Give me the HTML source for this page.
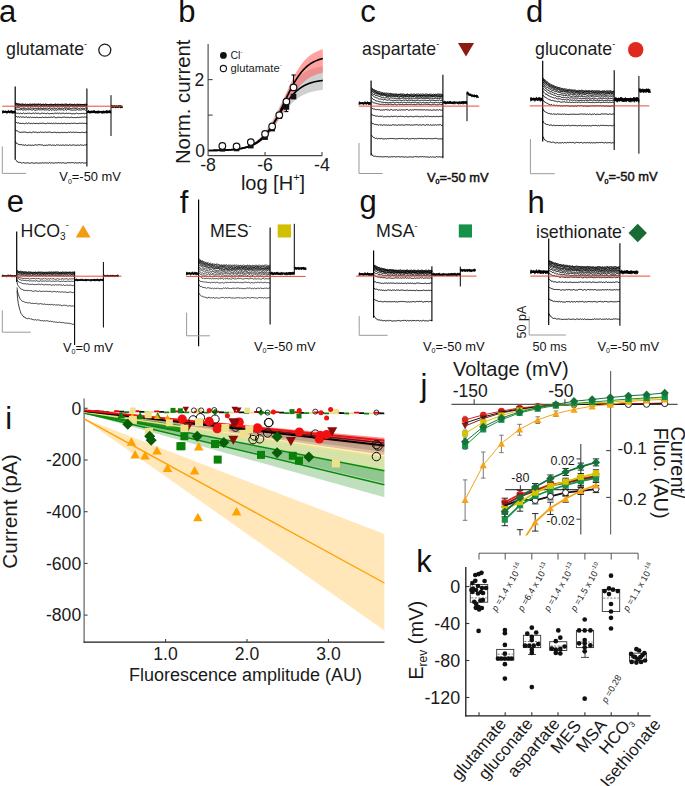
<!DOCTYPE html>
<html><head><meta charset="utf-8"><style>
html,body{margin:0;padding:0;background:#fff;}
svg{display:block;}
text{font-family:"Liberation Sans", sans-serif;}
</style></head><body>
<svg width="685" height="786" viewBox="0 0 685 786">
<rect width="685" height="786" fill="#fff"/>
<text x="-1.1" y="22.1" font-size="31" text-anchor="start" fill="#111" >a</text>
<text x="178.2" y="22.1" font-size="31" text-anchor="start" fill="#111" >b</text>
<text x="360.3" y="22.1" font-size="31" text-anchor="start" fill="#111" >c</text>
<text x="526" y="22.1" font-size="31" text-anchor="start" fill="#111" >d</text>
<text x="6.8" y="212.4" font-size="31" text-anchor="start" fill="#111" >e</text>
<text x="179.7" y="212.9" font-size="31" text-anchor="start" fill="#111" >f</text>
<text x="359.6" y="212.1" font-size="31" text-anchor="start" fill="#111" >g</text>
<text x="527.6" y="212.6" font-size="31" text-anchor="start" fill="#111" >h</text>
<text x="5.3" y="428.7" font-size="31" text-anchor="start" fill="#111" >i</text>
<text x="420.4" y="396.2" font-size="31" text-anchor="start" fill="#111" >j</text>
<text x="416.2" y="572" font-size="31" text-anchor="start" fill="#111" >k</text>
<polyline points="15.5,102.5 16.1,102.81 16.8,103.71 17.5,103.88 18.2,103.64 18.9,103.96 19.6,104.02 20.3,104.24 21,104.4 21.7,103.88 22.4,103.85 23.1,104.52 23.8,104.21 24.5,104.48 25.2,103.88 25.9,104.24 26.6,104.47 27.3,104.08 28,104.65 28.7,104.62 29.4,103.92 30.1,103.92 30.8,104.33 31.5,104.65 32.2,104.2 32.9,104.07 33.6,104.24 34.3,103.92 35,104.08 35.7,104.25 36.4,104.3 37.1,104.09 37.8,104.08 38.5,104.07 39.2,104.27 39.9,104.13 40.6,103.92 41.3,104.57 42,104.35 42.7,104.41 43.4,104.05 44.1,104.69 44.8,104.59 45.5,104 46.2,104.17 46.9,104.48 47.6,104.47 48.3,104.65 49,104.24 49.7,104.56 50.4,104.44 51.1,104.14 51.8,104.37 52.5,104.61 53.2,104.58 53.9,104.3 54.6,104.37 55.3,103.93 56,104.09 56.7,104.54 57.4,104.23 58.1,104.04 58.8,104.34 59.5,104.46 60.2,104.44 60.9,104.2 61.6,104.25 62.3,104.31 63,104.52 63.7,104.32 64.4,104.21 65.1,104.29 65.8,103.92 66.5,103.93 67.2,104.46 67.9,104.69 68.6,104.37 69.3,104.21 70,104.04 70.7,104.3 71.4,104.69 72.1,104.52 72.8,104.33 73.5,104.59 74.2,104.09 74.9,104.31 75.6,104.66 76.3,104.36 77,104.27 77.7,104.12 78.4,104.34 79.1,104.67 79.8,103.9 80.5,104.53 81.2,104.56 81.9,104.61 82.6,104.49 83.3,104.55 84,104.31 84.7,104.35 85.4,104.24 86.1,103.94 86.8,104.6 86.9,104.3" fill="none" stroke="#000" stroke-width="0.9" stroke-linejoin="round" />
<polyline points="15.5,103 16.1,103.63 16.8,103.64 17.5,104.11 18.2,104.25 18.9,104.27 19.6,104.35 20.3,104.56 21,104.68 21.7,104.7 22.4,104.6 23.1,104.28 23.8,104.45 24.5,104.42 25.2,104.75 25.9,104.98 26.6,104.93 27.3,104.93 28,104.95 28.7,104.5 29.4,104.97 30.1,104.84 30.8,104.37 31.5,104.31 32.2,104.31 32.9,104.9 33.6,104.5 34.3,104.39 35,104.8 35.7,104.58 36.4,104.36 37.1,104.43 37.8,104.72 38.5,104.43 39.2,104.52 39.9,104.87 40.6,104.66 41.3,104.56 42,104.68 42.7,104.32 43.4,104.61 44.1,104.64 44.8,104.45 45.5,104.39 46.2,105.02 46.9,104.71 47.6,104.47 48.3,104.78 49,104.95 49.7,104.32 50.4,104.31 51.1,104.42 51.8,104.88 52.5,104.43 53.2,104.86 53.9,104.84 54.6,104.74 55.3,104.48 56,105.08 56.7,104.94 57.4,104.71 58.1,104.48 58.8,104.82 59.5,104.62 60.2,104.76 60.9,104.56 61.6,104.8 62.3,104.35 63,104.54 63.7,105.07 64.4,105 65.1,104.55 65.8,104.99 66.5,104.55 67.2,105.05 67.9,104.9 68.6,104.63 69.3,104.5 70,104.31 70.7,105 71.4,104.33 72.1,104.96 72.8,105.07 73.5,104.76 74.2,104.44 74.9,104.99 75.6,105.08 76.3,104.86 77,104.71 77.7,104.6 78.4,104.58 79.1,104.46 79.8,104.84 80.5,104.65 81.2,104.46 81.9,104.38 82.6,104.83 83.3,104.54 84,104.7 84.7,104.56 85.4,105 86.1,105.02 86.8,104.31 86.9,104.7" fill="none" stroke="#000" stroke-width="0.9" stroke-linejoin="round" />
<polyline points="15.5,103.5 16.1,103.83 16.8,104.24 17.5,104.99 18.2,104.99 18.9,104.76 19.6,104.74 20.3,105.17 21,105.35 21.7,105.46 22.4,105.01 23.1,105.46 23.8,105.32 24.5,105.16 25.2,105.57 25.9,104.97 26.6,105.37 27.3,104.86 28,104.93 28.7,105.53 29.4,104.97 30.1,105.41 30.8,105.28 31.5,105.47 32.2,105.09 32.9,105.07 33.6,105.03 34.3,105.49 35,105.28 35.7,105.56 36.4,105.51 37.1,104.91 37.8,105.24 38.5,104.88 39.2,104.83 39.9,104.86 40.6,105.49 41.3,105.43 42,105.46 42.7,105.07 43.4,105.29 44.1,105.43 44.8,105.1 45.5,105.26 46.2,104.98 46.9,104.87 47.6,105.01 48.3,105.51 49,105.25 49.7,105.54 50.4,105.17 51.1,105.02 51.8,105.43 52.5,105.46 53.2,104.81 53.9,105.34 54.6,104.87 55.3,104.89 56,105.51 56.7,104.83 57.4,104.99 58.1,105.59 58.8,105.14 59.5,104.89 60.2,104.93 60.9,104.99 61.6,105.4 62.3,104.88 63,105.53 63.7,105.1 64.4,105.58 65.1,105.53 65.8,105.04 66.5,105 67.2,105.18 67.9,104.88 68.6,105.32 69.3,104.83 70,104.81 70.7,105.59 71.4,105.04 72.1,105.28 72.8,105.16 73.5,105.05 74.2,104.85 74.9,105.53 75.6,105.58 76.3,105.58 77,104.89 77.7,104.97 78.4,105.29 79.1,105.58 79.8,105.23 80.5,105.35 81.2,105.33 81.9,105.01 82.6,105.23 83.3,105.05 84,105 84.7,104.87 85.4,105.02 86.1,105.59 86.8,105.16 86.9,105.2" fill="none" stroke="#000" stroke-width="0.9" stroke-linejoin="round" />
<polyline points="15.5,104.3 16.1,104.93 16.8,105.19 17.5,105.63 18.2,105.33 18.9,105.37 19.6,105.46 20.3,105.51 21,105.97 21.7,106.04 22.4,105.59 23.1,105.63 23.8,105.81 24.5,105.84 25.2,105.86 25.9,105.58 26.6,105.41 27.3,105.59 28,105.45 28.7,105.84 29.4,105.45 30.1,105.46 30.8,105.91 31.5,105.63 32.2,106.03 32.9,105.79 33.6,106.09 34.3,105.52 35,105.8 35.7,106.04 36.4,105.46 37.1,106.16 37.8,105.54 38.5,106.02 39.2,106.19 39.9,106.06 40.6,105.66 41.3,105.49 42,105.81 42.7,106.14 43.4,105.63 44.1,106.12 44.8,105.51 45.5,106.13 46.2,105.43 46.9,105.65 47.6,106.12 48.3,106.04 49,106.13 49.7,106.07 50.4,106 51.1,105.95 51.8,105.54 52.5,105.75 53.2,105.53 53.9,105.97 54.6,105.93 55.3,105.6 56,105.45 56.7,106.17 57.4,106.05 58.1,105.84 58.8,105.83 59.5,106.08 60.2,105.76 60.9,105.72 61.6,105.67 62.3,105.61 63,105.42 63.7,105.92 64.4,105.73 65.1,105.86 65.8,105.45 66.5,105.68 67.2,105.51 67.9,105.5 68.6,105.61 69.3,106.06 70,105.72 70.7,105.72 71.4,105.89 72.1,105.59 72.8,105.41 73.5,105.82 74.2,105.8 74.9,105.92 75.6,105.75 76.3,105.95 77,105.99 77.7,105.59 78.4,105.8 79.1,105.78 79.8,105.58 80.5,105.73 81.2,105.85 81.9,106.13 82.6,106.13 83.3,105.62 84,105.92 84.7,105.44 85.4,105.46 86.1,105.81 86.8,106.1 86.9,105.8" fill="none" stroke="#000" stroke-width="0.9" stroke-linejoin="round" />
<polyline points="15.5,105.2 16.1,105.4 16.8,106.14 17.5,106.41 18.2,106.09 18.9,106.49 19.6,106.69 20.3,106.36 21,106.66 21.7,106.72 22.4,106.62 23.1,106.85 23.8,106.89 24.5,106.95 25.2,106.64 25.9,106.33 26.6,106.39 27.3,106.37 28,106.65 28.7,106.8 29.4,106.24 30.1,106.74 30.8,106.77 31.5,106.48 32.2,106.61 32.9,106.33 33.6,106.78 34.3,106.23 35,106.98 35.7,106.85 36.4,106.7 37.1,106.41 37.8,106.93 38.5,106.97 39.2,106.31 39.9,106.82 40.6,106.87 41.3,106.73 42,106.76 42.7,106.56 43.4,106.94 44.1,106.98 44.8,106.51 45.5,106.84 46.2,106.55 46.9,106.33 47.6,106.46 48.3,106.3 49,106.93 49.7,106.97 50.4,106.3 51.1,106.68 51.8,106.53 52.5,106.29 53.2,106.44 53.9,106.4 54.6,106.8 55.3,106.2 56,106.35 56.7,106.55 57.4,106.22 58.1,106.7 58.8,106.68 59.5,106.87 60.2,106.37 60.9,106.43 61.6,106.63 62.3,106.42 63,106.67 63.7,106.4 64.4,106.75 65.1,106.83 65.8,106.85 66.5,106.98 67.2,106.64 67.9,106.59 68.6,106.88 69.3,106.82 70,106.66 70.7,106.51 71.4,106.43 72.1,106.29 72.8,106.85 73.5,106.29 74.2,106.8 74.9,106.64 75.6,106.97 76.3,106.81 77,106.98 77.7,106.31 78.4,106.6 79.1,106.66 79.8,106.45 80.5,106.6 81.2,106.49 81.9,106.62 82.6,106.2 83.3,106.55 84,106.56 84.7,106.44 85.4,106.52 86.1,106.83 86.8,106.75 86.9,106.6" fill="none" stroke="#000" stroke-width="0.9" stroke-linejoin="round" />
<polyline points="15.5,107 16.1,107.43 16.8,107.79 17.5,107.75 18.2,107.73 18.9,107.66 19.6,107.95 20.3,108.25 21,108.51 21.7,108.5 22.4,108.26 23.1,108.65 23.8,108.24 24.5,108.55 25.2,108.21 25.9,108.49 26.6,108.68 27.3,108.14 28,108.03 28.7,108.39 29.4,108.32 30.1,108.19 30.8,107.9 31.5,108.21 32.2,108.24 32.9,108.22 33.6,108.59 34.3,108.37 35,108.49 35.7,108.62 36.4,108.5 37.1,108.29 37.8,108.5 38.5,108.41 39.2,108.42 39.9,108.4 40.6,108.23 41.3,108.4 42,108.41 42.7,108.65 43.4,108.53 44.1,108.58 44.8,108.51 45.5,108.55 46.2,108.38 46.9,108.18 47.6,108.11 48.3,108.47 49,108.6 49.7,108.34 50.4,108.02 51.1,108.57 51.8,108.29 52.5,108.27 53.2,107.94 53.9,108.31 54.6,108.5 55.3,108.24 56,108.18 56.7,108.43 57.4,107.92 58.1,108.31 58.8,108.66 59.5,108.45 60.2,108.22 60.9,108.45 61.6,108.38 62.3,108.07 63,108.07 63.7,108.61 64.4,108.12 65.1,107.96 65.8,108.56 66.5,108.32 67.2,108.19 67.9,108.31 68.6,108.49 69.3,108.03 70,108.42 70.7,108.47 71.4,108.55 72.1,108.12 72.8,108.39 73.5,108.09 74.2,108.35 74.9,108.04 75.6,108.53 76.3,108.59 77,108.16 77.7,108.08 78.4,108.67 79.1,108.47 79.8,108.58 80.5,107.92 81.2,108.62 81.9,108.4 82.6,108.15 83.3,108.25 84,108.51 84.7,108.53 85.4,108.05 86.1,108.4 86.8,108.03 86.9,108.3" fill="none" stroke="#000" stroke-width="0.9" stroke-linejoin="round" />
<polyline points="15.5,108.8 16.1,109.55 16.8,109.32 17.5,109.84 18.2,109.8 18.9,109.78 19.6,109.56 20.3,109.81 21,109.53 21.7,109.55 22.4,110.03 23.1,109.76 23.8,110.08 24.5,109.68 25.2,110.06 25.9,110.07 26.6,109.74 27.3,109.58 28,109.81 28.7,109.89 29.4,109.58 30.1,109.65 30.8,109.54 31.5,109.98 32.2,110.21 32.9,109.67 33.6,109.53 34.3,110.06 35,110.15 35.7,110.27 36.4,109.99 37.1,109.77 37.8,110.17 38.5,109.59 39.2,110.05 39.9,109.58 40.6,109.82 41.3,109.9 42,109.8 42.7,109.63 43.4,109.69 44.1,110.16 44.8,109.87 45.5,109.96 46.2,109.67 46.9,110.07 47.6,109.76 48.3,109.97 49,110.23 49.7,110.3 50.4,109.54 51.1,110.14 51.8,110.19 52.5,109.76 53.2,109.81 53.9,109.96 54.6,110.24 55.3,109.82 56,110.2 56.7,110.11 57.4,109.62 58.1,110.23 58.8,109.51 59.5,109.62 60.2,110.03 60.9,109.55 61.6,109.8 62.3,109.6 63,109.87 63.7,110.17 64.4,110.22 65.1,109.53 65.8,109.55 66.5,110.17 67.2,109.53 67.9,109.72 68.6,109.59 69.3,109.57 70,109.52 70.7,110.01 71.4,110.1 72.1,110.05 72.8,110.18 73.5,110.03 74.2,109.81 74.9,110 75.6,110.28 76.3,110.01 77,109.69 77.7,109.55 78.4,110.25 79.1,109.97 79.8,109.78 80.5,109.98 81.2,109.95 81.9,109.92 82.6,109.55 83.3,109.78 84,109.83 84.7,109.66 85.4,110.2 86.1,109.84 86.8,110.03 86.9,109.9" fill="none" stroke="#000" stroke-width="0.9" stroke-linejoin="round" />
<polyline points="15.5,112.6 16.1,113.04 16.8,113.21 17.5,113.3 18.2,113.4 18.9,113.05 19.6,113.67 20.3,113.04 21,113.68 21.7,113.64 22.4,113.65 23.1,113.02 23.8,113.06 24.5,113.64 25.2,113.37 25.9,113.29 26.6,113.78 27.3,113.03 28,113.42 28.7,113.35 29.4,113.1 30.1,113.32 30.8,113.57 31.5,113.71 32.2,113.02 32.9,113.42 33.6,113.07 34.3,113.64 35,113.07 35.7,113.03 36.4,113.31 37.1,113.59 37.8,113.25 38.5,113.1 39.2,113.64 39.9,113.65 40.6,113.68 41.3,113.24 42,113.34 42.7,113.2 43.4,113.45 44.1,113.26 44.8,113.27 45.5,113.63 46.2,113.77 46.9,113.47 47.6,113.08 48.3,113.52 49,113.36 49.7,113.79 50.4,113.58 51.1,113.67 51.8,113.56 52.5,113.43 53.2,113.72 53.9,113.67 54.6,113.23 55.3,113.13 56,113.3 56.7,113.42 57.4,113.08 58.1,113.28 58.8,113.46 59.5,113.03 60.2,113.65 60.9,113.52 61.6,113.25 62.3,113.24 63,113.28 63.7,113.26 64.4,113.6 65.1,113.4 65.8,113.42 66.5,113.12 67.2,113.73 67.9,113.26 68.6,113.26 69.3,113.06 70,113.78 70.7,113.38 71.4,113.73 72.1,113.74 72.8,113.78 73.5,113.65 74.2,113.74 74.9,113.74 75.6,113.64 76.3,113.11 77,113.42 77.7,113.46 78.4,113.79 79.1,113.63 79.8,113.56 80.5,113.6 81.2,113.29 81.9,113.75 82.6,113.51 83.3,113.32 84,113.37 84.7,113.78 85.4,113.43 86.1,113.13 86.8,113.12 86.9,113.4" fill="none" stroke="#000" stroke-width="0.9" stroke-linejoin="round" />
<polyline points="15.5,115.8 16.1,116.45 16.8,116.63 17.5,117.1 18.2,116.66 18.9,116.95 19.6,117.28 20.3,116.79 21,116.87 21.7,117.26 22.4,117.06 23.1,116.94 23.8,117.08 24.5,117.38 25.2,117.31 25.9,116.95 26.6,116.95 27.3,117.57 28,117.41 28.7,117.04 29.4,117.59 30.1,116.92 30.8,117.19 31.5,117.58 32.2,117.47 32.9,117.13 33.6,117.61 34.3,117.38 35,117.59 35.7,117.61 36.4,117.24 37.1,117.44 37.8,117.34 38.5,117.66 39.2,117.54 39.9,117.48 40.6,117.55 41.3,117.7 42,117.11 42.7,117.06 43.4,117.5 44.1,117.52 44.8,117.31 45.5,117.29 46.2,117.22 46.9,117.61 47.6,117.54 48.3,117.37 49,116.93 49.7,117.58 50.4,117.27 51.1,117.05 51.8,117.14 52.5,117.45 53.2,116.9 53.9,117 54.6,117.14 55.3,117.61 56,117.5 56.7,117.68 57.4,117.33 58.1,117.36 58.8,117.34 59.5,117.32 60.2,117.33 60.9,117.55 61.6,117.66 62.3,117.23 63,117.4 63.7,117.15 64.4,117.14 65.1,117.31 65.8,117.37 66.5,117.34 67.2,117.68 67.9,117.03 68.6,117.41 69.3,117.7 70,117.49 70.7,117.35 71.4,117.19 72.1,117.22 72.8,117.65 73.5,117.62 74.2,117.44 74.9,117.62 75.6,117.64 76.3,117.58 77,117.21 77.7,117.27 78.4,117.54 79.1,117.2 79.8,117.5 80.5,117.29 81.2,117.17 81.9,117.26 82.6,116.99 83.3,117.18 84,117.23 84.7,116.91 85.4,117.04 86.1,117.11 86.8,117.59 86.9,117.3" fill="none" stroke="#000" stroke-width="0.9" stroke-linejoin="round" />
<polyline points="15.5,121.8 16.1,122.41 16.8,122.46 17.5,123.24 18.2,122.8 18.9,123.11 19.6,123.38 20.3,123.4 21,123.23 21.7,123.54 22.4,123.33 23.1,123.53 23.8,123.36 24.5,123.75 25.2,123.56 25.9,123.06 26.6,123.09 27.3,123.77 28,123.18 28.7,123.02 29.4,123.2 30.1,123.38 30.8,123.76 31.5,123.32 32.2,123.58 32.9,123.67 33.6,123.07 34.3,123.49 35,123.8 35.7,123.44 36.4,123.43 37.1,123.28 37.8,123.76 38.5,123.78 39.2,123.08 39.9,123.44 40.6,123.34 41.3,123.54 42,123.09 42.7,123.21 43.4,123.22 44.1,123.38 44.8,123.63 45.5,123.69 46.2,123.63 46.9,123.54 47.6,123.07 48.3,123.31 49,123.53 49.7,123.24 50.4,123.41 51.1,123.72 51.8,123.09 52.5,123.68 53.2,123.08 53.9,123.31 54.6,123.72 55.3,123.16 56,123.42 56.7,123.33 57.4,123.71 58.1,123.79 58.8,123.23 59.5,123.39 60.2,123.72 60.9,123.44 61.6,123.17 62.3,123.61 63,123.27 63.7,123.39 64.4,123.01 65.1,123.79 65.8,123.53 66.5,123.74 67.2,123.77 67.9,123.21 68.6,123.43 69.3,123.35 70,123.61 70.7,123.67 71.4,123.18 72.1,123.22 72.8,123.57 73.5,123.33 74.2,123.1 74.9,123.16 75.6,123.45 76.3,123.48 77,123.77 77.7,123.43 78.4,123.49 79.1,123.12 79.8,123.33 80.5,123.22 81.2,123.56 81.9,123.21 82.6,123.17 83.3,123.29 84,123.38 84.7,123.27 85.4,123.48 86.1,123.14 86.8,123.7 86.9,123.4" fill="none" stroke="#000" stroke-width="0.9" stroke-linejoin="round" />
<polyline points="15.5,129.4 16.1,130.56 16.8,130.98 17.5,130.99 18.2,131.49 18.9,131.99 19.6,132.11 20.3,132.35 21,132.5 21.7,132.1 22.4,132.28 23.1,132.18 23.8,132.04 24.5,132.07 25.2,132.17 25.9,132.05 26.6,132.41 27.3,132.55 28,132.44 28.7,132.54 29.4,132.18 30.1,132.16 30.8,132.45 31.5,132.71 32.2,132.34 32.9,132 33.6,132.02 34.3,132.24 35,132.49 35.7,132.07 36.4,132.18 37.1,132.54 37.8,132.79 38.5,132.27 39.2,132.48 39.9,132.41 40.6,132.02 41.3,132.26 42,132.11 42.7,132.2 43.4,132.62 44.1,132.54 44.8,132.03 45.5,132.06 46.2,132.58 46.9,132.08 47.6,132.25 48.3,132.22 49,132.04 49.7,132.02 50.4,132.11 51.1,132.32 51.8,132.75 52.5,132.51 53.2,132.19 53.9,132.54 54.6,132.22 55.3,132.41 56,132.26 56.7,132.76 57.4,132.28 58.1,132.64 58.8,132.51 59.5,132.67 60.2,132.48 60.9,132.7 61.6,132.32 62.3,132.54 63,132.5 63.7,132.42 64.4,132.45 65.1,132.43 65.8,132.32 66.5,132.72 67.2,132.51 67.9,132.44 68.6,132.04 69.3,132.41 70,132.14 70.7,132.17 71.4,132.35 72.1,132.44 72.8,132.2 73.5,132.22 74.2,132.42 74.9,132.38 75.6,132.32 76.3,132.08 77,132.3 77.7,132.52 78.4,132.44 79.1,132.44 79.8,132.68 80.5,132.58 81.2,132.55 81.9,132.02 82.6,132.25 83.3,132.55 84,132.12 84.7,132.73 85.4,132.11 86.1,132.7 86.8,132.17 86.9,132.4" fill="none" stroke="#000" stroke-width="0.9" stroke-linejoin="round" />
<polyline points="15.5,141.3 16.1,142.85 16.8,143.54 17.5,143.63 18.2,144.44 18.9,144.12 19.6,144.87 20.3,144.63 21,144.78 21.7,144.6 22.4,145.04 23.1,144.81 23.8,145.16 24.5,145.28 25.2,145.14 25.9,144.68 26.6,145.44 27.3,145.42 28,145.2 28.7,145 29.4,145.14 30.1,145.4 30.8,145.06 31.5,145.32 32.2,145.18 32.9,145.04 33.6,145.45 34.3,145.03 35,145.18 35.7,144.74 36.4,145.08 37.1,144.73 37.8,145.26 38.5,144.7 39.2,144.73 39.9,144.79 40.6,144.81 41.3,145.11 42,144.99 42.7,144.92 43.4,145.49 44.1,145.43 44.8,145.22 45.5,145.34 46.2,145.36 46.9,144.9 47.6,145.35 48.3,144.89 49,145.15 49.7,144.99 50.4,144.83 51.1,145.32 51.8,145.43 52.5,144.95 53.2,145.4 53.9,144.98 54.6,145.23 55.3,145.5 56,145.32 56.7,144.74 57.4,145.05 58.1,145 58.8,144.94 59.5,145.35 60.2,145.05 60.9,145.26 61.6,145.21 62.3,145.12 63,144.74 63.7,145.24 64.4,145.41 65.1,144.84 65.8,145.21 66.5,145.09 67.2,144.97 67.9,145.27 68.6,145.48 69.3,144.72 70,145.42 70.7,145.01 71.4,145.37 72.1,144.84 72.8,145.27 73.5,144.78 74.2,144.97 74.9,145.48 75.6,145.23 76.3,145.33 77,145.07 77.7,145.08 78.4,145.09 79.1,145.32 79.8,145.28 80.5,144.86 81.2,145.05 81.9,145.13 82.6,145.16 83.3,145.44 84,145.37 84.7,144.82 85.4,145 86.1,144.79 86.8,144.72 86.9,145.1" fill="none" stroke="#000" stroke-width="0.9" stroke-linejoin="round" />
<polyline points="15.5,159.7 16.1,160.43 16.8,161.1 17.5,161.99 18.2,162.22 18.9,162.54 19.6,162.3 20.3,162.31 21,163.05 21.7,162.99 22.4,163.14 23.1,162.43 23.8,162.75 24.5,162.96 25.2,163.05 25.9,163.21 26.6,162.91 27.3,162.8 28,162.49 28.7,163.14 29.4,163.28 30.1,163.22 30.8,163.03 31.5,162.77 32.2,162.69 32.9,163.12 33.6,163.25 34.3,163.27 35,162.64 35.7,162.97 36.4,162.91 37.1,162.84 37.8,163.14 38.5,163.25 39.2,163.08 39.9,163.06 40.6,163.05 41.3,163.02 42,162.93 42.7,162.7 43.4,163.12 44.1,162.6 44.8,163.02 45.5,162.81 46.2,162.95 46.9,163.01 47.6,162.88 48.3,163.28 49,162.69 49.7,162.51 50.4,163.26 51.1,162.75 51.8,162.72 52.5,162.83 53.2,162.98 53.9,163.29 54.6,163.07 55.3,162.75 56,162.93 56.7,162.86 57.4,162.9 58.1,162.83 58.8,162.63 59.5,162.82 60.2,162.81 60.9,162.66 61.6,163.15 62.3,162.79 63,162.62 63.7,162.95 64.4,163.18 65.1,163.12 65.8,163 66.5,163.08 67.2,162.77 67.9,162.61 68.6,162.7 69.3,162.78 70,162.72 70.7,162.87 71.4,162.62 72.1,162.6 72.8,162.7 73.5,162.66 74.2,163.14 74.9,162.93 75.6,162.66 76.3,162.84 77,163.2 77.7,162.96 78.4,162.94 79.1,162.81 79.8,162.66 80.5,163 81.2,162.56 81.9,163.13 82.6,162.55 83.3,163.1 84,162.81 84.7,163.05 85.4,162.97 86.1,162.6 86.8,162.93 86.9,162.9" fill="none" stroke="#000" stroke-width="0.9" stroke-linejoin="round" />
<line x1="2.3" y1="111.9" x2="15.2" y2="111.9" stroke="#000" stroke-width="1.9599999999999997" />
<polyline points="2.3,113.48 2.6,113.45 2.9,110.36 3.2,110.46 3.5,113.06 3.8,112.72 4.1,112.49 4.4,111.23 4.7,112.27 5,112.27 5.3,112.18 5.6,110.71 5.9,111.66 6.2,111.53 6.5,112.67 6.8,113.62 7.1,113.46 7.4,112.05 7.7,111.71 8,111.1 8.3,110.29 8.6,110.26 8.9,111.78 9.2,111.27 9.5,111.48 9.8,113.26 10.1,111.99 10.4,112.11 10.7,110.98 11,110.25 11.3,111.29 11.6,110.64 11.9,111.94 12.2,113.63 12.5,112.51 12.8,110.8 13.1,113.27 13.4,112.93 13.7,112.71 14,113.31 14.3,112.81 14.6,112.91 14.9,111.39 15.2,113.57" fill="none" stroke="#000" stroke-width="0.75" stroke-linejoin="round" />
<line x1="86.9" y1="111.9" x2="111" y2="111.9" stroke="#000" stroke-width="1.9599999999999997" />
<polyline points="86.9,110.99 87.2,112.05 87.5,111.45 87.8,112.26 88.1,112.34 88.4,110.39 88.7,110.21 89,113.07 89.3,111.06 89.6,110.98 89.9,113.62 90.2,111.8 90.5,113.07 90.8,111.82 91.1,112.38 91.4,110.69 91.7,112.37 92,113.18 92.3,111.98 92.6,112.74 92.9,112.5 93.2,110.39 93.5,112.8 93.8,112.22 94.1,111.21 94.4,110.27 94.7,113.17 95,111.81 95.3,112.66 95.6,113.22 95.9,112.64 96.2,113.36 96.5,111.54 96.8,112.94 97.1,111.71 97.4,113.41 97.7,113.22 98,110.5 98.3,110.64 98.6,110.92 98.9,113.52 99.2,111.68 99.5,112.34 99.8,111.21 100.1,111.93 100.4,111.5 100.7,111.38 101,112.2 101.3,112.19 101.6,113.3 101.9,112.53 102.2,113.39 102.5,113.14 102.8,113.6 103.1,112.49 103.4,110.73 103.7,113.15 104,113.51 104.3,113.31 104.6,112.14 104.9,112.64 105.2,110.9 105.5,113.05 105.8,112.16 106.1,111.15 106.4,110.38 106.7,113.13 107,113.6 107.3,110.47 107.6,112.94 107.9,111.59 108.2,110.69 108.5,111.18 108.8,112.83 109.1,113.19 109.4,110.32 109.7,112.3 110,110.32 110.3,112.66 110.6,111.31 110.9,113.22 111,113.57" fill="none" stroke="#000" stroke-width="0.75" stroke-linejoin="round" />
<line x1="111" y1="106.6" x2="122.4" y2="106.6" stroke="#000" stroke-width="1.9599999999999997" />
<polyline points="111,105.68 111.3,105.22 111.6,106.24 111.9,105.4 112.2,105.09 112.5,106.26 112.8,108.05 113.1,107.64 113.4,107.52 113.7,105.63 114,106.73 114.3,105.82 114.6,105.46 114.9,105.23 115.2,105.61 115.5,108.08 115.8,107.74 116.1,107.66 116.4,107.64 116.7,105.54 117,105.94 117.3,107.04 117.6,107.41 117.9,107.83 118.2,107.92 118.5,105.17 118.8,106.97 119.1,107.2 119.4,106.62 119.7,105.48 120,106.51 120.3,105.17 120.6,108.11 120.9,107.87 121.2,106.77 121.5,105.91 121.8,108.02 122.1,106.85 122.4,107.93 122.4,107.81" fill="none" stroke="#000" stroke-width="0.75" stroke-linejoin="round" />
<line x1="111" y1="95.2" x2="111" y2="136" stroke="#000" stroke-width="1.0" />
<line x1="15.2" y1="86.6" x2="15.2" y2="159.7" stroke="#000" stroke-width="1.2" />
<line x1="86.9" y1="88.5" x2="86.9" y2="166.4" stroke="#000" stroke-width="1.1" />
<line x1="2.3" y1="106.2" x2="122.4" y2="106.2" stroke="#e94a35" stroke-width="1.0" />
<polyline points="2.3,146.4 2.3,173.4 26.2,173.4" fill="none" stroke="#9a9a9a" stroke-width="1.0" stroke-linejoin="round" />
<polyline points="371.4,87.5 372,88.19 372.7,88.78 373.4,89.54 374.1,89.6 374.8,90.02 375.5,90.45 376.2,90.45 376.9,91.02 377.6,91.39 378.3,91.77 379,91.44 379.7,91.82 380.4,91.85 381.1,92.6 381.8,92.67 382.5,92.3 383.2,93.19 383.9,93.3 384.6,93.17 385.3,93.24 386,92.97 386.7,92.94 387.4,93.44 388.1,93.14 388.8,93.31 389.5,93.41 390.2,93.3 390.9,93.7 391.6,93.73 392.3,94.09 393,93.88 393.7,94.01 394.4,93.93 395.1,94.09 395.8,93.96 396.5,93.84 397.2,94.44 397.9,94.46 398.6,94.35 399.3,94.27 400,93.97 400.7,93.92 401.4,93.98 402.1,93.82 402.8,94.38 403.5,94.1 404.2,94.47 404.9,94.11 405.6,94.58 406.3,94.49 407,93.82 407.7,94 408.4,94.56 409.1,94.22 409.8,94.63 410.5,94.17 411.2,93.91 411.9,94.36 412.6,94.48 413.3,94.08 414,93.94 414.7,94.14 415.4,94.64 416.1,94.48 416.8,93.97 417.5,94.08 418.2,93.96 418.9,93.93 419.6,94.52 420.3,94.03 421,94.33 421.7,94.25 422.4,94.04 423.1,94.48 423.8,94 424.5,94.41 425.2,93.99 425.9,94.23 426.6,94.06 427.3,94.11 428,94.67 428.7,94.54 429.4,94.14 430.1,94.6 430.8,94.06 431.5,94.21 432.2,94.58 432.9,94.41 433.6,93.98 434.3,94.69 435,94.07 435.7,94.1 436.4,94.52 437.1,94.16 437.8,94.14 438.5,93.96 439.2,93.97 439.9,94.36 440.6,94.09 441.3,94.38 442,94.2 442.7,94.26 442.9,94.3" fill="none" stroke="#000" stroke-width="0.9" stroke-linejoin="round" />
<polyline points="371.4,88.5 372,89.56 372.7,89.67 373.4,90.18 374.1,90.83 374.8,90.65 375.5,90.97 376.2,91.89 376.9,92.11 377.6,91.92 378.3,92.11 379,92.77 379.7,93.13 380.4,92.72 381.1,93.5 381.8,93.6 382.5,93.52 383.2,93.5 383.9,93.37 384.6,93.43 385.3,94.27 386,93.78 386.7,94.24 387.4,93.96 388.1,94.48 388.8,94.37 389.5,94.18 390.2,94.14 390.9,94.63 391.6,94.15 392.3,94.32 393,94.63 393.7,94.9 394.4,94.74 395.1,94.5 395.8,95.04 396.5,94.49 397.2,94.36 397.9,94.59 398.6,94.75 399.3,94.46 400,94.57 400.7,94.73 401.4,94.91 402.1,94.57 402.8,94.77 403.5,95.2 404.2,95.28 404.9,95.03 405.6,95.07 406.3,94.99 407,94.64 407.7,94.56 408.4,94.55 409.1,95.27 409.8,95.11 410.5,95.32 411.2,94.57 411.9,95.07 412.6,94.95 413.3,95.15 414,94.82 414.7,95.37 415.4,94.63 416.1,95.01 416.8,95.17 417.5,95.3 418.2,95.17 418.9,95.15 419.6,95.22 420.3,95.32 421,94.87 421.7,95.14 422.4,95.31 423.1,95.29 423.8,94.92 424.5,95.22 425.2,95.28 425.9,95.05 426.6,95.09 427.3,94.9 428,95.06 428.7,95.08 429.4,94.66 430.1,95.11 430.8,95.39 431.5,95.3 432.2,95.18 432.9,94.91 433.6,95.19 434.3,95.06 435,94.95 435.7,95.27 436.4,94.67 437.1,95.2 437.8,94.62 438.5,95.08 439.2,94.98 439.9,94.78 440.6,95.16 441.3,95 442,95.09 442.7,95.34 442.9,95" fill="none" stroke="#000" stroke-width="0.9" stroke-linejoin="round" />
<polyline points="371.4,89.2 372,89.69 372.7,89.97 373.4,90.64 374.1,91.34 374.8,91.33 375.5,91.64 376.2,92.54 376.9,92.63 377.6,92.71 378.3,93.31 379,93.08 379.7,93.55 380.4,93.36 381.1,93.71 381.8,94.16 382.5,94.39 383.2,94.49 383.9,94.22 384.6,94.48 385.3,94.37 386,94.32 386.7,94.69 387.4,95.04 388.1,95.11 388.8,95.07 389.5,95.32 390.2,94.83 390.9,94.8 391.6,95.07 392.3,94.97 393,94.96 393.7,95.15 394.4,95.35 395.1,95.28 395.8,95.16 396.5,95.6 397.2,95.74 397.9,95.34 398.6,95.05 399.3,95.04 400,95.73 400.7,95.07 401.4,95.62 402.1,95.52 402.8,95.33 403.5,95.72 404.2,95.11 404.9,95.22 405.6,95.48 406.3,95.14 407,95.79 407.7,95.32 408.4,95.25 409.1,95.18 409.8,95.65 410.5,95.51 411.2,95.66 411.9,95.69 412.6,95.81 413.3,95.93 414,95.72 414.7,95.33 415.4,95.55 416.1,95.32 416.8,95.19 417.5,95.56 418.2,95.75 418.9,95.33 419.6,95.4 420.3,95.46 421,95.75 421.7,95.6 422.4,95.68 423.1,95.8 423.8,95.51 424.5,95.83 425.2,95.92 425.9,95.26 426.6,95.94 427.3,95.77 428,95.3 428.7,95.56 429.4,95.7 430.1,95.92 430.8,95.5 431.5,95.65 432.2,95.9 432.9,95.83 433.6,95.95 434.3,95.57 435,95.72 435.7,95.36 436.4,95.78 437.1,95.85 437.8,95.71 438.5,95.77 439.2,95.37 439.9,95.92 440.6,95.98 441.3,95.98 442,95.63 442.7,95.83 442.9,95.6" fill="none" stroke="#000" stroke-width="0.9" stroke-linejoin="round" />
<polyline points="371.4,90 372,90.53 372.7,91.47 373.4,91.86 374.1,91.85 374.8,92 375.5,92.62 376.2,93.01 376.9,93.46 377.6,93.49 378.3,93.36 379,94.2 379.7,93.8 380.4,94.57 381.1,94.23 381.8,94.51 382.5,95.02 383.2,94.62 383.9,94.75 384.6,95.15 385.3,95.41 386,95.59 386.7,95.56 387.4,95.84 388.1,95.54 388.8,95.97 389.5,95.34 390.2,95.5 390.9,95.79 391.6,95.65 392.3,96.04 393,96 393.7,95.94 394.4,96.23 395.1,96.03 395.8,95.86 396.5,95.94 397.2,96.33 397.9,96.4 398.6,95.86 399.3,96.4 400,96.5 400.7,96.16 401.4,96.22 402.1,95.93 402.8,96.21 403.5,96.19 404.2,96.28 404.9,95.83 405.6,96.59 406.3,96.24 407,96.15 407.7,96.48 408.4,96.29 409.1,96.24 409.8,96.4 410.5,95.91 411.2,96.29 411.9,96.19 412.6,96.63 413.3,96.61 414,96.09 414.7,96.25 415.4,95.98 416.1,96.22 416.8,96.53 417.5,96.6 418.2,96.26 418.9,96.14 419.6,96.04 420.3,96.38 421,96.63 421.7,95.99 422.4,96.51 423.1,95.91 423.8,96.05 424.5,96.07 425.2,96.44 425.9,96.15 426.6,96.18 427.3,96.39 428,95.98 428.7,96.48 429.4,95.99 430.1,96.3 430.8,96.1 431.5,96.05 432.2,96.32 432.9,96.25 433.6,96.2 434.3,96.23 435,96.32 435.7,96.03 436.4,96.06 437.1,96.4 437.8,96.41 438.5,96.32 439.2,96.58 439.9,96.39 440.6,96.58 441.3,96.09 442,96.49 442.7,96.55 442.9,96.3" fill="none" stroke="#000" stroke-width="0.9" stroke-linejoin="round" />
<polyline points="371.4,91 372,91.96 372.7,91.94 373.4,92.35 374.1,93.21 374.8,93 375.5,93.94 376.2,94.14 376.9,93.8 377.6,94.13 378.3,94.74 379,94.57 379.7,94.63 380.4,95.39 381.1,95.22 381.8,95.66 382.5,95.26 383.2,95.6 383.9,95.94 384.6,95.5 385.3,95.74 386,96.21 386.7,96.48 387.4,96.59 388.1,95.98 388.8,96.35 389.5,96.6 390.2,96.45 390.9,96.64 391.6,96.29 392.3,96.23 393,96.3 393.7,96.27 394.4,96.72 395.1,96.71 395.8,96.78 396.5,96.47 397.2,96.52 397.9,96.55 398.6,97.08 399.3,97.22 400,97.18 400.7,96.53 401.4,96.51 402.1,97.24 402.8,96.86 403.5,97.11 404.2,96.77 404.9,96.89 405.6,96.93 406.3,96.87 407,97.01 407.7,96.55 408.4,97.1 409.1,97.22 409.8,96.7 410.5,96.92 411.2,97.15 411.9,96.89 412.6,96.72 413.3,96.7 414,96.98 414.7,96.59 415.4,97.29 416.1,97.22 416.8,97.14 417.5,97.27 418.2,97.09 418.9,96.91 419.6,97.07 420.3,96.99 421,97.37 421.7,97.23 422.4,96.8 423.1,97.32 423.8,97.19 424.5,97.21 425.2,97.24 425.9,96.92 426.6,97.31 427.3,97.3 428,97.15 428.7,97.21 429.4,97.21 430.1,96.92 430.8,97.17 431.5,96.65 432.2,96.87 432.9,96.97 433.6,96.61 434.3,96.88 435,97.11 435.7,97.1 436.4,96.78 437.1,97.35 437.8,97.13 438.5,96.87 439.2,97.13 439.9,97.05 440.6,97.03 441.3,96.91 442,97.4 442.7,97.11 442.9,97" fill="none" stroke="#000" stroke-width="0.9" stroke-linejoin="round" />
<polyline points="371.4,92.5 372,93.38 372.7,93.94 373.4,94.56 374.1,94.21 374.8,95.06 375.5,95.49 376.2,95.41 376.9,95.8 377.6,95.77 378.3,96.11 379,96.46 379.7,96.42 380.4,96.71 381.1,97.39 381.8,97.24 382.5,97.33 383.2,97.81 383.9,97.59 384.6,98.02 385.3,97.82 386,98.03 386.7,97.51 387.4,97.99 388.1,98.18 388.8,97.66 389.5,98.41 390.2,97.84 390.9,98.12 391.6,97.91 392.3,98.21 393,98.33 393.7,97.91 394.4,98.64 395.1,98.24 395.8,98.35 396.5,98.42 397.2,98.25 397.9,98.2 398.6,98.51 399.3,98.44 400,98.23 400.7,98.59 401.4,98.26 402.1,98.04 402.8,98.23 403.5,98.08 404.2,98.17 404.9,98.66 405.6,98.37 406.3,98.78 407,98.66 407.7,98.11 408.4,98.86 409.1,98.83 409.8,98.13 410.5,98.8 411.2,98.42 411.9,98.46 412.6,98.86 413.3,98.28 414,98.51 414.7,98.84 415.4,98.67 416.1,98.46 416.8,98.87 417.5,98.75 418.2,98.58 418.9,98.19 419.6,98.59 420.3,98.46 421,98.26 421.7,98.14 422.4,98.52 423.1,98.2 423.8,98.45 424.5,98.63 425.2,98.46 425.9,98.31 426.6,98.56 427.3,98.43 428,98.72 428.7,98.52 429.4,98.9 430.1,98.86 430.8,98.69 431.5,98.29 432.2,98.19 432.9,98.81 433.6,98.73 434.3,98.6 435,98.39 435.7,98.32 436.4,98.65 437.1,98.55 437.8,98.57 438.5,98.61 439.2,98.7 439.9,98.25 440.6,98.3 441.3,98.88 442,98.83 442.7,98.8 442.9,98.5" fill="none" stroke="#000" stroke-width="0.9" stroke-linejoin="round" />
<polyline points="371.4,94.5 372,94.95 372.7,95.53 373.4,96.2 374.1,96.76 374.8,97.31 375.5,97.25 376.2,97.91 376.9,97.81 377.6,98.07 378.3,98.76 379,98.86 379.7,99.1 380.4,99.05 381.1,99.27 381.8,99.18 382.5,99.39 383.2,99.81 383.9,99.97 384.6,99.44 385.3,99.54 386,100.15 386.7,100.06 387.4,100.23 388.1,99.82 388.8,100.03 389.5,99.93 390.2,100.4 390.9,100.08 391.6,100.33 392.3,100.62 393,100.11 393.7,100.3 394.4,100.48 395.1,100.63 395.8,100.25 396.5,100.21 397.2,100 397.9,100.63 398.6,100 399.3,100.01 400,100.4 400.7,100.35 401.4,100.51 402.1,100.21 402.8,100.59 403.5,100.03 404.2,100.15 404.9,100.51 405.6,100.05 406.3,100.23 407,100.57 407.7,100.54 408.4,100.21 409.1,100.1 409.8,100.28 410.5,100.57 411.2,100.29 411.9,100.09 412.6,100.56 413.3,100.45 414,100.73 414.7,100.75 415.4,100.73 416.1,100.35 416.8,100.64 417.5,100.24 418.2,100.25 418.9,100.32 419.6,100.75 420.3,100.71 421,100.2 421.7,100.29 422.4,100.29 423.1,100.29 423.8,100.32 424.5,100.31 425.2,100.16 425.9,100.45 426.6,100.64 427.3,100.43 428,100.67 428.7,100.45 429.4,100.14 430.1,100.61 430.8,100.7 431.5,100.22 432.2,100.02 432.9,100.41 433.6,100.44 434.3,100.45 435,100.77 435.7,100.52 436.4,100.64 437.1,100.05 437.8,100.44 438.5,100.63 439.2,100.07 439.9,100.07 440.6,100.59 441.3,100.72 442,100.07 442.7,100.51 442.9,100.4" fill="none" stroke="#000" stroke-width="0.9" stroke-linejoin="round" />
<polyline points="371.4,97.5 372,98.06 372.7,99.09 373.4,99.5 374.1,99.6 374.8,99.94 375.5,100.7 376.2,100.78 376.9,101.21 377.6,101.13 378.3,101.26 379,101.92 379.7,101.82 380.4,101.8 381.1,101.94 381.8,102.18 382.5,102.24 383.2,102.48 383.9,102.13 384.6,102.52 385.3,102.44 386,102.62 386.7,102.62 387.4,102.67 388.1,102.74 388.8,102.82 389.5,102.58 390.2,102.51 390.9,102.67 391.6,102.76 392.3,102.46 393,102.47 393.7,102.26 394.4,102.74 395.1,102.95 395.8,102.46 396.5,102.3 397.2,102.34 397.9,102.52 398.6,102.41 399.3,102.96 400,102.23 400.7,102.43 401.4,102.28 402.1,102.71 402.8,102.81 403.5,102.34 404.2,102.24 404.9,102.56 405.6,102.66 406.3,102.92 407,102.23 407.7,102.28 408.4,102.34 409.1,102.37 409.8,102.39 410.5,102.77 411.2,102.67 411.9,102.38 412.6,102.35 413.3,102.42 414,102.34 414.7,102.81 415.4,102.45 416.1,102.64 416.8,102.85 417.5,102.58 418.2,102.41 418.9,102.91 419.6,102.93 420.3,102.47 421,102.64 421.7,102.97 422.4,102.59 423.1,102.38 423.8,102.24 424.5,102.96 425.2,102.84 425.9,102.51 426.6,102.62 427.3,102.61 428,102.42 428.7,102.99 429.4,102.73 430.1,102.39 430.8,102.21 431.5,102.58 432.2,102.5 432.9,102.84 433.6,102.77 434.3,102.68 435,102.33 435.7,102.33 436.4,102.46 437.1,102.41 437.8,102.9 438.5,102.61 439.2,102.71 439.9,102.99 440.6,102.41 441.3,102.63 442,102.32 442.7,102.82 442.9,102.6" fill="none" stroke="#000" stroke-width="0.9" stroke-linejoin="round" />
<polyline points="371.4,101 372,101.31 372.7,102.41 373.4,102.81 374.1,103.1 374.8,102.78 375.5,103.15 376.2,103.7 376.9,103.36 377.6,103.79 378.3,103.9 379,104.38 379.7,104.16 380.4,104.44 381.1,104.06 381.8,104.49 382.5,104.23 383.2,104.66 383.9,104.03 384.6,104.64 385.3,104.17 386,104.45 386.7,104.45 387.4,104.17 388.1,104.72 388.8,104.31 389.5,104.31 390.2,104.13 390.9,104.32 391.6,104.45 392.3,104.65 393,104.37 393.7,104.64 394.4,104.17 395.1,104.41 395.8,104.46 396.5,104.87 397.2,104.76 397.9,104.62 398.6,104.11 399.3,104.4 400,104.67 400.7,104.29 401.4,104.55 402.1,104.46 402.8,104.11 403.5,104.89 404.2,104.74 404.9,104.26 405.6,104.59 406.3,104.33 407,104.4 407.7,104.53 408.4,104.34 409.1,104.37 409.8,104.41 410.5,104.63 411.2,104.31 411.9,104.26 412.6,104.69 413.3,104.36 414,104.86 414.7,104.55 415.4,104.68 416.1,104.37 416.8,104.76 417.5,104.17 418.2,104.21 418.9,104.18 419.6,104.64 420.3,104.67 421,104.24 421.7,104.42 422.4,104.77 423.1,104.57 423.8,104.17 424.5,104.28 425.2,104.23 425.9,104.2 426.6,104.43 427.3,104.16 428,104.84 428.7,104.44 429.4,104.51 430.1,104.62 430.8,104.71 431.5,104.76 432.2,104.41 432.9,104.37 433.6,104.43 434.3,104.11 435,104.42 435.7,104.66 436.4,104.89 437.1,104.73 437.8,104.63 438.5,104.59 439.2,104.11 439.9,104.36 440.6,104.37 441.3,104.62 442,104.19 442.7,104.4 442.9,104.5" fill="none" stroke="#000" stroke-width="0.9" stroke-linejoin="round" />
<polyline points="371.4,107.5 372,108.13 372.7,108.72 373.4,109.05 374.1,109.11 374.8,108.93 375.5,109.56 376.2,109.78 376.9,109.59 377.6,109.51 378.3,109.68 379,109.44 379.7,109.93 380.4,110.18 381.1,109.83 381.8,110 382.5,110.11 383.2,109.62 383.9,110.22 384.6,109.98 385.3,109.64 386,109.55 386.7,109.68 387.4,109.95 388.1,110.05 388.8,109.76 389.5,110.24 390.2,109.78 390.9,109.87 391.6,109.6 392.3,110.28 393,109.61 393.7,110.22 394.4,109.93 395.1,109.95 395.8,109.95 396.5,109.71 397.2,110.23 397.9,110.29 398.6,110.15 399.3,109.98 400,109.6 400.7,110.16 401.4,109.73 402.1,110.22 402.8,109.69 403.5,109.96 404.2,110.16 404.9,109.65 405.6,109.94 406.3,109.56 407,109.53 407.7,109.64 408.4,110.29 409.1,110.25 409.8,110.03 410.5,109.75 411.2,110.04 411.9,110.09 412.6,109.81 413.3,109.97 414,110.14 414.7,109.51 415.4,109.66 416.1,109.87 416.8,109.61 417.5,109.81 418.2,109.96 418.9,109.64 419.6,109.92 420.3,109.71 421,109.95 421.7,109.77 422.4,110.01 423.1,109.53 423.8,110.04 424.5,109.62 425.2,110.27 425.9,109.98 426.6,109.88 427.3,109.83 428,110 428.7,110.05 429.4,110.11 430.1,110.1 430.8,109.89 431.5,110.3 432.2,110.17 432.9,110.18 433.6,109.83 434.3,109.85 435,109.95 435.7,110.22 436.4,109.92 437.1,109.92 437.8,109.85 438.5,110.22 439.2,109.76 439.9,109.54 440.6,110.08 441.3,110.22 442,110.09 442.7,109.98 442.9,109.9" fill="none" stroke="#000" stroke-width="0.9" stroke-linejoin="round" />
<polyline points="371.4,114 372,114.96 372.7,115.03 373.4,115.58 374.1,115.4 374.8,115.63 375.5,116.03 376.2,116.18 376.9,116.17 377.6,115.96 378.3,116.52 379,116.41 379.7,116.21 380.4,116.28 381.1,116.37 381.8,116.25 382.5,116.13 383.2,116.81 383.9,116.86 384.6,116.62 385.3,116.78 386,116.43 386.7,116.74 387.4,116.27 388.1,116.69 388.8,116.55 389.5,116.82 390.2,116.18 390.9,116.73 391.6,116.2 392.3,116.53 393,116.86 393.7,116.1 394.4,116.29 395.1,116.34 395.8,116.36 396.5,116.15 397.2,116.82 397.9,116.75 398.6,116.42 399.3,116.39 400,116.57 400.7,116.14 401.4,116.12 402.1,116.82 402.8,116.35 403.5,116.5 404.2,116.85 404.9,116.88 405.6,116.48 406.3,116.27 407,116.34 407.7,116.84 408.4,116.82 409.1,116.26 409.8,116.77 410.5,116.38 411.2,116.48 411.9,116.24 412.6,116.8 413.3,116.9 414,116.26 414.7,116.61 415.4,116.25 416.1,116.8 416.8,116.14 417.5,116.18 418.2,116.68 418.9,116.35 419.6,116.82 420.3,116.8 421,116.67 421.7,116.21 422.4,116.66 423.1,116.85 423.8,116.46 424.5,116.16 425.2,116.28 425.9,116.35 426.6,116.67 427.3,116.26 428,116.24 428.7,116.29 429.4,116.63 430.1,116.73 430.8,116.4 431.5,116.63 432.2,116.81 432.9,116.57 433.6,116.28 434.3,116.34 435,116.84 435.7,116.63 436.4,116.32 437.1,116.61 437.8,116.17 438.5,116.89 439.2,116.45 439.9,116.52 440.6,116.52 441.3,116.14 442,116.58 442.7,116.33 442.9,116.5" fill="none" stroke="#000" stroke-width="0.9" stroke-linejoin="round" />
<polyline points="371.4,122.5 372,123.06 372.7,123.92 373.4,123.67 374.1,124.08 374.8,124.64 375.5,124.37 376.2,124.5 376.9,124.79 377.6,124.56 378.3,125.18 379,125.28 379.7,124.55 380.4,124.91 381.1,125.15 381.8,124.87 382.5,125.32 383.2,124.98 383.9,124.73 384.6,125.03 385.3,125.11 386,124.88 386.7,125.12 387.4,125.22 388.1,125.01 388.8,125 389.5,125.27 390.2,125.15 390.9,125.02 391.6,125.36 392.3,124.74 393,125.22 393.7,124.73 394.4,125.09 395.1,124.79 395.8,124.95 396.5,125.22 397.2,125.23 397.9,125.23 398.6,124.79 399.3,124.99 400,124.78 400.7,125.06 401.4,125 402.1,124.63 402.8,125.08 403.5,125.17 404.2,125.06 404.9,125.3 405.6,124.74 406.3,124.72 407,124.61 407.7,125 408.4,124.95 409.1,124.95 409.8,124.81 410.5,125.24 411.2,124.66 411.9,125.33 412.6,125.06 413.3,125.03 414,125.23 414.7,124.79 415.4,124.72 416.1,124.85 416.8,124.63 417.5,124.85 418.2,125.1 418.9,125.02 419.6,124.81 420.3,125.07 421,124.67 421.7,125.26 422.4,124.74 423.1,124.8 423.8,124.73 424.5,125.15 425.2,125.26 425.9,125.23 426.6,124.65 427.3,124.93 428,124.89 428.7,124.77 429.4,125.38 430.1,124.63 430.8,124.99 431.5,125.21 432.2,125.39 432.9,124.72 433.6,124.96 434.3,125.2 435,124.63 435.7,124.79 436.4,125.31 437.1,124.71 437.8,124.91 438.5,124.84 439.2,124.94 439.9,124.66 440.6,124.63 441.3,125.4 442,125.21 442.7,125.19 442.9,125" fill="none" stroke="#000" stroke-width="0.9" stroke-linejoin="round" />
<polyline points="371.4,135 372,136.03 372.7,136.71 373.4,137.44 374.1,137.55 374.8,137.98 375.5,138.55 376.2,138.23 376.9,138.3 377.6,138.89 378.3,138.65 379,138.23 379.7,138.55 380.4,138.77 381.1,138.31 381.8,138.55 382.5,138.83 383.2,138.98 383.9,138.76 384.6,139 385.3,138.66 386,138.61 386.7,138.97 387.4,138.6 388.1,138.92 388.8,138.47 389.5,138.58 390.2,138.45 390.9,138.74 391.6,138.43 392.3,138.46 393,138.47 393.7,138.67 394.4,138.55 395.1,138.66 395.8,139.09 396.5,138.84 397.2,138.99 397.9,138.46 398.6,138.61 399.3,138.36 400,138.85 400.7,138.59 401.4,138.52 402.1,138.31 402.8,138.45 403.5,138.51 404.2,138.61 404.9,139.04 405.6,138.87 406.3,138.51 407,138.59 407.7,138.42 408.4,139.05 409.1,138.59 409.8,138.91 410.5,138.88 411.2,139.03 411.9,138.32 412.6,138.56 413.3,138.61 414,138.37 414.7,139.01 415.4,138.56 416.1,138.92 416.8,138.72 417.5,138.34 418.2,138.62 418.9,138.49 419.6,138.33 420.3,138.42 421,138.78 421.7,138.33 422.4,138.55 423.1,138.64 423.8,138.74 424.5,138.41 425.2,138.87 425.9,138.51 426.6,138.88 427.3,138.83 428,138.42 428.7,138.46 429.4,138.52 430.1,138.87 430.8,138.62 431.5,138.61 432.2,138.99 432.9,138.48 433.6,138.53 434.3,138.58 435,138.47 435.7,138.33 436.4,138.32 437.1,138.8 437.8,138.75 438.5,138.95 439.2,139.08 439.9,138.54 440.6,138.84 441.3,139.04 442,138.47 442.7,138.85 442.9,138.7" fill="none" stroke="#000" stroke-width="0.9" stroke-linejoin="round" />
<polyline points="371.4,153.5 372,154.87 372.7,155.74 373.4,156.12 374.1,155.93 374.8,156.47 375.5,156.2 376.2,156.58 376.9,156.63 377.6,156.42 378.3,156.71 379,156.7 379.7,156.85 380.4,156.69 381.1,156.6 381.8,156.81 382.5,156.87 383.2,156.63 383.9,157.03 384.6,156.69 385.3,156.57 386,156.77 386.7,156.84 387.4,156.62 388.1,156.97 388.8,157.06 389.5,156.94 390.2,157.06 390.9,156.52 391.6,156.81 392.3,156.79 393,156.55 393.7,156.82 394.4,156.54 395.1,156.9 395.8,156.97 396.5,156.88 397.2,156.76 397.9,156.7 398.6,156.52 399.3,156.78 400,157.21 400.7,156.95 401.4,156.71 402.1,157.03 402.8,156.65 403.5,156.88 404.2,156.99 404.9,157.26 405.6,156.79 406.3,156.96 407,157.25 407.7,157.12 408.4,157 409.1,157 409.8,156.83 410.5,156.83 411.2,156.72 411.9,157.16 412.6,157.2 413.3,156.81 414,157.23 414.7,156.53 415.4,156.61 416.1,156.91 416.8,156.75 417.5,156.79 418.2,157.28 418.9,156.62 419.6,156.65 420.3,156.68 421,157.04 421.7,156.69 422.4,156.5 423.1,156.94 423.8,156.82 424.5,156.69 425.2,156.89 425.9,157.02 426.6,156.94 427.3,157 428,156.95 428.7,157.16 429.4,157.28 430.1,156.77 430.8,156.78 431.5,157.21 432.2,156.75 432.9,157.07 433.6,157.06 434.3,157.05 435,157.27 435.7,157.16 436.4,156.63 437.1,157 437.8,156.89 438.5,156.95 439.2,156.8 439.9,156.73 440.6,157.1 441.3,156.93 442,156.69 442.7,156.7 442.9,156.9" fill="none" stroke="#000" stroke-width="0.9" stroke-linejoin="round" />
<line x1="358.8" y1="103.2" x2="371.1" y2="103.2" stroke="#000" stroke-width="1.9599999999999997" />
<polyline points="358.8,104.78 359.1,104.75 359.4,101.66 359.7,101.76 360,104.36 360.3,104.02 360.6,103.79 360.9,102.53 361.2,103.57 361.5,103.57 361.8,103.48 362.1,102.01 362.4,102.96 362.7,102.83 363,103.97 363.3,104.92 363.6,104.76 363.9,103.35 364.2,103.01 364.5,102.4 364.8,101.59 365.1,101.56 365.4,103.08 365.7,102.57 366,102.78 366.3,104.56 366.6,103.29 366.9,103.41 367.2,102.28 367.5,101.55 367.8,102.59 368.1,101.94 368.4,103.24 368.7,104.93 369,103.81 369.3,102.1 369.6,104.57 369.9,104.23 370.2,104.01 370.5,104.61 370.8,104.11 371.1,104.21" fill="none" stroke="#000" stroke-width="0.75" stroke-linejoin="round" />
<polyline points="442.9,102.6 443.4,102.6 443.9,102.6 444.4,102.6 444.9,102.6 445.4,102.6 445.9,102.6 446.4,102.6 446.9,102.6 447.4,102.6 447.9,102.6 448.4,102.6 448.9,102.6 449.4,102.6 449.9,102.6 450.4,102.6 450.9,102.6 451.4,102.6 451.9,102.6 452.4,102.6 452.9,102.6 453.4,102.6 453.9,102.6 454.4,102.6 454.9,102.6 455.4,102.6 455.9,102.6 456.4,102.6 456.9,102.6 457.4,102.6 457.9,102.6 458.4,102.6 458.9,102.6 459.4,102.6 459.9,102.6 460.4,102.6 460.9,102.6 461.4,102.6 461.9,102.6 462.4,102.6 462.9,102.6 463.4,102.6 463.9,102.6 464.4,102.6 464.9,102.6 465.4,102.6 465.9,102.6 466.4,102.6 466.9,102.6" fill="none" stroke="#000" stroke-width="1.9599999999999997" stroke-linejoin="round" />
<polyline points="442.9,101.69 443.2,102.75 443.5,102.15 443.8,102.96 444.1,103.04 444.4,101.09 444.7,100.91 445,103.77 445.3,101.76 445.6,101.68 445.9,104.32 446.2,102.5 446.5,103.77 446.8,102.52 447.1,103.08 447.4,101.39 447.7,103.07 448,103.88 448.3,102.68 448.6,103.44 448.9,103.2 449.2,101.09 449.5,103.5 449.8,102.92 450.1,101.91 450.4,100.97 450.7,103.87 451,102.51 451.3,103.36 451.6,103.92 451.9,103.34 452.2,104.06 452.5,102.24 452.8,103.64 453.1,102.41 453.4,104.11 453.7,103.92 454,101.2 454.3,101.34 454.6,101.62 454.9,104.22 455.2,102.38 455.5,103.04 455.8,101.91 456.1,102.63 456.4,102.2 456.7,102.08 457,102.9 457.3,102.89 457.6,104 457.9,103.23 458.2,104.09 458.5,103.84 458.8,104.3 459.1,103.19 459.4,101.43 459.7,103.85 460,104.21 460.3,104.01 460.6,102.84 460.9,103.34 461.2,101.6 461.5,103.75 461.8,102.86 462.1,101.85 462.4,101.08 462.7,103.83 463,104.3 463.3,101.17 463.6,103.64 463.9,102.29 464.2,101.39 464.5,101.88 464.8,103.53 465.1,103.89 465.4,101.02 465.7,103 466,101.02 466.3,103.36 466.6,102.01 466.9,103.92 467,104.27" fill="none" stroke="#000" stroke-width="0.75" stroke-linejoin="round" />
<polyline points="467,92.8 467.5,93.25 468,93.64 468.5,93.99 469,94.3 469.5,94.57 470,94.81 470.5,95.02 471,95.2 471.5,95.37 472,95.51 472.5,95.64 473,95.75 473.5,95.85 474,95.94 474.5,96.02 475,96.09 475.5,96.15 476,96.2 476.5,96.25 477,96.29 477.5,96.32 478,96.36" fill="none" stroke="#000" stroke-width="1.9599999999999997" stroke-linejoin="round" />
<polyline points="467,91.88 467.3,91.7 467.6,92.97 467.9,92.37 468.2,92.28 468.5,93.65 468.8,95.63 469.1,95.4 469.4,95.44 469.7,93.7 470,94.93 470.3,94.16 470.6,93.92 470.9,93.8 471.2,94.28 471.5,96.85 471.8,96.6 472.1,96.6 472.4,96.66 472.7,94.62 473,95.09 473.3,96.25 473.6,96.68 473.9,97.15 474.2,97.29 474.5,94.58 474.8,96.43 475.1,96.69 475.4,96.16 475.7,95.05 476,96.11 476.3,94.8 476.6,97.76 476.9,97.55 477.2,96.47 477.5,95.63 477.8,97.76 478.1,96.61 478.4,97.93" fill="none" stroke="#000" stroke-width="0.75" stroke-linejoin="round" />
<line x1="467" y1="91.8" x2="467" y2="121.2" stroke="#000" stroke-width="1.0" />
<line x1="371.1" y1="80.4" x2="371.1" y2="155.4" stroke="#000" stroke-width="1.2" />
<line x1="442.9" y1="74.7" x2="442.9" y2="158.3" stroke="#000" stroke-width="1.1" />
<line x1="358.8" y1="106.1" x2="479.3" y2="106.1" stroke="#e94a35" stroke-width="1.0" />
<polyline points="359,143 359,173.5 382.6,173.5" fill="none" stroke="#9a9a9a" stroke-width="1.0" stroke-linejoin="round" />
<polyline points="543,77.8 543.6,78.74 544.3,79.59 545,80.25 545.7,80.46 546.4,80.94 547.1,81.78 547.8,82.22 548.5,83.15 549.2,83.51 549.9,83.88 550.6,84.26 551.3,84.73 552,84.69 552.7,85.27 553.4,85.38 554.1,86.28 554.8,85.89 555.5,86.78 556.2,86.44 556.9,87.18 557.6,87.13 558.3,87.4 559,87.95 559.7,87.49 560.4,87.71 561.1,88.56 561.8,88.4 562.5,88.22 563.2,89.08 563.9,89.18 564.6,88.65 565.3,89.02 566,88.9 566.7,89.15 567.4,89.5 568.1,89.23 568.8,89.75 569.5,89.32 570.2,89.49 570.9,90.08 571.6,89.82 572.3,89.91 573,90.11 573.7,90.08 574.4,90.06 575.1,89.83 575.8,90.44 576.5,90.68 577.2,90.73 577.9,90.52 578.6,90.32 579.3,90.36 580,90.66 580.7,90.68 581.4,90.26 582.1,90.39 582.8,90.52 583.5,90.67 584.2,90.93 584.9,90.71 585.6,90.35 586.3,91.01 587,90.71 587.7,90.8 588.4,90.58 589.1,90.76 589.8,90.75 590.5,91.07 591.2,90.55 591.9,90.92 592.6,90.63 593.3,91.06 594,90.54 594.7,90.75 595.4,90.81 596.1,91.05 596.8,90.6 597.5,90.93 598.2,90.74 598.9,90.8 599.6,90.96 600.3,91.36 601,90.98 601.7,91.37 602.4,90.74 603.1,91.35 603.8,90.91 604.5,90.77 605.2,91.23 605.9,91.36 606.6,90.64 607.3,90.85 608,91.26 608.7,90.92 609.4,90.84 610.1,90.66 610.8,90.69 611.5,91.15 612.2,91.45 612.9,91.46 613.6,91.07 614.2,91.1" fill="none" stroke="#000" stroke-width="0.9" stroke-linejoin="round" />
<polyline points="543,78.7 543.6,79.27 544.3,80.19 545,81.21 545.7,81.86 546.4,82.29 547.1,82.5 547.8,83.26 548.5,83.7 549.2,84.28 549.9,84.42 550.6,85.38 551.3,85.72 552,85.49 552.7,85.94 553.4,86.73 554.1,86.56 554.8,87.38 555.5,87.3 556.2,87.7 556.9,87.95 557.6,87.79 558.3,88.06 559,88.24 559.7,88.77 560.4,88.96 561.1,88.68 561.8,89.44 562.5,89.22 563.2,89.22 563.9,89.51 564.6,90.07 565.3,89.86 566,90.02 566.7,90.36 567.4,90.5 568.1,90.43 568.8,90.25 569.5,90.47 570.2,90.8 570.9,90.78 571.6,90.69 572.3,90.57 573,90.65 573.7,91 574.4,90.92 575.1,90.53 575.8,91.14 576.5,91.34 577.2,91.3 577.9,91.42 578.6,91.47 579.3,91.21 580,91.45 580.7,91.15 581.4,90.96 582.1,91.19 582.8,91.19 583.5,91.71 584.2,91.54 584.9,91.44 585.6,91.53 586.3,91.15 587,91.5 587.7,91.65 588.4,91.42 589.1,91.32 589.8,91.47 590.5,91.41 591.2,91.72 591.9,91.3 592.6,91.27 593.3,91.46 594,91.77 594.7,91.84 595.4,91.77 596.1,91.99 596.8,91.55 597.5,91.29 598.2,91.66 598.9,91.63 599.6,91.43 600.3,91.83 601,91.57 601.7,91.49 602.4,91.57 603.1,92.07 603.8,91.33 604.5,91.61 605.2,91.55 605.9,91.49 606.6,91.68 607.3,91.52 608,92.08 608.7,91.75 609.4,91.91 610.1,91.48 610.8,91.73 611.5,91.84 612.2,92.03 612.9,91.56 613.6,91.73 614.2,91.8" fill="none" stroke="#000" stroke-width="0.9" stroke-linejoin="round" />
<polyline points="543,79.7 543.6,80.9 544.3,81.55 545,81.7 545.7,82.54 546.4,83.28 547.1,83.51 547.8,84.24 548.5,84.7 549.2,85.39 549.9,85.47 550.6,85.97 551.3,86.08 552,86.73 552.7,86.74 553.4,87.19 554.1,87.38 554.8,87.61 555.5,87.74 556.2,88.06 556.9,88.55 557.6,88.53 558.3,88.58 559,89.38 559.7,89.15 560.4,89.84 561.1,89.74 561.8,89.73 562.5,90.26 563.2,90.42 563.9,90.09 564.6,90.05 565.3,90.58 566,90.85 566.7,90.77 567.4,91.01 568.1,90.8 568.8,91.05 569.5,90.85 570.2,91.04 570.9,91.09 571.6,91.17 572.3,91.24 573,91.63 573.7,91.18 574.4,91.26 575.1,91.35 575.8,91.97 576.5,91.66 577.2,91.33 577.9,91.99 578.6,92.06 579.3,92.06 580,91.72 580.7,92.05 581.4,91.74 582.1,91.63 582.8,92.24 583.5,92.24 584.2,91.77 584.9,92.33 585.6,91.66 586.3,91.91 587,91.69 587.7,91.84 588.4,91.85 589.1,92.31 589.8,91.99 590.5,91.92 591.2,91.92 591.9,92.04 592.6,92.49 593.3,92.3 594,91.91 594.7,92.38 595.4,92.27 596.1,92.21 596.8,92.28 597.5,92.39 598.2,92.52 598.9,92.29 599.6,92.4 600.3,92.27 601,92.41 601.7,92.22 602.4,92.24 603.1,92.33 603.8,92.49 604.5,92.15 605.2,92.67 605.9,92.33 606.6,92.62 607.3,92.49 608,92.71 608.7,92.49 609.4,92.29 610.1,92.28 610.8,92.44 611.5,92.56 612.2,92.63 612.9,92.07 613.6,92.02 614.2,92.4" fill="none" stroke="#000" stroke-width="0.9" stroke-linejoin="round" />
<polyline points="543,80.6 543.6,81.2 544.3,81.84 545,82.44 545.7,82.99 546.4,83.74 547.1,84.16 547.8,85.11 548.5,85.52 549.2,86.24 549.9,86.65 550.6,86.87 551.3,87.41 552,87.02 552.7,87.51 553.4,88.38 554.1,88.31 554.8,88.37 555.5,89.07 556.2,89.05 556.9,89.38 557.6,89.41 558.3,89.56 559,89.63 559.7,90.23 560.4,90.68 561.1,90.87 561.8,90.85 562.5,91.13 563.2,90.81 563.9,90.89 564.6,91.51 565.3,91.36 566,91.53 566.7,91.1 567.4,91.37 568.1,91.67 568.8,91.95 569.5,92.11 570.2,92.13 570.9,91.87 571.6,91.97 572.3,92.42 573,92.58 573.7,92.24 574.4,92.06 575.1,92.45 575.8,92.43 576.5,92.34 577.2,92.27 577.9,92.44 578.6,92.66 579.3,92.3 580,92.67 580.7,93.03 581.4,92.9 582.1,92.53 582.8,92.69 583.5,92.46 584.2,92.99 584.9,92.93 585.6,92.59 586.3,92.91 587,92.96 587.7,92.97 588.4,92.82 589.1,92.78 589.8,92.84 590.5,93.36 591.2,92.84 591.9,92.99 592.6,92.97 593.3,92.75 594,92.94 594.7,92.8 595.4,92.9 596.1,92.95 596.8,92.94 597.5,93.42 598.2,92.91 598.9,92.95 599.6,93.22 600.3,93.01 601,93.11 601.7,93.23 602.4,92.77 603.1,93.26 603.8,92.8 604.5,92.93 605.2,93.38 605.9,93.53 606.6,93.28 607.3,92.88 608,93.1 608.7,92.97 609.4,93.42 610.1,92.94 610.8,92.91 611.5,93.27 612.2,93.27 612.9,93.24 613.6,93.15 614.2,93.2" fill="none" stroke="#000" stroke-width="0.9" stroke-linejoin="round" />
<polyline points="543,81.6 543.6,82.93 544.3,83.23 545,84.27 545.7,84.45 546.4,85.09 547.1,85.54 547.8,86.34 548.5,86.84 549.2,86.88 549.9,87.53 550.6,88.08 551.3,88.27 552,88.75 552.7,89.04 553.4,89.42 554.1,89.42 554.8,89.65 555.5,89.68 556.2,90.61 556.9,90.75 557.6,90.64 558.3,91.3 559,91.43 559.7,91 560.4,91.71 561.1,91.53 561.8,91.58 562.5,91.67 563.2,91.92 563.9,91.75 564.6,91.86 565.3,92.02 566,92.27 566.7,92.24 567.4,92.3 568.1,92.94 568.8,92.66 569.5,92.82 570.2,92.97 570.9,93.3 571.6,92.73 572.3,92.85 573,93.41 573.7,93.49 574.4,93.56 575.1,93.28 575.8,93.19 576.5,93.08 577.2,93.69 577.9,93.61 578.6,93.47 579.3,93.69 580,93.29 580.7,93.54 581.4,93.86 582.1,93.24 582.8,93.67 583.5,93.35 584.2,93.89 584.9,93.91 585.6,93.77 586.3,93.62 587,93.3 587.7,93.69 588.4,93.59 589.1,93.64 589.8,93.39 590.5,94.08 591.2,93.77 591.9,93.81 592.6,94.04 593.3,94.09 594,93.82 594.7,93.83 595.4,94.08 596.1,93.7 596.8,94.13 597.5,93.44 598.2,94.06 598.9,93.85 599.6,93.93 600.3,94.23 601,93.61 601.7,93.77 602.4,94.09 603.1,94.05 603.8,93.87 604.5,94.08 605.2,94 605.9,94.16 606.6,93.98 607.3,93.76 608,93.7 608.7,93.54 609.4,93.57 610.1,93.51 610.8,94.26 611.5,93.59 612.2,93.96 612.9,93.59 613.6,94.25 614.2,93.9" fill="none" stroke="#000" stroke-width="0.9" stroke-linejoin="round" />
<polyline points="543,83.5 543.6,84.45 544.3,84.83 545,85.97 545.7,86.58 546.4,87.22 547.1,87.14 547.8,87.76 548.5,88.42 549.2,88.55 549.9,89.18 550.6,89.66 551.3,90.05 552,90.44 552.7,90.69 553.4,90.61 554.1,91.25 554.8,91.25 555.5,91.28 556.2,91.39 556.9,92.08 557.6,92.07 558.3,92.04 559,92.53 559.7,92.64 560.4,92.72 561.1,93.06 561.8,93.17 562.5,93.29 563.2,93.78 563.9,93.82 564.6,93.44 565.3,94 566,93.65 566.7,94.23 567.4,93.61 568.1,93.89 568.8,94.45 569.5,94.31 570.2,94.4 570.9,94.06 571.6,94.05 572.3,94.77 573,94.11 573.7,94.24 574.4,94.49 575.1,94.84 575.8,94.77 576.5,95.06 577.2,94.92 577.9,94.67 578.6,95.08 579.3,94.63 580,94.45 580.7,95.2 581.4,95.16 582.1,95 582.8,94.88 583.5,94.68 584.2,94.71 584.9,94.6 585.6,94.64 586.3,94.96 587,95.31 587.7,95.35 588.4,95.03 589.1,95.17 589.8,95.01 590.5,95.27 591.2,95.22 591.9,95.45 592.6,95.35 593.3,95.22 594,95.16 594.7,94.83 595.4,95.08 596.1,95.07 596.8,94.84 597.5,94.88 598.2,95.05 598.9,94.87 599.6,95.23 600.3,95 601,95.53 601.7,95.29 602.4,95.16 603.1,95.1 603.8,95.07 604.5,94.92 605.2,95.53 605.9,95.49 606.6,95.28 607.3,95.29 608,94.88 608.7,95.2 609.4,94.91 610.1,95.03 610.8,95.25 611.5,94.91 612.2,94.97 612.9,95.36 613.6,95.17 614.2,95.2" fill="none" stroke="#000" stroke-width="0.9" stroke-linejoin="round" />
<polyline points="543,85.4 543.6,86.69 544.3,86.81 545,87.41 545.7,88.71 546.4,89.01 547.1,89.61 547.8,90 548.5,90.14 549.2,91.23 549.9,91.25 550.6,91.95 551.3,91.69 552,92.12 552.7,92.65 553.4,92.69 554.1,93.44 554.8,93.21 555.5,93.29 556.2,93.58 556.9,93.86 557.6,94.59 558.3,94.71 559,94.7 559.7,94.66 560.4,94.49 561.1,95.25 561.8,94.81 562.5,94.99 563.2,95.28 563.9,95.72 564.6,95.27 565.3,95.26 566,96.02 566.7,95.37 567.4,96.02 568.1,95.61 568.8,95.8 569.5,95.78 570.2,96.02 570.9,96.46 571.6,96.44 572.3,96.24 573,95.92 573.7,96.03 574.4,96.16 575.1,96.59 575.8,96.72 576.5,96.03 577.2,96.31 577.9,96.83 578.6,96.21 579.3,96.17 580,96.34 580.7,96.86 581.4,96.37 582.1,96.76 582.8,96.29 583.5,96.73 584.2,96.36 584.9,96.71 585.6,96.84 586.3,96.96 587,96.61 587.7,97.06 588.4,96.61 589.1,97.05 589.8,97.03 590.5,97.1 591.2,96.4 591.9,96.54 592.6,96.88 593.3,97.04 594,96.54 594.7,96.95 595.4,96.72 596.1,96.35 596.8,96.42 597.5,96.36 598.2,96.54 598.9,97.1 599.6,96.9 600.3,97.05 601,97.1 601.7,96.68 602.4,96.93 603.1,96.9 603.8,96.93 604.5,96.45 605.2,97.09 605.9,96.51 606.6,96.74 607.3,96.93 608,96.98 608.7,97.05 609.4,96.64 610.1,96.62 610.8,96.97 611.5,96.43 612.2,97.09 612.9,96.64 613.6,96.7 614.2,96.8" fill="none" stroke="#000" stroke-width="0.9" stroke-linejoin="round" />
<polyline points="543,88.2 543.6,88.95 544.3,89.92 545,90.1 545.7,90.63 546.4,91.1 547.1,91.64 547.8,92.49 548.5,93.21 549.2,92.82 549.9,93.56 550.6,93.82 551.3,94.1 552,94.43 552.7,94.52 553.4,95.04 554.1,95.15 554.8,95.22 555.5,95.49 556.2,96.32 556.9,96.34 557.6,96.72 558.3,96.74 559,96.83 559.7,96.56 560.4,96.6 561.1,97.42 561.8,97.29 562.5,97.43 563.2,97.06 563.9,97.67 564.6,97.55 565.3,97.27 566,97.45 566.7,98.12 567.4,97.91 568.1,97.54 568.8,97.59 569.5,98.18 570.2,97.91 570.9,98.06 571.6,97.83 572.3,97.9 573,98.19 573.7,98.17 574.4,98.01 575.1,98.01 575.8,98.27 576.5,98.03 577.2,98.02 577.9,98.37 578.6,98.05 579.3,98.62 580,98.66 580.7,98.63 581.4,98.84 582.1,98.23 582.8,98.45 583.5,98.45 584.2,98.19 584.9,98.83 585.6,98.19 586.3,98.95 587,98.72 587.7,98.97 588.4,98.24 589.1,98.91 589.8,98.98 590.5,98.83 591.2,98.68 591.9,98.74 592.6,98.61 593.3,98.92 594,98.7 594.7,98.68 595.4,98.57 596.1,98.75 596.8,98.72 597.5,99.01 598.2,98.88 598.9,98.53 599.6,98.84 600.3,98.45 601,98.65 601.7,98.69 602.4,98.85 603.1,98.33 603.8,98.39 604.5,98.42 605.2,98.78 605.9,98.42 606.6,98.73 607.3,98.99 608,98.63 608.7,98.46 609.4,98.76 610.1,98.62 610.8,98.64 611.5,98.43 612.2,98.84 612.9,98.57 613.6,99.08 614.2,98.7" fill="none" stroke="#000" stroke-width="0.9" stroke-linejoin="round" />
<polyline points="543,91.1 543.6,91.99 544.3,92.78 545,93.56 545.7,94.15 546.4,93.89 547.1,95.08 547.8,94.85 548.5,95.92 549.2,96.17 549.9,96.08 550.6,96.76 551.3,96.94 552,97.12 552.7,97.51 553.4,97.6 554.1,97.98 554.8,98.21 555.5,97.84 556.2,98.51 556.9,98.72 557.6,99 558.3,98.87 559,99 559.7,98.79 560.4,98.94 561.1,99.6 561.8,99.02 562.5,99.78 563.2,99.24 563.9,99.52 564.6,99.77 565.3,99.36 566,99.75 566.7,100.09 567.4,99.8 568.1,99.68 568.8,99.63 569.5,100.38 570.2,99.74 570.9,100.23 571.6,100.23 572.3,99.97 573,100.22 573.7,100.35 574.4,99.99 575.1,100.04 575.8,100.6 576.5,100.05 577.2,100.29 577.9,100.28 578.6,100.55 579.3,100.62 580,100.56 580.7,100.46 581.4,100.4 582.1,100.06 582.8,100.45 583.5,100.35 584.2,100.61 584.9,100.31 585.6,100.12 586.3,100.33 587,100.7 587.7,100.43 588.4,100.58 589.1,100.09 589.8,100.23 590.5,100.27 591.2,100.44 591.9,100.16 592.6,100.82 593.3,100.33 594,100.07 594.7,100.26 595.4,100.47 596.1,100.57 596.8,100.73 597.5,100.15 598.2,100.86 598.9,100.77 599.6,100.49 600.3,100.6 601,100.33 601.7,100.21 602.4,100.1 603.1,100.86 603.8,100.8 604.5,100.45 605.2,100.57 605.9,100.47 606.6,100.64 607.3,100.17 608,100.7 608.7,100.23 609.4,100.57 610.1,100.59 610.8,100.77 611.5,100.59 612.2,100.24 612.9,100.75 613.6,100.4 614.2,100.5" fill="none" stroke="#000" stroke-width="0.9" stroke-linejoin="round" />
<polyline points="543,95 543.6,95.94 544.3,96.75 545,97.45 545.7,97.26 546.4,98 547.1,98.3 547.8,99.11 548.5,99.09 549.2,99.8 549.9,99.99 550.6,99.94 551.3,100.44 552,100.58 552.7,100.32 553.4,100.63 554.1,100.66 554.8,101.35 555.5,101.13 556.2,101.16 556.9,101.6 557.6,101.91 558.3,101.32 559,101.83 559.7,101.53 560.4,102.04 561.1,102.06 561.8,102.13 562.5,102.03 563.2,101.7 563.9,102.32 564.6,101.76 565.3,102.17 566,102.5 566.7,101.97 567.4,102.17 568.1,102.34 568.8,102.34 569.5,102.1 570.2,102.19 570.9,102.59 571.6,102.45 572.3,102.03 573,102.45 573.7,102.59 574.4,102.4 575.1,102.64 575.8,102.15 576.5,102.17 577.2,102.64 577.9,102.16 578.6,102.06 579.3,102.08 580,102.67 580.7,102.63 581.4,102.13 582.1,102.57 582.8,102.13 583.5,102.48 584.2,101.99 584.9,102.44 585.6,102.58 586.3,102.39 587,102.49 587.7,102.08 588.4,102.36 589.1,102.62 589.8,102.29 590.5,102.59 591.2,102.47 591.9,102.64 592.6,102.59 593.3,102.24 594,102.65 594.7,102.65 595.4,102.34 596.1,102.57 596.8,102.33 597.5,102.46 598.2,102.26 598.9,102.37 599.6,102.24 600.3,102.71 601,102.49 601.7,102.49 602.4,102.42 603.1,102.37 603.8,102.14 604.5,102.52 605.2,102.36 605.9,102.27 606.6,102.41 607.3,102.1 608,102.52 608.7,102.63 609.4,102.29 610.1,102.13 610.8,102.77 611.5,102.5 612.2,102.25 612.9,102.07 613.6,102.46 614.2,102.4" fill="none" stroke="#000" stroke-width="0.9" stroke-linejoin="round" />
<polyline points="543,100 543.6,100.75 544.3,101.93 545,102.35 545.7,102.48 546.4,103.01 547.1,103.12 547.8,103.55 548.5,104.1 549.2,104.6 549.9,104.44 550.6,105.05 551.3,104.65 552,104.66 552.7,105.37 553.4,105.11 554.1,105.12 554.8,105.33 555.5,105.53 556.2,105.28 556.9,105.24 557.6,105.68 558.3,105.77 559,105.72 559.7,105.43 560.4,106.02 561.1,105.7 561.8,105.8 562.5,106.1 563.2,105.51 563.9,105.81 564.6,105.77 565.3,105.95 566,105.62 566.7,105.64 567.4,105.64 568.1,105.91 568.8,105.71 569.5,106.21 570.2,106.17 570.9,106.06 571.6,105.81 572.3,106.14 573,105.95 573.7,106.11 574.4,106.25 575.1,105.59 575.8,106.1 576.5,106.22 577.2,105.82 577.9,105.77 578.6,105.52 579.3,106.21 580,105.66 580.7,105.5 581.4,105.57 582.1,105.91 582.8,106.04 583.5,106.22 584.2,106.03 584.9,105.58 585.6,106.24 586.3,106.2 587,106.14 587.7,106.22 588.4,106.17 589.1,106.05 589.8,106.11 590.5,105.52 591.2,106.29 591.9,105.5 592.6,105.84 593.3,105.96 594,105.91 594.7,105.77 595.4,105.91 596.1,105.75 596.8,106.03 597.5,105.52 598.2,105.78 598.9,106.02 599.6,105.87 600.3,105.52 601,105.87 601.7,106.24 602.4,105.92 603.1,106.08 603.8,105.81 604.5,106.28 605.2,105.92 605.9,106.15 606.6,106 607.3,106.15 608,105.81 608.7,106.24 609.4,106.29 610.1,106.22 610.8,106.23 611.5,105.79 612.2,105.77 612.9,106.21 613.6,106.16 614.2,105.9" fill="none" stroke="#000" stroke-width="0.9" stroke-linejoin="round" />
<polyline points="543,109 543.6,110.42 544.3,111.2 545,111.39 545.7,112.33 546.4,112.33 547.1,113.02 547.8,113.03 548.5,113.53 549.2,113.33 549.9,113.59 550.6,114.04 551.3,113.97 552,113.67 552.7,114.4 553.4,113.67 554.1,114.01 554.8,114.28 555.5,114.19 556.2,114.26 556.9,114.48 557.6,113.84 558.3,114.18 559,113.98 559.7,114.26 560.4,114.16 561.1,114.29 561.8,114.43 562.5,114.19 563.2,114.13 563.9,114.24 564.6,113.93 565.3,114.53 566,114.11 566.7,114.2 567.4,114.47 568.1,114.47 568.8,114.6 569.5,114.37 570.2,114.22 570.9,114.14 571.6,114.42 572.3,114.3 573,113.81 573.7,114.25 574.4,114.34 575.1,114.09 575.8,114.46 576.5,114.39 577.2,114.51 577.9,114.03 578.6,114.33 579.3,114.25 580,114.07 580.7,114.04 581.4,113.87 582.1,114.47 582.8,114.02 583.5,114.08 584.2,114 584.9,114.25 585.6,114.2 586.3,114.49 587,113.86 587.7,114.07 588.4,114.47 589.1,114.44 589.8,113.85 590.5,114.16 591.2,114.59 591.9,114.58 592.6,114.05 593.3,114.4 594,114.06 594.7,113.85 595.4,114.52 596.1,113.9 596.8,114.59 597.5,114.16 598.2,114.48 598.9,114.18 599.6,114.52 600.3,114.4 601,113.94 601.7,113.82 602.4,113.94 603.1,114.29 603.8,113.89 604.5,113.86 605.2,114.11 605.9,113.84 606.6,114.05 607.3,114.3 608,113.98 608.7,114.43 609.4,114.01 610.1,114.09 610.8,114.12 611.5,114.48 612.2,113.84 612.9,114.45 613.6,113.88 614.2,114.2" fill="none" stroke="#000" stroke-width="0.9" stroke-linejoin="round" />
<polyline points="543,121 543.6,122.57 544.3,122.95 545,123.66 545.7,123.92 546.4,124.4 547.1,124.69 547.8,124.48 548.5,124.69 549.2,125.4 549.9,124.96 550.6,125.06 551.3,124.98 552,125.56 552.7,125.67 553.4,125.1 554.1,125.79 554.8,125.21 555.5,125.53 556.2,125.56 556.9,125.36 557.6,125.43 558.3,125.57 559,125.81 559.7,125.39 560.4,125.37 561.1,125.97 561.8,125.4 562.5,125.28 563.2,125.94 563.9,125.94 564.6,125.37 565.3,125.62 566,125.9 566.7,125.46 567.4,125.47 568.1,125.2 568.8,125.3 569.5,125.69 570.2,125.6 570.9,125.89 571.6,125.56 572.3,125.42 573,125.51 573.7,125.31 574.4,125.58 575.1,125.75 575.8,125.35 576.5,125.67 577.2,126 577.9,125.76 578.6,125.45 579.3,125.72 580,125.29 580.7,125.29 581.4,125.85 582.1,125.77 582.8,125.7 583.5,125.65 584.2,125.48 584.9,125.87 585.6,125.61 586.3,125.86 587,125.79 587.7,125.47 588.4,125.85 589.1,125.48 589.8,125.69 590.5,125.87 591.2,125.96 591.9,125.7 592.6,125.36 593.3,125.33 594,125.86 594.7,125.45 595.4,125.32 596.1,125.66 596.8,125.53 597.5,125.79 598.2,125.34 598.9,125.61 599.6,125.96 600.3,125.34 601,125.51 601.7,125.52 602.4,125.3 603.1,125.32 603.8,125.45 604.5,125.64 605.2,125.31 605.9,125.71 606.6,125.5 607.3,125.44 608,125.88 608.7,125.79 609.4,125.56 610.1,125.41 610.8,125.61 611.5,125.72 612.2,125.81 612.9,125.73 613.6,125.2 614.2,125.6" fill="none" stroke="#000" stroke-width="0.9" stroke-linejoin="round" />
<polyline points="543,136.6 543.6,137.91 544.3,139.52 545,139.9 545.7,140.47 546.4,140.61 547.1,141.52 547.8,141.85 548.5,141.67 549.2,141.82 549.9,141.81 550.6,142.11 551.3,142.36 552,142.38 552.7,142.09 553.4,142.21 554.1,142.35 554.8,142.86 555.5,142.99 556.2,142.92 556.9,142.64 557.6,142.55 558.3,142.98 559,142.88 559.7,142.8 560.4,142.84 561.1,143.04 561.8,142.71 562.5,142.5 563.2,142.88 563.9,143.04 564.6,142.48 565.3,142.6 566,142.91 566.7,142.94 567.4,142.34 568.1,142.94 568.8,142.49 569.5,142.4 570.2,142.34 570.9,142.67 571.6,142.66 572.3,142.45 573,142.87 573.7,142.45 574.4,143.04 575.1,143.1 575.8,142.57 576.5,142.32 577.2,142.36 577.9,142.73 578.6,142.58 579.3,142.92 580,142.63 580.7,142.51 581.4,142.43 582.1,143.09 582.8,142.91 583.5,142.84 584.2,142.48 584.9,142.65 585.6,142.9 586.3,142.82 587,142.52 587.7,142.58 588.4,142.95 589.1,142.34 589.8,142.82 590.5,142.86 591.2,142.71 591.9,142.74 592.6,143.04 593.3,142.56 594,142.9 594.7,142.88 595.4,142.89 596.1,142.35 596.8,142.85 597.5,142.6 598.2,142.4 598.9,143.03 599.6,142.51 600.3,142.67 601,142.55 601.7,142.39 602.4,142.53 603.1,142.79 603.8,142.81 604.5,142.9 605.2,142.42 605.9,142.52 606.6,142.96 607.3,142.72 608,142.89 608.7,142.67 609.4,142.64 610.1,142.33 610.8,142.97 611.5,143.02 612.2,142.87 612.9,142.47 613.6,142.8 614.2,142.7" fill="none" stroke="#000" stroke-width="0.9" stroke-linejoin="round" />
<line x1="530.3" y1="99.2" x2="542.7" y2="99.2" stroke="#000" stroke-width="2.52" />
<polyline points="530.3,101.24 530.6,101.2 530.9,97.22 531.2,97.35 531.5,100.7 531.8,100.25 532.1,99.96 532.4,98.34 532.7,99.67 533,99.68 533.3,99.56 533.6,97.68 533.9,98.89 534.2,98.72 534.5,100.2 534.8,101.41 535.1,101.21 535.4,99.4 535.7,98.95 536,98.17 536.3,97.13 536.6,97.09 536.9,99.04 537.2,98.39 537.5,98.66 537.8,100.95 538.1,99.31 538.4,99.47 538.7,98.02 539,97.07 539.3,98.42 539.6,97.58 539.9,99.25 540.2,101.43 540.5,99.98 540.8,97.78 541.1,100.96 541.4,100.52 541.7,100.25 542,101.02 542.3,100.37 542.6,100.49 542.7,98.55" fill="none" stroke="#000" stroke-width="0.75" stroke-linejoin="round" />
<line x1="614.2" y1="99.6" x2="638.9" y2="99.6" stroke="#000" stroke-width="3.08" />
<polyline points="614.2,98.17 614.5,99.84 614.8,98.89 615.1,100.17 615.4,100.29 615.7,97.23 616,96.94 616.3,101.44 616.6,98.29 616.9,98.15 617.2,102.3 617.5,99.44 617.8,101.44 618.1,99.47 618.4,100.36 618.7,97.69 619,100.34 619.3,101.61 619.6,99.73 619.9,100.92 620.2,100.54 620.5,97.22 620.8,101.01 621.1,100.1 621.4,98.52 621.7,97.04 622,101.59 622.3,99.45 622.6,100.79 622.9,101.67 623.2,100.77 623.5,101.9 623.8,99.03 624.1,101.24 624.4,99.3 624.7,101.98 625,101.67 625.3,97.4 625.6,97.61 625.9,98.06 626.2,102.14 626.5,99.25 626.8,100.29 627.1,98.51 627.4,99.64 627.7,98.98 628,98.79 628.3,100.06 628.6,100.06 628.9,101.81 629.2,100.59 629.5,101.94 629.8,101.54 630.1,102.28 630.4,100.53 630.7,97.76 631,101.57 631.3,102.14 631.6,101.81 631.9,99.98 632.2,100.77 632.5,98.02 632.8,101.41 633.1,100 633.4,98.43 633.7,97.22 634,101.53 634.3,102.27 634.6,97.35 634.9,101.24 635.2,99.11 635.5,97.69 635.8,98.48 636.1,101.07 636.4,101.63 636.7,97.11 637,100.22 637.3,97.12 637.6,100.79 637.9,98.68 638.2,101.68 638.5,102.22 638.8,99.63 638.9,102.32" fill="none" stroke="#000" stroke-width="0.75" stroke-linejoin="round" />
<line x1="638.9" y1="90.7" x2="650.3" y2="90.7" stroke="#000" stroke-width="2.94" />
<polyline points="638.9,89.33 639.2,88.63 639.5,90.16 639.8,88.9 640.1,88.44 640.4,90.19 640.7,92.88 641,92.26 641.3,92.08 641.6,89.25 641.9,90.89 642.2,89.54 642.5,89 642.8,88.65 643.1,89.21 643.4,92.93 643.7,92.41 644,92.3 644.3,92.26 644.6,89.1 644.9,89.71 645.2,91.36 645.5,91.91 645.8,92.55 646.1,92.68 646.4,88.55 646.7,91.25 647,91.59 647.3,90.73 647.6,89.02 647.9,90.56 648.2,88.56 648.5,92.96 648.8,92.6 649.1,90.95 649.4,89.66 649.7,92.83 650,91.08 650.3,92.69 650.3,92.51" fill="none" stroke="#000" stroke-width="0.75" stroke-linejoin="round" />
<line x1="638.9" y1="75.9" x2="638.9" y2="153.7" stroke="#000" stroke-width="1.0" />
<line x1="542.7" y1="60.7" x2="542.7" y2="141.4" stroke="#000" stroke-width="1.2" />
<line x1="614.2" y1="70.2" x2="614.2" y2="149.9" stroke="#000" stroke-width="1.1" />
<line x1="529.7" y1="105.9" x2="649.3" y2="105.9" stroke="#e94a35" stroke-width="1.0" />
<polyline points="530.4,139 530.4,173.7 554.7,173.7" fill="none" stroke="#9a9a9a" stroke-width="1.0" stroke-linejoin="round" />
<polyline points="17,270.5 17.6,270.63 18.3,271.18 19,271.35 19.7,271.62 20.4,271.21 21.1,271.35 21.8,271.37 22.5,271.5 23.2,271.97 23.9,271.54 24.6,271.9 25.3,271.68 26,271.78 26.7,271.91 27.4,272.26 28.1,272.09 28.8,271.63 29.5,271.86 30.2,271.76 30.9,272.35 31.6,272.31 32.3,272.31 33,272.33 33.7,272.27 34.4,272.44 35.1,272.32 35.8,271.89 36.5,272.37 37.2,272.08 37.9,272.3 38.6,272.14 39.3,272.04 40,271.99 40.7,272.04 41.4,271.95 42.1,271.79 42.8,272.35 43.5,272.34 44.2,272.49 44.9,272.25 45.6,272.14 46.3,272.3 47,271.81 47.7,272.24 48.4,272.05 49.1,271.84 49.8,271.86 50.5,272.12 51.2,271.9 51.9,272.07 52.6,272.18 53.3,272.02 54,271.8 54.7,272.09 55.4,271.89 56.1,271.89 56.8,271.86 57.5,271.99 58.2,271.76 58.9,272.22 59.6,272.46 60.3,272.01 61,272.28 61.7,272.45 62.4,271.73 63.1,271.81 63.8,272.34 64.5,272.37 65.2,272.21 65.9,271.83 66.6,272.03 67.3,272.39 68,272.41 68.7,272.34 69.4,271.86 70.1,272.38 70.8,272 71.5,272.27 72.2,271.81 72.9,272.48 73.6,272.18 74.3,272.28 74.6,272.1" fill="none" stroke="#000" stroke-width="0.75" stroke-linejoin="round" />
<polyline points="17,271 17.6,271.09 18.3,271.62 19,271.76 19.7,271.92 20.4,271.85 21.1,272.25 21.8,272.03 22.5,272.06 23.2,272.02 23.9,272.48 24.6,272.07 25.3,272.19 26,272.1 26.7,272.58 27.4,272.53 28.1,272.54 28.8,272.15 29.5,272.49 30.2,272.42 30.9,272.23 31.6,272.16 32.3,272.97 33,272.27 33.7,272.42 34.4,272.4 35.1,272.66 35.8,272.25 36.5,272.56 37.2,272.48 37.9,272.86 38.6,272.2 39.3,272.46 40,272.59 40.7,272.97 41.4,272.61 42.1,272.58 42.8,272.73 43.5,272.44 44.2,272.22 44.9,272.6 45.6,272.93 46.3,272.79 47,272.41 47.7,272.75 48.4,272.88 49.1,272.41 49.8,272.67 50.5,272.48 51.2,272.4 51.9,272.43 52.6,272.36 53.3,272.48 54,272.23 54.7,272.52 55.4,272.27 56.1,272.81 56.8,272.68 57.5,272.2 58.2,272.82 58.9,272.35 59.6,272.58 60.3,272.64 61,272.47 61.7,272.43 62.4,272.55 63.1,272.31 63.8,272.89 64.5,272.29 65.2,272.86 65.9,272.37 66.6,272.44 67.3,272.51 68,272.23 68.7,272.3 69.4,272.49 70.1,272.55 70.8,272.9 71.5,272.99 72.2,272.23 72.9,272.63 73.6,272.3 74.3,272.84 74.6,272.6" fill="none" stroke="#000" stroke-width="0.75" stroke-linejoin="round" />
<polyline points="17,271.5 17.6,271.66 18.3,272.31 19,272.19 19.7,271.99 20.4,272.01 21.1,272.3 21.8,272.88 22.5,272.37 23.2,272.69 23.9,272.65 24.6,272.67 25.3,273.07 26,272.62 26.7,273.05 27.4,273.03 28.1,273.26 28.8,272.94 29.5,273.28 30.2,272.9 30.9,273.02 31.6,273.06 32.3,273.24 33,273.29 33.7,272.67 34.4,272.69 35.1,273.01 35.8,273.24 36.5,273.02 37.2,272.83 37.9,273.36 38.6,272.83 39.3,272.66 40,272.64 40.7,272.62 41.4,273.18 42.1,272.68 42.8,273.17 43.5,273.29 44.2,273.4 44.9,273.25 45.6,272.94 46.3,273.1 47,273.27 47.7,273.17 48.4,272.83 49.1,273.21 49.8,272.69 50.5,272.85 51.2,273.4 51.9,272.98 52.6,272.81 53.3,273.23 54,272.96 54.7,272.6 55.4,272.62 56.1,272.81 56.8,272.87 57.5,273.35 58.2,272.8 58.9,273.28 59.6,273.28 60.3,272.93 61,273.39 61.7,273.21 62.4,272.99 63.1,272.81 63.8,272.97 64.5,273.32 65.2,273.03 65.9,272.76 66.6,272.9 67.3,272.98 68,272.75 68.7,273.06 69.4,272.63 70.1,273.26 70.8,272.74 71.5,272.68 72.2,273.07 72.9,272.85 73.6,273.31 74.3,273 74.6,273" fill="none" stroke="#000" stroke-width="0.75" stroke-linejoin="round" />
<polyline points="17,272 17.6,272.32 18.3,272.76 19,272.43 19.7,272.99 20.4,273.02 21.1,272.94 21.8,273.45 22.5,272.77 23.2,273.49 23.9,272.97 24.6,273.56 25.3,273.05 26,273 26.7,273.38 27.4,273.74 28.1,273.22 28.8,273.42 29.5,273.53 30.2,273.24 30.9,273.48 31.6,273.07 32.3,273.43 33,273.68 33.7,273.35 34.4,273.26 35.1,273.13 35.8,273.65 36.5,273.43 37.2,273.82 37.9,273.68 38.6,273.17 39.3,273.83 40,273.84 40.7,273.75 41.4,273.76 42.1,273.64 42.8,273.67 43.5,273.63 44.2,273.57 44.9,273.3 45.6,273.21 46.3,273.68 47,273.58 47.7,273.14 48.4,273.61 49.1,273.59 49.8,273.51 50.5,273.72 51.2,273.8 51.9,273.4 52.6,273.75 53.3,273.5 54,273.56 54.7,273.43 55.4,273.85 56.1,273.46 56.8,273.86 57.5,273.37 58.2,273.64 58.9,273.83 59.6,273.65 60.3,273.4 61,273.16 61.7,273.48 62.4,273.43 63.1,273.75 63.8,273.73 64.5,273.89 65.2,273.46 65.9,273.43 66.6,273.55 67.3,273.7 68,273.16 68.7,273.27 69.4,273.22 70.1,273.36 70.8,273.34 71.5,273.87 72.2,273.27 72.9,273.85 73.6,273.34 74.3,273.26 74.6,273.5" fill="none" stroke="#000" stroke-width="0.75" stroke-linejoin="round" />
<polyline points="17,272.5 17.6,273.18 18.3,272.67 19,272.85 19.7,272.99 20.4,273.06 21.1,273.41 21.8,273.35 22.5,273.38 23.2,273.32 23.9,273.91 24.6,273.43 25.3,273.61 26,273.91 26.7,274.18 27.4,274.02 28.1,274.08 28.8,274.09 29.5,274.18 30.2,274.23 30.9,273.68 31.6,273.61 32.3,274.07 33,273.99 33.7,274 34.4,274.21 35.1,273.72 35.8,274.15 36.5,273.93 37.2,273.93 37.9,273.79 38.6,273.82 39.3,274.06 40,274.04 40.7,274.32 41.4,273.82 42.1,274.17 42.8,273.68 43.5,274.12 44.2,273.73 44.9,274.28 45.6,274.37 46.3,273.8 47,274.25 47.7,273.78 48.4,273.84 49.1,273.68 49.8,273.95 50.5,273.68 51.2,274.16 51.9,274.06 52.6,273.94 53.3,274.17 54,273.79 54.7,273.87 55.4,273.89 56.1,273.6 56.8,274.31 57.5,273.67 58.2,273.68 58.9,274.24 59.6,274.25 60.3,273.96 61,273.94 61.7,273.71 62.4,273.6 63.1,274.02 63.8,273.8 64.5,273.72 65.2,274.32 65.9,273.62 66.6,273.89 67.3,274.2 68,274.2 68.7,273.69 69.4,274.19 70.1,274.05 70.8,274.1 71.5,274.35 72.2,274.24 72.9,274.08 73.6,274.22 74.3,273.99 74.6,274" fill="none" stroke="#000" stroke-width="0.75" stroke-linejoin="round" />
<polyline points="17,273.5 17.6,273.82 18.3,274.22 19,274.21 19.7,274.14 20.4,273.96 21.1,274.67 21.8,274.38 22.5,274.51 23.2,274.45 23.9,274.71 24.6,274.63 25.3,275 26,274.84 26.7,274.83 27.4,275.03 28.1,274.77 28.8,274.86 29.5,275.04 30.2,275.03 30.9,275.05 31.6,275.18 32.3,274.92 33,274.92 33.7,274.63 34.4,274.68 35.1,274.83 35.8,274.89 36.5,275.21 37.2,274.53 37.9,274.77 38.6,275.09 39.3,274.86 40,275.17 40.7,274.62 41.4,275.11 42.1,274.84 42.8,274.95 43.5,274.54 44.2,274.82 44.9,275.14 45.6,275.09 46.3,274.95 47,274.84 47.7,274.53 48.4,275.06 49.1,274.86 49.8,275.08 50.5,274.99 51.2,274.82 51.9,275.2 52.6,274.61 53.3,275.27 54,274.57 54.7,275.28 55.4,274.97 56.1,274.86 56.8,275.25 57.5,274.91 58.2,274.91 58.9,274.55 59.6,275.14 60.3,275.01 61,274.69 61.7,274.59 62.4,274.84 63.1,275.25 63.8,275.2 64.5,274.87 65.2,274.53 65.9,275.16 66.6,274.66 67.3,275.08 68,274.9 68.7,275.27 69.4,274.62 70.1,275.13 70.8,275.08 71.5,274.51 72.2,274.95 72.9,274.74 73.6,275.06 74.3,275.27 74.6,274.9" fill="none" stroke="#000" stroke-width="0.75" stroke-linejoin="round" />
<polyline points="17,274.5 17.6,274.91 18.3,274.96 19,275.2 19.7,275.04 20.4,275.32 21.1,275.13 21.8,275.69 22.5,275.22 23.2,275.65 23.9,275.41 24.6,275.76 25.3,275.38 26,275.39 26.7,275.88 27.4,275.98 28.1,276.13 28.8,275.97 29.5,276.24 30.2,275.57 30.9,275.96 31.6,275.98 32.3,275.61 33,275.59 33.7,275.67 34.4,275.9 35.1,276.12 35.8,276.06 36.5,275.95 37.2,275.55 37.9,276.07 38.6,275.9 39.3,275.63 40,275.99 40.7,275.69 41.4,275.74 42.1,275.86 42.8,276.1 43.5,275.58 44.2,275.85 44.9,275.69 45.6,276.04 46.3,276.15 47,275.71 47.7,276.08 48.4,275.87 49.1,275.67 49.8,275.72 50.5,275.93 51.2,276.15 51.9,275.98 52.6,275.5 53.3,276.13 54,275.96 54.7,275.84 55.4,275.69 56.1,275.85 56.8,276.05 57.5,275.72 58.2,275.61 58.9,276.2 59.6,275.85 60.3,275.56 61,276.21 61.7,275.59 62.4,275.79 63.1,276 63.8,276.03 64.5,276.22 65.2,275.64 65.9,275.96 66.6,276.2 67.3,275.87 68,276.07 68.7,275.87 69.4,276.07 70.1,276.27 70.8,275.77 71.5,276.09 72.2,275.78 72.9,276.21 73.6,276.11 74.3,276.19 74.6,275.9" fill="none" stroke="#000" stroke-width="0.75" stroke-linejoin="round" />
<polyline points="17,276 17.6,276.98 18.3,277.16 19,277.77 19.7,277.39 20.4,277.93 21.1,277.7 21.8,278.24 22.5,278.42 23.2,278.19 23.9,278.68 24.6,278.42 25.3,278.28 26,278.32 26.7,278.66 27.4,278.53 28.1,278.28 28.8,278.5 29.5,279.05 30.2,278.67 30.9,278.85 31.6,278.65 32.3,278.38 33,278.82 33.7,278.51 34.4,278.44 35.1,278.85 35.8,278.9 36.5,278.38 37.2,279.13 37.9,278.4 38.6,278.52 39.3,278.66 40,279.04 40.7,279 41.4,279.01 42.1,278.76 42.8,279.15 43.5,278.54 44.2,279.21 44.9,278.48 45.6,278.57 46.3,279.06 47,279.08 47.7,279.01 48.4,278.67 49.1,279.17 49.8,278.9 50.5,278.66 51.2,278.58 51.9,279.3 52.6,278.55 53.3,278.69 54,278.81 54.7,279.24 55.4,279.2 56.1,279.21 56.8,279.05 57.5,278.56 58.2,279.15 58.9,278.72 59.6,279.33 60.3,279.35 61,278.64 61.7,279.17 62.4,278.79 63.1,278.68 63.8,279.31 64.5,278.97 65.2,278.85 65.9,279.07 66.6,278.68 67.3,278.98 68,279.16 68.7,279.34 69.4,278.75 70.1,279.38 70.8,278.75 71.5,278.84 72.2,278.95 72.9,278.82 73.6,278.76 74.3,279.22 74.6,279.1" fill="none" stroke="#000" stroke-width="0.75" stroke-linejoin="round" />
<polyline points="17,277.5 17.6,278.24 18.3,278.56 19,279.21 19.7,279.21 20.4,279.91 21.1,280.33 21.8,280.1 22.5,280.19 23.2,280.28 23.9,280.34 24.6,280.44 25.3,280.31 26,280.46 26.7,280.81 27.4,280.68 28.1,280.38 28.8,280.47 29.5,281.05 30.2,280.68 30.9,281.08 31.6,280.93 32.3,280.95 33,280.75 33.7,280.95 34.4,280.83 35.1,280.92 35.8,281.28 36.5,280.62 37.2,280.72 37.9,281.29 38.6,281.32 39.3,281.24 40,281.29 40.7,280.7 41.4,281.2 42.1,280.74 42.8,281.33 43.5,280.98 44.2,281.07 44.9,281.1 45.6,280.86 46.3,281.16 47,281.41 47.7,281.09 48.4,281.1 49.1,281.05 49.8,280.92 50.5,281.01 51.2,281.47 51.9,281.58 52.6,281.12 53.3,281.06 54,281.11 54.7,281.55 55.4,281.08 56.1,281.03 56.8,281.14 57.5,280.97 58.2,281.03 58.9,281.11 59.6,281.46 60.3,281.7 61,281.17 61.7,281.21 62.4,281.46 63.1,281.03 63.8,281.08 64.5,281.48 65.2,281.41 65.9,281.33 66.6,281.39 67.3,281.09 68,281.29 68.7,281.24 69.4,281.3 70.1,281.18 70.8,281.79 71.5,281.16 72.2,281.49 72.9,281.31 73.6,281.35 74.3,281.8 74.6,281.6" fill="none" stroke="#000" stroke-width="0.75" stroke-linejoin="round" />
<polyline points="17,279.5 17.6,281.03 18.3,281.73 19,281.78 19.7,282.39 20.4,282.66 21.1,282.66 21.8,283.17 22.5,283.5 23.2,283.48 23.9,283.92 24.6,283.75 25.3,283.71 26,284.26 26.7,284.06 27.4,283.86 28.1,284.42 28.8,284.12 29.5,284.25 30.2,284.18 30.9,284.52 31.6,284.44 32.3,284.23 33,284.2 33.7,284.54 34.4,284.62 35.1,284.45 35.8,284.69 36.5,284.43 37.2,284.36 37.9,284.3 38.6,284.28 39.3,284.21 40,284.84 40.7,284.56 41.4,284.21 42.1,284.32 42.8,284.51 43.5,284.84 44.2,284.9 44.9,284.84 45.6,284.48 46.3,284.61 47,285.04 47.7,284.61 48.4,284.84 49.1,284.38 49.8,284.74 50.5,284.78 51.2,285.12 51.9,285.18 52.6,285.03 53.3,284.71 54,285.16 54.7,285.22 55.4,284.56 56.1,284.86 56.8,284.98 57.5,284.8 58.2,284.77 58.9,285.22 59.6,284.78 60.3,285.07 61,284.66 61.7,285.04 62.4,285.46 63.1,284.71 63.8,284.81 64.5,285.46 65.2,285.49 65.9,285.18 66.6,285.03 67.3,285.05 68,285.42 68.7,285.31 69.4,285.22 70.1,285.44 70.8,284.98 71.5,285.23 72.2,285.64 72.9,285.69 73.6,285.36 74.3,285.62 74.6,285.4" fill="none" stroke="#000" stroke-width="0.75" stroke-linejoin="round" />
<polyline points="17,281.8 17.6,284.74 18.3,285.94 19,286.77 19.7,287.6 20.4,288.71 21.1,288.95 21.8,289.48 22.5,289.39 23.2,290.34 23.9,289.99 24.6,290.42 25.3,290.52 26,290.4 26.7,290.36 27.4,290.7 28.1,290.57 28.8,290.41 29.5,290.53 30.2,290.46 30.9,291.18 31.6,290.65 32.3,291.26 33,291.05 33.7,291.34 34.4,290.98 35.1,290.83 35.8,290.72 36.5,291.18 37.2,291.26 37.9,291.27 38.6,291.48 39.3,290.86 40,291.32 40.7,291.39 41.4,291.61 42.1,291.08 42.8,291.65 43.5,290.95 44.2,291.42 44.9,291.24 45.6,291.41 46.3,291.16 47,291.35 47.7,291.35 48.4,291.47 49.1,291.44 49.8,291.32 50.5,291.3 51.2,291.57 51.9,292.01 52.6,291.92 53.3,291.38 54,291.8 54.7,291.43 55.4,291.6 56.1,292.16 56.8,291.66 57.5,291.49 58.2,291.88 58.9,291.93 59.6,291.89 60.3,292.26 61,291.94 61.7,291.85 62.4,291.75 63.1,292.07 63.8,292.22 64.5,292.05 65.2,291.99 65.9,291.9 66.6,292.4 67.3,292.54 68,292.24 68.7,292.36 69.4,292.08 70.1,291.97 70.8,291.91 71.5,292.39 72.2,292.65 72.9,292.49 73.6,292.5 74.3,292.68 74.6,292.4" fill="none" stroke="#000" stroke-width="0.75" stroke-linejoin="round" />
<polyline points="17,287.4 17.6,291.87 18.3,294.45 19,296.27 19.7,298.21 20.4,299.24 21.1,299.98 21.8,300.85 22.5,301.48 23.2,301.19 23.9,301.64 24.6,302.09 25.3,302.49 26,302.28 26.7,302.57 27.4,302.87 28.1,302.67 28.8,303.05 29.5,302.64 30.2,303 30.9,303.24 31.6,303.48 32.3,303.26 33,303.44 33.7,303.49 34.4,303.53 35.1,303.42 35.8,303.37 36.5,303.26 37.2,303.92 37.9,303.88 38.6,303.83 39.3,303.96 40,303.66 40.7,303.6 41.4,303.93 42.1,303.93 42.8,304.12 43.5,304.35 44.2,304.01 44.9,304.05 45.6,304.36 46.3,304.55 47,304.35 47.7,304.42 48.4,304.7 49.1,304.77 49.8,304.12 50.5,304.91 51.2,304.26 51.9,304.67 52.6,304.68 53.3,305.11 54,304.56 54.7,304.46 55.4,305.24 56.1,304.89 56.8,304.94 57.5,304.96 58.2,304.89 58.9,304.74 59.6,305.21 60.3,304.98 61,305.26 61.7,305.71 62.4,305.74 63.1,305.25 63.8,305.32 64.5,305.2 65.2,305.64 65.9,305.34 66.6,305.35 67.3,306.03 68,305.79 68.7,306.1 69.4,305.61 70.1,305.63 70.8,306 71.5,306.14 72.2,305.78 72.9,306.08 73.6,306.18 74.3,306.18 74.6,306.2" fill="none" stroke="#000" stroke-width="0.75" stroke-linejoin="round" />
<polyline points="17,290.5 17.6,298.65 18.3,303.45 19,306.75 19.7,309.45 20.4,311.49 21.1,313.7 21.8,314.45 22.5,315.73 23.2,316.01 23.9,317.19 24.6,316.96 25.3,317.94 26,318.01 26.7,318.55 27.4,318.74 28.1,318.21 28.8,318.38 29.5,318.67 30.2,318.63 30.9,319.39 31.6,318.92 32.3,319.44 33,319.75 33.7,319.64 34.4,319.96 35.1,319.77 35.8,319.64 36.5,320.19 37.2,319.67 37.9,320.02 38.6,319.99 39.3,320.17 40,320.05 40.7,320.66 41.4,320.76 42.1,320.61 42.8,320.53 43.5,320.97 44.2,321.04 44.9,320.4 45.6,321.15 46.3,320.61 47,320.68 47.7,320.88 48.4,321.06 49.1,321.22 49.8,321.68 50.5,321.11 51.2,321.59 51.9,321.55 52.6,321.33 53.3,322.11 54,322.12 54.7,321.74 55.4,322.24 56.1,321.98 56.8,322.24 57.5,322.52 58.2,322.37 58.9,322.23 59.6,322.06 60.3,322.47 61,322.64 61.7,322.47 62.4,322.79 63.1,322.42 63.8,322.69 64.5,322.95 65.2,323.03 65.9,323.29 66.6,322.99 67.3,323.11 68,323.55 68.7,323.26 69.4,323.24 70.1,323.69 70.8,323.55 71.5,323.82 72.2,324.21 72.9,324.29 73.6,324.22 74.3,324.44 74.6,324.1" fill="none" stroke="#000" stroke-width="0.75" stroke-linejoin="round" />
<line x1="1.9" y1="275.9" x2="16.7" y2="275.9" stroke="#000" stroke-width="1.4" />
<polyline points="1.9,277.03 2.2,277.01 2.5,274.8 2.8,274.87 3.1,276.73 3.4,276.49 3.7,276.32 4,275.42 4.3,276.16 4.6,276.16 4.9,276.1 5.2,275.05 5.5,275.73 5.8,275.64 6.1,276.45 6.4,277.13 6.7,277.01 7,276.01 7.3,275.76 7.6,275.33 7.9,274.75 8.2,274.73 8.5,275.81 8.8,275.45 9.1,275.6 9.4,276.87 9.7,275.96 10,276.05 10.3,275.25 10.6,274.72 10.9,275.47 11.2,275 11.5,275.93 11.8,277.14 12.1,276.33 12.4,275.11 12.7,276.88 13,276.64 13.3,276.48 13.6,276.91 13.9,276.55 14.2,276.62 14.5,275.54 14.8,277.09 15.1,277.05 15.4,275.06 15.7,276.53 16,276.43 16.3,275.8 16.6,275.98 16.7,275.88" fill="none" stroke="#000" stroke-width="0.75" stroke-linejoin="round" />
<line x1="74.6" y1="280" x2="103.4" y2="280" stroke="#000" stroke-width="1.4" />
<polyline points="74.6,279.35 74.9,280.11 75.2,279.68 75.5,280.26 75.8,280.31 76.1,278.92 76.4,278.79 76.7,280.84 77,279.4 77.3,279.34 77.6,281.23 77.9,279.93 78.2,280.83 78.5,279.94 78.8,280.34 79.1,279.13 79.4,280.33 79.7,280.91 80,280.06 80.3,280.6 80.6,280.43 80.9,278.92 81.2,280.64 81.5,280.23 81.8,279.51 82.1,278.84 82.4,280.91 82.7,279.93 83,280.54 83.3,280.94 83.6,280.53 83.9,281.04 84.2,279.74 84.5,280.75 84.8,279.86 85.1,281.08 85.4,280.94 85.7,279 86,279.1 86.3,279.3 86.6,281.15 86.9,279.84 87.2,280.31 87.5,279.51 87.8,280.02 88.1,279.72 88.4,279.63 88.7,280.21 89,280.21 89.3,281 89.6,280.45 89.9,281.06 90.2,280.88 90.5,281.22 90.8,280.42 91.1,279.16 91.4,280.89 91.7,281.15 92,281 92.3,280.17 92.6,280.53 92.9,279.28 93.2,280.82 93.5,280.18 93.8,279.47 94.1,278.92 94.4,280.88 94.7,281.21 95,278.98 95.3,280.75 95.6,279.78 95.9,279.13 96.2,279.49 96.5,280.67 96.8,280.92 97.1,278.87 97.4,280.28 97.7,278.87 98,280.54 98.3,279.58 98.6,280.94 98.9,281.19 99.2,280.01 99.5,281.24 99.8,279.53 100.1,278.95 100.4,280.25 100.7,278.84 101,279.25 101.3,279.77 101.6,280.27 101.9,279.15 102.2,278.87 102.5,280.91 102.8,279.54 103.1,281.14 103.4,280.98 103.4,279.7" fill="none" stroke="#000" stroke-width="0.75" stroke-linejoin="round" />
<line x1="103.4" y1="275.9" x2="118.6" y2="275.9" stroke="#000" stroke-width="1.4" />
<polyline points="103.4,275.25 103.7,274.92 104,275.64 104.3,275.04 104.6,274.82 104.9,275.66 105.2,276.94 105.5,276.65 105.8,276.56 106.1,275.21 106.4,275.99 106.7,275.35 107,275.09 107.3,274.92 107.6,275.19 107.9,276.96 108.2,276.72 108.5,276.66 108.8,276.65 109.1,275.14 109.4,275.43 109.7,276.21 110,276.48 110.3,276.78 110.6,276.84 110.9,274.88 111.2,276.16 111.5,276.33 111.8,275.91 112.1,275.1 112.4,275.83 112.7,274.88 113,276.98 113.3,276.81 113.6,276.02 113.9,275.4 114.2,276.91 114.5,276.08 114.8,276.85 115.1,276.76 115.4,275.92 115.7,275.69 116,276.15 116.3,275.73 116.6,275.06 116.9,275.42 117.2,276.68 117.5,274.77 117.8,274.77 118.1,276.21 118.4,275.36 118.6,275.99" fill="none" stroke="#000" stroke-width="0.75" stroke-linejoin="round" />
<line x1="103.4" y1="262" x2="103.4" y2="327.5" stroke="#000" stroke-width="1.0" />
<line x1="16.7" y1="231.6" x2="16.7" y2="282" stroke="#000" stroke-width="1.2" />
<line x1="74.6" y1="271.5" x2="74.6" y2="345" stroke="#000" stroke-width="1.1" />
<line x1="1.9" y1="276.2" x2="121.5" y2="276.2" stroke="#e94a35" stroke-width="1.0" />
<polyline points="2.3,310.4 2.3,332.2 30.7,332.2" fill="none" stroke="#9a9a9a" stroke-width="1.0" stroke-linejoin="round" />
<polyline points="198.9,258.9 199.5,259.07 200.2,260.08 200.9,260.41 201.6,261.05 202.3,260.71 203,261.01 203.7,261.77 204.4,261.96 205.1,261.86 205.8,262.47 206.5,262.4 207.2,262.98 207.9,262.51 208.6,262.8 209.3,263.64 210,263.25 210.7,263.29 211.4,263.97 212.1,263.92 212.8,263.55 213.5,264.06 214.2,264.28 214.9,263.87 215.6,264.45 216.3,264 217,264.29 217.7,264.11 218.4,264.29 219.1,265.13 219.8,264.61 220.5,265.25 221.2,264.75 221.9,264.97 222.6,265.27 223.3,265.13 224,264.59 224.7,265.1 225.4,265.18 226.1,264.76 226.8,264.7 227.5,265.51 228.2,265.17 228.9,264.87 229.6,265.16 230.3,264.94 231,265.54 231.7,265.26 232.4,264.88 233.1,265.61 233.8,264.89 234.5,265.1 235.2,264.86 235.9,265.58 236.6,264.97 237.3,265.39 238,264.96 238.7,265.36 239.4,265.57 240.1,265.43 240.8,265.36 241.5,265.39 242.2,265.35 242.9,265.52 243.6,265.02 244.3,265.41 245,265.17 245.7,265.81 246.4,265.88 247.1,265.01 247.8,265.1 248.5,265.66 249.2,265.53 249.9,264.98 250.6,265.67 251.3,265.91 252,265.39 252.7,265.32 253.4,265.54 254.1,265.91 254.8,265.24 255.5,265.28 256.2,265.17 256.9,265.61 257.6,265.45 258.3,265.24 259,265.37 259.7,265.02 260.4,265.3 261.1,265.97 261.8,265.57 262.5,265.27 263.2,265.93 263.9,265.35 264.6,265.24 265.3,265.03 266,265.14 266.7,265.19 267.4,265.22 268.1,265.87 268.8,265.26 269.5,265.24 270.1,265.5" fill="none" stroke="#000" stroke-width="0.7" stroke-linejoin="round" />
<polyline points="198.9,259.5 199.5,260.19 200.2,260.92 200.9,260.69 201.6,261.52 202.3,261.47 203,261.98 203.7,262.31 204.4,262.94 205.1,263.01 205.8,263 206.5,263.56 207.2,263.29 207.9,263.5 208.6,264.26 209.3,264.01 210,264.4 210.7,264.09 211.4,264.82 212.1,264.65 212.8,264.4 213.5,265.2 214.2,264.84 214.9,264.81 215.6,264.82 216.3,264.74 217,264.92 217.7,265.49 218.4,265 219.1,265.18 219.8,265.43 220.5,265.58 221.2,265.47 221.9,265.92 222.6,265.44 223.3,265.59 224,265.69 224.7,265.43 225.4,265.56 226.1,265.51 226.8,266.12 227.5,265.57 228.2,266.12 228.9,265.69 229.6,266.14 230.3,266.17 231,265.89 231.7,266.48 232.4,266.23 233.1,266.14 233.8,265.65 234.5,266.02 235.2,265.89 235.9,266.11 236.6,266.58 237.3,266.52 238,265.73 238.7,266.36 239.4,266.62 240.1,266.24 240.8,265.8 241.5,266.57 242.2,266.14 242.9,266.7 243.6,266.6 244.3,266.56 245,266.67 245.7,265.81 246.4,266.54 247.1,266.05 247.8,265.89 248.5,266.13 249.2,266.35 249.9,265.76 250.6,266.21 251.3,266.55 252,266.26 252.7,266.3 253.4,266.07 254.1,266.74 254.8,266.02 255.5,266.46 256.2,266.42 256.9,265.78 257.6,266.78 258.3,266.02 259,266.77 259.7,266.71 260.4,266.69 261.1,266.64 261.8,266.19 262.5,266.23 263.2,266.14 263.9,266.73 264.6,265.82 265.3,265.93 266,266.75 266.7,266.6 267.4,266.5 268.1,266.76 268.8,266.32 269.5,266.63 270.1,266.3" fill="none" stroke="#000" stroke-width="0.7" stroke-linejoin="round" />
<polyline points="198.9,260.3 199.5,260.83 200.2,261.71 200.9,261.27 201.6,262 202.3,262.48 203,263.01 203.7,262.94 204.4,263.47 205.1,264.02 205.8,263.71 206.5,263.71 207.2,263.75 207.9,264.78 208.6,264.57 209.3,264.66 210,264.94 210.7,264.69 211.4,264.93 212.1,265.07 212.8,265.21 213.5,265.93 214.2,265.42 214.9,265.36 215.6,266.22 216.3,266 217,265.55 217.7,266.27 218.4,266.35 219.1,266.37 219.8,266.56 220.5,266.26 221.2,266.12 221.9,266.68 222.6,266.61 223.3,266.73 224,266.25 224.7,266.47 225.4,266.82 226.1,266.55 226.8,266.8 227.5,266.7 228.2,267 228.9,266.62 229.6,266.79 230.3,267.14 231,266.64 231.7,266.53 232.4,267.01 233.1,266.52 233.8,267.26 234.5,266.69 235.2,267.33 235.9,266.97 236.6,266.6 237.3,266.98 238,267.15 238.7,266.96 239.4,267.12 240.1,266.86 240.8,267.46 241.5,266.68 242.2,267.31 242.9,266.54 243.6,267.03 244.3,266.6 245,266.67 245.7,267.13 246.4,267.45 247.1,266.86 247.8,266.95 248.5,267.03 249.2,267.16 249.9,266.91 250.6,266.91 251.3,267.42 252,267.12 252.7,266.92 253.4,267.39 254.1,267.57 254.8,267.01 255.5,266.59 256.2,266.88 256.9,267.48 257.6,266.75 258.3,266.78 259,267.38 259.7,266.7 260.4,267.44 261.1,266.81 261.8,266.98 262.5,267.18 263.2,266.7 263.9,267.37 264.6,267.03 265.3,267.36 266,267.36 266.7,266.67 267.4,267.42 268.1,267.41 268.8,266.84 269.5,267.19 270.1,267.1" fill="none" stroke="#000" stroke-width="0.7" stroke-linejoin="round" />
<polyline points="198.9,261 199.5,261.29 200.2,262.04 200.9,262.65 201.6,262.64 202.3,263.14 203,263.05 203.7,264.08 204.4,264.12 205.1,264.58 205.8,264.07 206.5,264.96 207.2,264.51 207.9,265.17 208.6,265.03 209.3,265.87 210,265.23 210.7,265.75 211.4,265.88 212.1,265.92 212.8,265.72 213.5,266.43 214.2,266.84 214.9,266.33 215.6,266.96 216.3,266.48 217,266.49 217.7,266.75 218.4,267.33 219.1,267.2 219.8,267.12 220.5,266.58 221.2,267.04 221.9,266.65 222.6,266.75 223.3,267.1 224,267.01 224.7,266.9 225.4,267.35 226.1,267.65 226.8,267.82 227.5,267.84 228.2,267.37 228.9,267.15 229.6,267.96 230.3,267.44 231,267.38 231.7,267.88 232.4,267.63 233.1,268.04 233.8,267.8 234.5,268.06 235.2,267.28 235.9,268.08 236.6,267.69 237.3,267.85 238,267.47 238.7,267.42 239.4,267.48 240.1,267.36 240.8,268.16 241.5,267.33 242.2,267.46 242.9,267.85 243.6,267.43 244.3,267.44 245,267.49 245.7,267.47 246.4,267.25 247.1,267.99 247.8,267.91 248.5,267.56 249.2,268.16 249.9,267.82 250.6,267.48 251.3,268.23 252,267.5 252.7,268.08 253.4,268.09 254.1,267.28 254.8,268.12 255.5,267.7 256.2,267.78 256.9,268.23 257.6,267.73 258.3,267.52 259,267.33 259.7,268.17 260.4,267.74 261.1,268 261.8,267.93 262.5,268.27 263.2,268.23 263.9,268.23 264.6,267.8 265.3,268.2 266,267.6 266.7,267.42 267.4,267.93 268.1,267.32 268.8,268.27 269.5,267.62 270.1,267.8" fill="none" stroke="#000" stroke-width="0.7" stroke-linejoin="round" />
<polyline points="198.9,261.8 199.5,262.29 200.2,262.57 200.9,262.98 201.6,263.55 202.3,264.14 203,263.66 203.7,264.28 204.4,264.45 205.1,265.41 205.8,265.13 206.5,265.35 207.2,266.04 207.9,265.68 208.6,265.86 209.3,266.04 210,266.03 210.7,266.64 211.4,266.35 212.1,266.7 212.8,266.88 213.5,267.18 214.2,267.25 214.9,267.09 215.6,267.64 216.3,267.72 217,267.79 217.7,267.64 218.4,267.44 219.1,267.41 219.8,267.97 220.5,267.63 221.2,267.96 221.9,267.65 222.6,267.67 223.3,267.36 224,268.11 224.7,267.7 225.4,267.94 226.1,268.2 226.8,268.34 227.5,268.48 228.2,268.22 228.9,267.81 229.6,268.53 230.3,267.68 231,268.05 231.7,268.58 232.4,268.52 233.1,268.29 233.8,268.57 234.5,267.89 235.2,267.77 235.9,268.04 236.6,268.68 237.3,267.8 238,268.1 238.7,268.29 239.4,267.99 240.1,268.67 240.8,267.91 241.5,267.89 242.2,268.81 242.9,267.83 243.6,268.05 244.3,268.24 245,268.72 245.7,268.18 246.4,268.41 247.1,268.65 247.8,268.47 248.5,268.69 249.2,267.87 249.9,268.4 250.6,267.88 251.3,268.72 252,267.89 252.7,267.97 253.4,268.3 254.1,268.5 254.8,267.89 255.5,268.52 256.2,267.98 256.9,268.2 257.6,267.92 258.3,268.61 259,268.72 259.7,268.66 260.4,268.21 261.1,268.14 261.8,268.85 262.5,268.71 263.2,268.86 263.9,268.31 264.6,268.77 265.3,268.57 266,268.68 266.7,268.4 267.4,268.68 268.1,268.39 268.8,268.17 269.5,268.37 270.1,268.4" fill="none" stroke="#000" stroke-width="0.7" stroke-linejoin="round" />
<polyline points="198.9,262.6 199.5,262.76 200.2,263.83 200.9,263.9 201.6,264.12 202.3,265.08 203,265.14 203.7,265.23 204.4,266.11 205.1,266.38 205.8,266.1 206.5,266.44 207.2,266.1 207.9,266.64 208.6,267.45 209.3,267.13 210,267.76 210.7,266.93 211.4,267.05 212.1,267.21 212.8,267.33 213.5,268.11 214.2,268.44 214.9,268.3 215.6,268.22 216.3,268.07 217,268.14 217.7,267.95 218.4,268.28 219.1,268.06 219.8,268.79 220.5,268.57 221.2,268.45 221.9,268.96 222.6,268.45 223.3,269.05 224,268.93 224.7,268.87 225.4,268.86 226.1,268.93 226.8,269.22 227.5,269.33 228.2,268.92 228.9,269.34 229.6,268.64 230.3,269.33 231,269.31 231.7,269.07 232.4,268.56 233.1,269.35 233.8,268.85 234.5,268.81 235.2,269.44 235.9,268.58 236.6,269.15 237.3,268.74 238,269.39 238.7,268.74 239.4,268.64 240.1,269.02 240.8,269 241.5,269.3 242.2,268.83 242.9,268.84 243.6,268.85 244.3,269.11 245,268.69 245.7,269.13 246.4,269.39 247.1,269.26 247.8,268.83 248.5,269.05 249.2,268.67 249.9,269.05 250.6,269.34 251.3,268.58 252,269.23 252.7,269.51 253.4,268.86 254.1,268.9 254.8,269.27 255.5,268.74 256.2,268.86 256.9,269.21 257.6,269.11 258.3,268.76 259,268.79 259.7,269.08 260.4,269.46 261.1,268.79 261.8,269.28 262.5,269.13 263.2,268.87 263.9,269.01 264.6,269.42 265.3,268.7 266,269.14 266.7,269.08 267.4,268.71 268.1,269.01 268.8,268.77 269.5,269 270.1,269.1" fill="none" stroke="#000" stroke-width="0.7" stroke-linejoin="round" />
<polyline points="198.9,263.5 199.5,263.62 200.2,264.58 200.9,265.2 201.6,265.63 202.3,266.02 203,265.65 203.7,266.48 204.4,266.3 205.1,266.9 205.8,266.89 206.5,267.37 207.2,267.22 207.9,267.95 208.6,267.62 209.3,268.11 210,267.63 210.7,268.31 211.4,267.92 212.1,268.23 212.8,268.3 213.5,268.68 214.2,268.68 214.9,268.46 215.6,269.2 216.3,268.37 217,268.87 217.7,268.59 218.4,268.62 219.1,268.78 219.8,269.56 220.5,268.68 221.2,269.42 221.9,269.31 222.6,269.61 223.3,269.65 224,268.95 224.7,269.78 225.4,269.03 226.1,269.03 226.8,269.17 227.5,269.65 228.2,269.54 228.9,269.68 229.6,269.22 230.3,269.49 231,269.36 231.7,270.01 232.4,269.62 233.1,269.76 233.8,269.52 234.5,269.2 235.2,269.19 235.9,269.33 236.6,269.85 237.3,269.32 238,269.6 238.7,269.47 239.4,269.27 240.1,269.51 240.8,269.63 241.5,270.06 242.2,269.93 242.9,269.59 243.6,269.45 244.3,269.4 245,269.52 245.7,269.7 246.4,270.14 247.1,269.25 247.8,269.36 248.5,269.57 249.2,269.74 249.9,269.25 250.6,269.2 251.3,269.74 252,269.2 252.7,270.01 253.4,269.86 254.1,269.65 254.8,270.19 255.5,269.67 256.2,270.13 256.9,269.41 257.6,269.27 258.3,269.61 259,269.72 259.7,269.86 260.4,269.32 261.1,269.9 261.8,269.49 262.5,270.14 263.2,269.99 263.9,269.97 264.6,269.24 265.3,269.26 266,269.23 266.7,269.64 267.4,269.23 268.1,269.34 268.8,269.26 269.5,270.19 270.1,269.7" fill="none" stroke="#000" stroke-width="0.7" stroke-linejoin="round" />
<polyline points="198.9,265 199.5,265.59 200.2,265.83 200.9,266.12 201.6,266.62 202.3,266.79 203,267.79 203.7,268.2 204.4,268.36 205.1,267.86 205.8,268.61 206.5,269.06 207.2,268.78 207.9,269.33 208.6,268.72 209.3,269.37 210,269.72 210.7,269.53 211.4,269.31 212.1,270.28 212.8,270.21 213.5,269.77 214.2,270.29 214.9,269.8 215.6,270.31 216.3,270.47 217,270.41 217.7,270.3 218.4,270.73 219.1,270.36 219.8,270.05 220.5,270.17 221.2,270.2 221.9,270.86 222.6,270.17 223.3,271.1 224,270.73 224.7,270.24 225.4,271.14 226.1,271.2 226.8,270.46 227.5,270.8 228.2,270.49 228.9,270.4 229.6,270.35 230.3,271.17 231,270.52 231.7,270.51 232.4,270.49 233.1,270.61 233.8,271.27 234.5,270.54 235.2,270.52 235.9,270.4 236.6,271.06 237.3,270.46 238,271.18 238.7,271.3 239.4,270.64 240.1,270.83 240.8,271.17 241.5,270.86 242.2,270.69 242.9,271.29 243.6,271.38 244.3,270.62 245,271.23 245.7,270.42 246.4,271.21 247.1,270.73 247.8,271.37 248.5,270.41 249.2,270.6 249.9,270.79 250.6,270.9 251.3,271.17 252,270.52 252.7,270.45 253.4,270.64 254.1,270.49 254.8,271.34 255.5,270.91 256.2,270.6 256.9,270.72 257.6,270.66 258.3,270.85 259,270.72 259.7,271.02 260.4,270.61 261.1,271.08 261.8,271.31 262.5,271.15 263.2,270.48 263.9,270.88 264.6,271.22 265.3,270.47 266,271.34 266.7,270.51 267.4,270.51 268.1,270.41 268.8,271.26 269.5,270.43 270.1,270.9" fill="none" stroke="#000" stroke-width="0.7" stroke-linejoin="round" />
<polyline points="198.9,266.8 199.5,267.42 200.2,267.99 200.9,268.3 201.6,269.18 202.3,269.11 203,268.82 203.7,269.49 204.4,269.5 205.1,270.46 205.8,270 206.5,270.62 207.2,270.56 207.9,270.71 208.6,270.94 209.3,270.78 210,271.29 210.7,271.34 211.4,271.64 212.1,271.73 212.8,271.09 213.5,271.88 214.2,271.44 214.9,272.15 215.6,271.8 216.3,271.47 217,271.83 217.7,271.89 218.4,271.89 219.1,271.8 219.8,272.02 220.5,272 221.2,272.28 221.9,271.85 222.6,271.98 223.3,271.55 224,272.3 224.7,271.63 225.4,272.46 226.1,272.11 226.8,272.17 227.5,272 228.2,272.17 228.9,271.73 229.6,271.79 230.3,272.18 231,271.95 231.7,272.16 232.4,272.15 233.1,272.64 233.8,272.31 234.5,271.69 235.2,272.33 235.9,271.99 236.6,271.86 237.3,272.04 238,272.58 238.7,272.47 239.4,272.14 240.1,272.55 240.8,272.2 241.5,271.84 242.2,272.4 242.9,272.55 243.6,272.37 244.3,271.99 245,272.17 245.7,271.82 246.4,271.94 247.1,271.76 247.8,272.66 248.5,272.42 249.2,272.18 249.9,272.38 250.6,272.39 251.3,272.17 252,271.95 252.7,272.19 253.4,272.24 254.1,272.08 254.8,271.92 255.5,272.28 256.2,272.35 256.9,271.93 257.6,271.83 258.3,272.45 259,272.68 259.7,272.43 260.4,272.52 261.1,272.42 261.8,272.09 262.5,272.28 263.2,272.16 263.9,272.68 264.6,271.81 265.3,272.69 266,271.83 266.7,272.01 267.4,272.27 268.1,272.64 268.8,272.58 269.5,272.46 270.1,272.2" fill="none" stroke="#000" stroke-width="0.7" stroke-linejoin="round" />
<polyline points="198.9,268.5 199.5,269.34 200.2,269.92 200.9,269.9 201.6,270.01 202.3,270.89 203,270.82 203.7,271.32 204.4,271.87 205.1,272.29 205.8,271.62 206.5,272.58 207.2,272.04 207.9,272.46 208.6,272.86 209.3,272.84 210,272.63 210.7,273.23 211.4,272.58 212.1,273.3 212.8,273.52 213.5,273.43 214.2,272.74 214.9,273.06 215.6,272.8 216.3,273.08 217,273.17 217.7,272.95 218.4,273.28 219.1,273.67 219.8,273.52 220.5,273.17 221.2,273 221.9,273.01 222.6,273.72 223.3,273.18 224,273.48 224.7,273.13 225.4,273.64 226.1,273.03 226.8,273.43 227.5,273.4 228.2,273.48 228.9,273.18 229.6,273.66 230.3,273.93 231,273.19 231.7,273.05 232.4,273.26 233.1,273.32 233.8,273.85 234.5,273.02 235.2,273.03 235.9,273.52 236.6,273.46 237.3,273.2 238,273.68 238.7,273.39 239.4,273.96 240.1,273.21 240.8,273.52 241.5,273.12 242.2,273.1 242.9,273.95 243.6,273.88 244.3,273.74 245,273.5 245.7,273.67 246.4,273.22 247.1,273.18 247.8,273.22 248.5,273.27 249.2,273.4 249.9,273.5 250.6,273.27 251.3,273.35 252,273.8 252.7,273.8 253.4,273.25 254.1,273.56 254.8,273.11 255.5,273.63 256.2,273.62 256.9,273.18 257.6,273.84 258.3,273.61 259,273.97 259.7,273.27 260.4,273.15 261.1,273.78 261.8,273.75 262.5,273.23 263.2,273.44 263.9,273.18 264.6,273.46 265.3,273.98 266,273.26 266.7,273.36 267.4,273.87 268.1,273.99 268.8,273.51 269.5,273.55 270.1,273.5" fill="none" stroke="#000" stroke-width="0.7" stroke-linejoin="round" />
<polyline points="198.9,270.5 199.5,271.25 200.2,271.94 200.9,272.57 201.6,272.95 202.3,272.92 203,273.09 203.7,273.73 204.4,273.76 205.1,274.26 205.8,273.54 206.5,274.31 207.2,274.49 207.9,274.15 208.6,273.9 209.3,274.31 210,275.01 210.7,274.86 211.4,274.49 212.1,275.05 212.8,274.32 213.5,275.01 214.2,274.85 214.9,275.31 215.6,274.64 216.3,274.72 217,274.74 217.7,274.84 218.4,274.88 219.1,274.62 219.8,274.88 220.5,274.5 221.2,275.08 221.9,275.29 222.6,274.79 223.3,274.92 224,275.44 224.7,275.31 225.4,275.17 226.1,275.06 226.8,275.45 227.5,274.96 228.2,275.11 228.9,275.37 229.6,274.85 230.3,274.92 231,275.15 231.7,275.21 232.4,275.2 233.1,274.9 233.8,274.78 234.5,275.27 235.2,275.22 235.9,275.02 236.6,274.75 237.3,274.57 238,275.02 238.7,275.41 239.4,275.37 240.1,275.24 240.8,274.92 241.5,275.37 242.2,275.38 242.9,274.81 243.6,275.04 244.3,274.86 245,274.69 245.7,274.99 246.4,274.72 247.1,275.45 247.8,275.48 248.5,274.76 249.2,274.67 249.9,274.7 250.6,275.42 251.3,274.83 252,275.32 252.7,275.5 253.4,274.84 254.1,275.34 254.8,274.6 255.5,274.54 256.2,275.17 256.9,274.81 257.6,274.73 258.3,275.01 259,275.29 259.7,274.94 260.4,275.05 261.1,275.26 261.8,274.59 262.5,275.01 263.2,274.54 263.9,274.7 264.6,274.62 265.3,274.68 266,275.42 266.7,274.52 267.4,274.98 268.1,274.58 268.8,274.51 269.5,275.43 270.1,275" fill="none" stroke="#000" stroke-width="0.7" stroke-linejoin="round" />
<polyline points="198.9,272.5 199.5,273.33 200.2,274.21 200.9,274.42 201.6,274.74 202.3,275.24 203,274.74 203.7,275.16 204.4,275.82 205.1,276.29 205.8,275.61 206.5,275.93 207.2,276.3 207.9,276.27 208.6,276.5 209.3,275.86 210,276.11 210.7,276.58 211.4,276.68 212.1,276.62 212.8,276.79 213.5,276.8 214.2,276.02 214.9,276.33 215.6,276.11 216.3,276.17 217,276.78 217.7,276.45 218.4,276.95 219.1,276.1 219.8,276.53 220.5,277.06 221.2,276.45 221.9,276.77 222.6,276.96 223.3,276.9 224,276.42 224.7,276.54 225.4,276.87 226.1,276.63 226.8,276.52 227.5,277.04 228.2,276.35 228.9,276.79 229.6,276.45 230.3,276.72 231,276.85 231.7,276.99 232.4,276.9 233.1,276.6 233.8,276.68 234.5,276.79 235.2,276.85 235.9,277.02 236.6,276.12 237.3,276.12 238,277.06 238.7,276.74 239.4,276.2 240.1,276.4 240.8,276.24 241.5,276.41 242.2,276.24 242.9,276.83 243.6,276.25 244.3,276.55 245,276.16 245.7,276.5 246.4,276.36 247.1,276.64 247.8,276.36 248.5,276.32 249.2,276.45 249.9,277.04 250.6,277.09 251.3,276.26 252,276.84 252.7,276.16 253.4,276.41 254.1,276.88 254.8,276.83 255.5,276.8 256.2,276.59 256.9,276.54 257.6,276.15 258.3,276.76 259,276.74 259.7,276.47 260.4,276.25 261.1,276.36 261.8,276.9 262.5,276.19 263.2,276.7 263.9,276.87 264.6,276.85 265.3,276.47 266,276.79 266.7,276.31 267.4,276.37 268.1,276.74 268.8,276.21 269.5,276.61 270.1,276.6" fill="none" stroke="#000" stroke-width="0.7" stroke-linejoin="round" />
<polyline points="198.9,275.5 199.5,276.54 200.2,276.4 200.9,276.81 201.6,277.9 202.3,278.13 203,278.51 203.7,277.81 204.4,278.66 205.1,278.49 205.8,278.55 206.5,278.24 207.2,278.48 207.9,278.34 208.6,278.2 209.3,278.91 210,278.32 210.7,278.33 211.4,279.04 212.1,279.09 212.8,278.37 213.5,278.72 214.2,278.43 214.9,278.63 215.6,278.75 216.3,278.57 217,278.63 217.7,278.75 218.4,279.01 219.1,278.5 219.8,278.46 220.5,278.76 221.2,278.59 221.9,278.53 222.6,278.45 223.3,279.12 224,279.1 224.7,278.42 225.4,278.95 226.1,278.74 226.8,278.36 227.5,278.38 228.2,279.3 228.9,278.41 229.6,278.82 230.3,279 231,279.05 231.7,279.01 232.4,278.38 233.1,278.68 233.8,278.41 234.5,279.02 235.2,279.09 235.9,278.53 236.6,278.89 237.3,278.55 238,278.67 238.7,278.49 239.4,278.63 240.1,278.45 240.8,278.31 241.5,278.7 242.2,279.13 242.9,278.93 243.6,278.96 244.3,278.77 245,278.47 245.7,278.56 246.4,278.4 247.1,278.9 247.8,278.46 248.5,278.97 249.2,278.33 249.9,279.03 250.6,278.55 251.3,278.46 252,278.76 252.7,278.52 253.4,279.09 254.1,278.96 254.8,278.76 255.5,278.83 256.2,279.07 256.9,278.95 257.6,278.73 258.3,278.86 259,278.74 259.7,278.93 260.4,279.11 261.1,279.07 261.8,279.25 262.5,278.32 263.2,278.37 263.9,278.41 264.6,279.25 265.3,278.67 266,278.79 266.7,278.75 267.4,278.77 268.1,278.97 268.8,278.92 269.5,278.51 270.1,278.8" fill="none" stroke="#000" stroke-width="0.7" stroke-linejoin="round" />
<polyline points="198.9,280 199.5,280.66 200.2,281.42 200.9,281.35 201.6,281.6 202.3,281.63 203,281.91 203.7,282.01 204.4,281.91 205.1,282.4 205.8,281.93 206.5,282.16 207.2,281.97 207.9,282.79 208.6,282.44 209.3,282.41 210,282.91 210.7,282.81 211.4,282.31 212.1,282.7 212.8,282.35 213.5,282.44 214.2,282.18 214.9,282.6 215.6,282.73 216.3,282.35 217,282.45 217.7,282.34 218.4,282.78 219.1,283.02 219.8,282.95 220.5,282.86 221.2,282.9 221.9,282.5 222.6,282.41 223.3,282.99 224,283.08 224.7,282.82 225.4,282.35 226.1,282.16 226.8,282.74 227.5,282.18 228.2,282.95 228.9,282.28 229.6,282.38 230.3,282.21 231,282.88 231.7,282.28 232.4,282.27 233.1,282.46 233.8,282.22 234.5,282.17 235.2,283.02 235.9,282.51 236.6,282.35 237.3,282.27 238,282.84 238.7,282.13 239.4,282.61 240.1,282.54 240.8,282.64 241.5,282.45 242.2,283.02 242.9,282.15 243.6,282.86 244.3,282.25 245,282.15 245.7,282.2 246.4,282.37 247.1,282.58 247.8,282.34 248.5,282.27 249.2,282.23 249.9,282.91 250.6,283 251.3,282.39 252,282.86 252.7,282.77 253.4,282.95 254.1,283.02 254.8,282.68 255.5,282.34 256.2,282.5 256.9,282.62 257.6,282.17 258.3,282.4 259,282.2 259.7,282.82 260.4,282.34 261.1,282.26 261.8,282.38 262.5,282.72 263.2,282.8 263.9,282.47 264.6,282.48 265.3,282.13 266,282.57 266.7,282.73 267.4,282.65 268.1,282.73 268.8,282.65 269.5,282.92 270.1,282.6" fill="none" stroke="#000" stroke-width="0.7" stroke-linejoin="round" />
<polyline points="198.9,284.5 199.5,285.85 200.2,286.07 200.9,286.89 201.6,286.57 202.3,286.87 203,287.82 203.7,287.43 204.4,287.63 205.1,287.48 205.8,288.03 206.5,288.25 207.2,287.66 207.9,287.92 208.6,287.71 209.3,288.12 210,287.95 210.7,288.32 211.4,288.43 212.1,288.18 212.8,288.26 213.5,288.75 214.2,288.45 214.9,287.89 215.6,288.56 216.3,288.25 217,288.68 217.7,287.94 218.4,288.27 219.1,288.77 219.8,288.59 220.5,288.63 221.2,288.71 221.9,288.66 222.6,288.47 223.3,287.86 224,288.54 224.7,288.29 225.4,287.88 226.1,287.94 226.8,288.73 227.5,287.8 228.2,288.02 228.9,288.61 229.6,288.76 230.3,288.03 231,288.77 231.7,288.41 232.4,288.25 233.1,288.29 233.8,288.26 234.5,288.36 235.2,287.92 235.9,288.62 236.6,288.2 237.3,288.16 238,287.99 238.7,287.99 239.4,288.39 240.1,288.72 240.8,287.97 241.5,288.55 242.2,288.67 242.9,288.35 243.6,288.68 244.3,288.7 245,288.44 245.7,288.58 246.4,288.25 247.1,287.92 247.8,288.23 248.5,288.26 249.2,288.04 249.9,288.01 250.6,288.22 251.3,288.76 252,288.79 252.7,287.97 253.4,288.64 254.1,288.09 254.8,288.21 255.5,288.68 256.2,288.48 256.9,288.67 257.6,287.9 258.3,288.28 259,288.02 259.7,288.54 260.4,287.83 261.1,288.23 261.8,288.51 262.5,288.45 263.2,288.38 263.9,288.8 264.6,287.98 265.3,288.35 266,287.99 266.7,288.08 267.4,288.44 268.1,288.39 268.8,288.23 269.5,287.89 270.1,288.3" fill="none" stroke="#000" stroke-width="0.7" stroke-linejoin="round" />
<polyline points="198.9,293 199.5,294.22 200.2,295.04 200.9,295.72 201.6,296.16 202.3,296.18 203,296.77 203.7,297.09 204.4,296.9 205.1,297.59 205.8,297.02 206.5,297.95 207.2,297.99 207.9,298.08 208.6,297.14 209.3,297.57 210,297.29 210.7,297.94 211.4,297.82 212.1,297.97 212.8,297.98 213.5,297.28 214.2,298.13 214.9,298.23 215.6,297.9 216.3,297.56 217,298.24 217.7,297.83 218.4,298.2 219.1,297.91 219.8,298.28 220.5,297.83 221.2,297.54 221.9,297.31 222.6,297.41 223.3,297.55 224,297.6 224.7,298.21 225.4,297.43 226.1,297.58 226.8,297.87 227.5,297.77 228.2,297.75 228.9,297.33 229.6,297.43 230.3,297.59 231,298.16 231.7,297.94 232.4,298.08 233.1,297.46 233.8,298.27 234.5,298.13 235.2,297.74 235.9,298.26 236.6,297.78 237.3,297.63 238,298.03 238.7,297.45 239.4,298 240.1,297.48 240.8,298.23 241.5,297.94 242.2,298.17 242.9,298.19 243.6,297.97 244.3,297.88 245,297.53 245.7,298.07 246.4,298.11 247.1,297.75 247.8,297.33 248.5,297.58 249.2,297.89 249.9,297.95 250.6,298.16 251.3,297.31 252,297.96 252.7,297.57 253.4,297.59 254.1,298.04 254.8,297.72 255.5,297.76 256.2,297.96 256.9,298.15 257.6,298.27 258.3,297.63 259,297.77 259.7,297.43 260.4,297.58 261.1,297.9 261.8,297.77 262.5,297.62 263.2,297.95 263.9,298.15 264.6,297.61 265.3,297.7 266,297.87 266.7,298.25 267.4,297.92 268.1,297.5 268.8,297.72 269.5,297.56 270.1,297.8" fill="none" stroke="#000" stroke-width="0.7" stroke-linejoin="round" />
<line x1="186.1" y1="273.5" x2="198.6" y2="273.5" stroke="#000" stroke-width="1.9599999999999997" />
<polyline points="186.1,275.08 186.4,275.05 186.7,271.96 187,272.06 187.3,274.66 187.6,274.32 187.9,274.09 188.2,272.83 188.5,273.87 188.8,273.87 189.1,273.78 189.4,272.31 189.7,273.26 190,273.13 190.3,274.27 190.6,275.22 190.9,275.06 191.2,273.65 191.5,273.31 191.8,272.7 192.1,271.89 192.4,271.86 192.7,273.38 193,272.87 193.3,273.08 193.6,274.86 193.9,273.59 194.2,273.71 194.5,272.58 194.8,271.85 195.1,272.89 195.4,272.24 195.7,273.54 196,275.23 196.3,274.11 196.6,272.4 196.9,274.87 197.2,274.53 197.5,274.31 197.8,274.91 198.1,274.41 198.4,274.51 198.6,272.99" fill="none" stroke="#000" stroke-width="0.75" stroke-linejoin="round" />
<line x1="270.1" y1="273.5" x2="294.3" y2="273.5" stroke="#000" stroke-width="1.9599999999999997" />
<polyline points="270.1,272.59 270.4,273.65 270.7,273.05 271,273.86 271.3,273.94 271.6,271.99 271.9,271.81 272.2,274.67 272.5,272.66 272.8,272.58 273.1,275.22 273.4,273.4 273.7,274.67 274,273.42 274.3,273.98 274.6,272.29 274.9,273.97 275.2,274.78 275.5,273.58 275.8,274.34 276.1,274.1 276.4,271.99 276.7,274.4 277,273.82 277.3,272.81 277.6,271.87 277.9,274.77 278.2,273.41 278.5,274.26 278.8,274.82 279.1,274.24 279.4,274.96 279.7,273.14 280,274.54 280.3,273.31 280.6,275.01 280.9,274.82 281.2,272.1 281.5,272.24 281.8,272.52 282.1,275.12 282.4,273.28 282.7,273.94 283,272.81 283.3,273.53 283.6,273.1 283.9,272.98 284.2,273.8 284.5,273.79 284.8,274.9 285.1,274.13 285.4,274.99 285.7,274.74 286,275.2 286.3,274.09 286.6,272.33 286.9,274.75 287.2,275.11 287.5,274.91 287.8,273.74 288.1,274.24 288.4,272.5 288.7,274.65 289,273.76 289.3,272.75 289.6,271.98 289.9,274.73 290.2,275.2 290.5,272.07 290.8,274.54 291.1,273.19 291.4,272.29 291.7,272.78 292,274.43 292.3,274.79 292.6,271.92 292.9,273.9 293.2,271.92 293.5,274.26 293.8,272.91 294.1,274.82 294.3,275.17" fill="none" stroke="#000" stroke-width="0.75" stroke-linejoin="round" />
<line x1="294.3" y1="268.4" x2="306.2" y2="268.4" stroke="#000" stroke-width="1.9599999999999997" />
<polyline points="294.3,267.48 294.6,267.02 294.9,268.04 295.2,267.2 295.5,266.89 295.8,268.06 296.1,269.85 296.4,269.44 296.7,269.32 297,267.43 297.3,268.53 297.6,267.62 297.9,267.26 298.2,267.03 298.5,267.41 298.8,269.88 299.1,269.54 299.4,269.46 299.7,269.44 300,267.34 300.3,267.74 300.6,268.84 300.9,269.21 301.2,269.63 301.5,269.72 301.8,266.97 302.1,268.77 302.4,269 302.7,268.42 303,267.28 303.3,268.31 303.6,266.97 303.9,269.91 304.2,269.67 304.5,268.57 304.8,267.71 305.1,269.82 305.4,268.65 305.7,269.73 306,269.61 306.2,268.43" fill="none" stroke="#000" stroke-width="0.75" stroke-linejoin="round" />
<line x1="294.3" y1="223.8" x2="294.3" y2="274.1" stroke="#000" stroke-width="1.0" />
<line x1="198.6" y1="199.5" x2="198.6" y2="346.2" stroke="#000" stroke-width="1.2" />
<line x1="270.1" y1="227.6" x2="270.1" y2="324.4" stroke="#000" stroke-width="1.1" />
<line x1="186.1" y1="276.4" x2="305.6" y2="276.4" stroke="#e94a35" stroke-width="1.0" />
<polyline points="186.6,312.6 186.6,335.8 210,335.8" fill="none" stroke="#9a9a9a" stroke-width="1.0" stroke-linejoin="round" />
<polyline points="373.9,264.7 374.5,265.68 375.2,265.34 375.9,266.31 376.6,266.21 377.3,267.2 378,266.72 378.7,267.69 379.4,267.78 380.1,268.16 380.8,268.48 381.5,268.07 382.2,268.33 382.9,268.78 383.6,268.59 384.3,268.71 385,268.81 385.7,269.43 386.4,269.55 387.1,269.58 387.8,269.21 388.5,269.85 389.2,269.6 389.9,269.44 390.6,269.68 391.3,269.71 392,269.49 392.7,269.93 393.4,269.81 394.1,270.02 394.8,270.34 395.5,270.15 396.2,269.99 396.9,270.38 397.6,270.51 398.3,270.13 399,270.52 399.7,269.8 400.4,269.91 401.1,269.95 401.8,270.58 402.5,270.4 403.2,270.43 403.9,270.1 404.6,270.28 405.3,270.6 406,269.98 406.7,270 407.4,269.95 408.1,270.3 408.8,270.6 409.5,270.38 410.2,270.26 410.9,270.35 411.6,270.09 412.3,270.71 413,270.24 413.7,270.15 414.4,270.21 415.1,270.63 415.8,270.23 416.5,270.7 417.2,270.24 417.9,270.33 418.6,270.04 419.3,270.71 420,270.62 420.7,270.36 421.4,270.08 422.1,270.38 422.8,270.29 423.5,270.66 424.2,270.73 424.9,270.58 425.6,270.22 426.3,270.03 427,270.71 427.7,270.75 428.4,270.12 429.1,270.39 429.8,270.38 430.5,270.78 431.2,270.03 431.9,270.05 431.9,270.4" fill="none" stroke="#000" stroke-width="0.9" stroke-linejoin="round" />
<polyline points="373.9,265.3 374.5,266.17 375.2,266.37 375.9,266.67 376.6,267.27 377.3,267.45 378,267.82 378.7,267.74 379.4,267.86 380.1,268.02 380.8,268.49 381.5,268.93 382.2,268.89 382.9,269.03 383.6,269.39 384.3,269.59 385,269.63 385.7,269.52 386.4,270.03 387.1,270.1 387.8,270.27 388.5,270.34 389.2,269.72 389.9,270.31 390.6,270.11 391.3,270.2 392,270.35 392.7,270.1 393.4,270.23 394.1,270.86 394.8,270.37 395.5,270.87 396.2,270.72 396.9,270.45 397.6,270.48 398.3,270.73 399,270.83 399.7,270.56 400.4,270.35 401.1,270.46 401.8,271.02 402.5,270.93 403.2,270.45 403.9,271.04 404.6,270.84 405.3,270.66 406,271.12 406.7,270.51 407.4,270.5 408.1,270.7 408.8,271.02 409.5,270.88 410.2,270.83 410.9,271.17 411.6,270.77 412.3,271.09 413,270.46 413.7,271.09 414.4,270.59 415.1,270.99 415.8,271.14 416.5,271 417.2,270.94 417.9,270.92 418.6,271.08 419.3,270.78 420,270.67 420.7,270.93 421.4,270.9 422.1,270.58 422.8,270.91 423.5,270.86 424.2,270.62 424.9,271.06 425.6,271.11 426.3,270.76 427,271.19 427.7,271.28 428.4,271.02 429.1,270.82 429.8,270.71 430.5,270.6 431.2,270.71 431.9,271.3 431.9,270.9" fill="none" stroke="#000" stroke-width="0.9" stroke-linejoin="round" />
<polyline points="373.9,266 374.5,266.21 375.2,267.29 375.9,267.48 376.6,267.88 377.3,267.64 378,268.36 378.7,268.26 379.4,268.87 380.1,269.18 380.8,269.32 381.5,269.35 382.2,269.8 382.9,269.43 383.6,269.51 384.3,270.2 385,269.67 385.7,270.07 386.4,270.17 387.1,270.62 387.8,270.3 388.5,270.53 389.2,270.55 389.9,270.59 390.6,270.65 391.3,270.69 392,270.85 392.7,270.76 393.4,270.79 394.1,271.23 394.8,271.31 395.5,270.75 396.2,271.34 396.9,270.63 397.6,270.9 398.3,271.38 399,270.81 399.7,271.23 400.4,271.51 401.1,271.22 401.8,271.11 402.5,270.78 403.2,271.13 403.9,271.15 404.6,271.42 405.3,271.11 406,271.45 406.7,271.14 407.4,271.33 408.1,271.44 408.8,270.97 409.5,271.6 410.2,271.21 410.9,271.23 411.6,271.63 412.3,271.31 413,271.28 413.7,271.04 414.4,271.04 415.1,271.48 415.8,271.28 416.5,271.4 417.2,271.43 417.9,271.43 418.6,271.14 419.3,271.57 420,271.24 420.7,271.03 421.4,271.58 422.1,271.61 422.8,270.99 423.5,271.6 424.2,271.44 424.9,271.11 425.6,271.35 426.3,271.63 427,271.01 427.7,271.42 428.4,271.09 429.1,271.01 429.8,271.66 430.5,271.69 431.2,271.42 431.9,271.53 431.9,271.3" fill="none" stroke="#000" stroke-width="0.9" stroke-linejoin="round" />
<polyline points="373.9,266.6 374.5,267.07 375.2,267.49 375.9,267.99 376.6,268.48 377.3,268.69 378,268.78 378.7,269.15 379.4,269.2 380.1,269.74 380.8,269.98 381.5,270.08 382.2,269.88 382.9,270.08 383.6,270.69 384.3,270.34 385,270.68 385.7,270.33 386.4,270.46 387.1,270.62 387.8,271.06 388.5,270.77 389.2,271.19 389.9,270.78 390.6,271.33 391.3,271.39 392,271.08 392.7,271.11 393.4,271.16 394.1,271.39 394.8,271.18 395.5,271.25 396.2,271.74 396.9,271.87 397.6,271.27 398.3,271.58 399,271.71 399.7,271.96 400.4,271.67 401.1,271.66 401.8,271.86 402.5,271.89 403.2,271.84 403.9,271.78 404.6,271.94 405.3,271.33 406,271.92 406.7,271.49 407.4,271.61 408.1,271.65 408.8,271.75 409.5,271.81 410.2,271.82 410.9,271.6 411.6,271.64 412.3,271.88 413,272.11 413.7,271.67 414.4,271.37 415.1,272.05 415.8,272.08 416.5,272.05 417.2,271.89 417.9,271.71 418.6,271.43 419.3,272.12 420,271.73 420.7,271.48 421.4,271.89 422.1,271.42 422.8,271.7 423.5,271.87 424.2,272.03 424.9,271.68 425.6,271.55 426.3,271.67 427,272.05 427.7,271.47 428.4,271.51 429.1,271.67 429.8,272.16 430.5,272.1 431.2,272.17 431.9,271.44 431.9,271.8" fill="none" stroke="#000" stroke-width="0.9" stroke-linejoin="round" />
<polyline points="373.9,267.3 374.5,267.83 375.2,267.92 375.9,268.62 376.6,269.1 377.3,269.14 378,269.57 378.7,269.8 379.4,269.88 380.1,269.99 380.8,270.06 381.5,270.61 382.2,270.98 382.9,271.11 383.6,271.21 384.3,271.27 385,271.22 385.7,271.19 386.4,270.99 387.1,271.61 387.8,271.2 388.5,271.87 389.2,271.87 389.9,271.47 390.6,272.03 391.3,271.96 392,272.05 392.7,271.53 393.4,271.7 394.1,271.64 394.8,272.3 395.5,271.77 396.2,271.96 396.9,272.23 397.6,271.97 398.3,272.18 399,272.19 399.7,272.01 400.4,272.47 401.1,272.27 401.8,272.34 402.5,272.35 403.2,272.27 403.9,271.92 404.6,272.53 405.3,272.56 406,271.89 406.7,272.11 407.4,271.98 408.1,271.94 408.8,272.3 409.5,272.19 410.2,271.96 410.9,272.24 411.6,272.41 412.3,271.97 413,272.38 413.7,272.39 414.4,272.54 415.1,272.67 415.8,272.58 416.5,272.18 417.2,271.94 417.9,272.15 418.6,272.02 419.3,272.57 420,272.18 420.7,272.33 421.4,272.47 422.1,272.26 422.8,272.69 423.5,272.42 424.2,272.37 424.9,272.02 425.6,272.08 426.3,272.44 427,272.25 427.7,272.36 428.4,272.6 429.1,272.44 429.8,272.57 430.5,272.19 431.2,271.95 431.9,272.12 431.9,272.3" fill="none" stroke="#000" stroke-width="0.9" stroke-linejoin="round" />
<polyline points="373.9,268 374.5,268.9 375.2,268.77 375.9,269.04 376.6,269.33 377.3,270.37 378,270.01 378.7,270.14 379.4,270.59 380.1,270.54 380.8,271.27 381.5,271.4 382.2,271.33 382.9,271.71 383.6,271.26 384.3,272 385,271.97 385.7,272.15 386.4,271.74 387.1,272.46 387.8,272.56 388.5,272.21 389.2,272.14 389.9,272.35 390.6,272.54 391.3,272.39 392,272.49 392.7,272.85 393.4,272.68 394.1,272.45 394.8,272.9 395.5,272.82 396.2,272.23 396.9,272.62 397.6,272.49 398.3,272.5 399,272.57 399.7,272.95 400.4,272.78 401.1,272.5 401.8,272.37 402.5,272.44 403.2,272.63 403.9,272.77 404.6,272.74 405.3,272.69 406,272.78 406.7,272.61 407.4,273.12 408.1,272.54 408.8,272.66 409.5,272.9 410.2,273.04 410.9,272.7 411.6,272.89 412.3,272.58 413,272.39 413.7,273.16 414.4,272.44 415.1,273 415.8,272.41 416.5,272.63 417.2,272.8 417.9,273.11 418.6,273.04 419.3,272.63 420,272.4 420.7,273 421.4,272.99 422.1,273.14 422.8,272.5 423.5,272.93 424.2,272.89 424.9,273.1 425.6,273.08 426.3,273.01 427,273.08 427.7,272.46 428.4,273.19 429.1,272.88 429.8,273.11 430.5,272.52 431.2,272.81 431.9,273.11 431.9,272.8" fill="none" stroke="#000" stroke-width="0.9" stroke-linejoin="round" />
<polyline points="373.9,268.6 374.5,269.53 375.2,269.63 375.9,270.2 376.6,269.82 377.3,270.17 378,270.55 378.7,271.28 379.4,271.36 380.1,271.32 380.8,271.89 381.5,271.72 382.2,271.57 382.9,272.34 383.6,272.29 384.3,272.6 385,272.52 385.7,272.39 386.4,272.78 387.1,272.24 387.8,272.2 388.5,272.46 389.2,273.07 389.9,272.42 390.6,273 391.3,272.86 392,272.57 392.7,272.67 393.4,273.1 394.1,272.87 394.8,273.28 395.5,272.64 396.2,273.08 396.9,273.32 397.6,272.84 398.3,272.89 399,273.14 399.7,272.83 400.4,273.22 401.1,273.45 401.8,272.97 402.5,272.86 403.2,273.44 403.9,272.78 404.6,273.43 405.3,273.09 406,273.39 406.7,273.06 407.4,273.53 408.1,273.29 408.8,273.25 409.5,272.83 410.2,273.24 410.9,272.97 411.6,273.35 412.3,273.04 413,272.97 413.7,272.9 414.4,272.99 415.1,272.89 415.8,273.01 416.5,273.22 417.2,273.48 417.9,273.41 418.6,273.08 419.3,273.53 420,273.07 420.7,273.14 421.4,273.23 422.1,273.27 422.8,273.19 423.5,273.33 424.2,272.95 424.9,272.97 425.6,273.07 426.3,273.15 427,273 427.7,273.25 428.4,272.86 429.1,273.14 429.8,273.17 430.5,273.28 431.2,272.91 431.9,273.32 431.9,273.2" fill="none" stroke="#000" stroke-width="0.9" stroke-linejoin="round" />
<polyline points="373.9,270 374.5,270.55 375.2,271.32 375.9,271.05 376.6,271.57 377.3,272.16 378,272.53 378.7,272.65 379.4,272.91 380.1,272.73 380.8,272.72 381.5,272.88 382.2,273.31 382.9,273.44 383.6,273.35 384.3,273.25 385,273.87 385.7,273.5 386.4,273.49 387.1,274.02 387.8,274.03 388.5,273.99 389.2,274.12 389.9,274.02 390.6,274.05 391.3,273.89 392,273.74 392.7,274.37 393.4,273.73 394.1,274.28 394.8,273.93 395.5,274.29 396.2,274.42 396.9,274.34 397.6,273.74 398.3,274.43 399,273.92 399.7,273.96 400.4,274.54 401.1,274.43 401.8,273.89 402.5,274.45 403.2,273.98 403.9,274.27 404.6,274.43 405.3,273.84 406,273.93 406.7,273.88 407.4,273.9 408.1,274.51 408.8,273.81 409.5,274.04 410.2,274.47 410.9,273.81 411.6,274.16 412.3,274.46 413,274.53 413.7,274.45 414.4,273.84 415.1,273.83 415.8,274.39 416.5,274.16 417.2,274.19 417.9,274.34 418.6,274.44 419.3,274.02 420,274.57 420.7,274.04 421.4,274.5 422.1,273.86 422.8,273.83 423.5,274.28 424.2,274.4 424.9,274.31 425.6,273.85 426.3,274.54 427,274.54 427.7,274.52 428.4,274.36 429.1,273.8 429.8,274.15 430.5,273.95 431.2,273.98 431.9,274.18 431.9,274.2" fill="none" stroke="#000" stroke-width="0.9" stroke-linejoin="round" />
<polyline points="373.9,272 374.5,272.89 375.2,273.13 375.9,273.75 376.6,273.55 377.3,273.61 378,274.41 378.7,274.67 379.4,274.54 380.1,274.48 380.8,274.94 381.5,274.74 382.2,274.96 382.9,275.2 383.6,275.38 384.3,275.46 385,275 385.7,275.29 386.4,275.42 387.1,275.3 387.8,275.14 388.5,275.32 389.2,275.49 389.9,275.66 390.6,275.96 391.3,275.36 392,275.66 392.7,275.39 393.4,275.33 394.1,275.46 394.8,275.59 395.5,275.93 396.2,275.51 396.9,276.02 397.6,275.9 398.3,275.59 399,275.98 399.7,275.5 400.4,275.3 401.1,275.65 401.8,275.78 402.5,275.84 403.2,275.3 403.9,275.3 404.6,275.84 405.3,276.03 406,275.69 406.7,275.91 407.4,275.44 408.1,275.41 408.8,275.67 409.5,276.07 410.2,275.39 410.9,275.72 411.6,275.85 412.3,275.32 413,275.94 413.7,275.45 414.4,275.96 415.1,275.78 415.8,275.34 416.5,275.47 417.2,275.64 417.9,275.34 418.6,275.89 419.3,275.64 420,275.4 420.7,275.47 421.4,275.85 422.1,275.65 422.8,275.72 423.5,275.46 424.2,275.52 424.9,275.49 425.6,275.66 426.3,275.41 427,275.32 427.7,276.06 428.4,276.08 429.1,275.33 429.8,276.01 430.5,275.54 431.2,275.73 431.9,275.71 431.9,275.7" fill="none" stroke="#000" stroke-width="0.9" stroke-linejoin="round" />
<polyline points="373.9,275 374.5,275.27 375.2,275.86 375.9,276.25 376.6,276.62 377.3,276.85 378,276.89 378.7,277.18 379.4,276.99 380.1,277.57 380.8,277.58 381.5,277.33 382.2,277.62 382.9,277.71 383.6,277.75 384.3,277.58 385,277.82 385.7,277.9 386.4,278.27 387.1,278.19 387.8,278.13 388.5,277.81 389.2,277.95 389.9,277.81 390.6,278.03 391.3,278.2 392,278.2 392.7,278.33 393.4,278.19 394.1,278.21 394.8,277.95 395.5,277.77 396.2,277.89 396.9,278.01 397.6,277.98 398.3,277.99 399,277.6 399.7,278.38 400.4,277.9 401.1,277.86 401.8,278.27 402.5,277.91 403.2,278.22 403.9,277.68 404.6,278.02 405.3,277.64 406,278 406.7,278.23 407.4,277.81 408.1,278.12 408.8,278.19 409.5,277.93 410.2,277.74 410.9,278.17 411.6,278.3 412.3,278.35 413,278.39 413.7,278.3 414.4,277.89 415.1,278.2 415.8,278.23 416.5,277.96 417.2,278.32 417.9,277.7 418.6,278.2 419.3,278.16 420,277.78 420.7,277.7 421.4,278.14 422.1,277.67 422.8,277.85 423.5,278.33 424.2,278.19 424.9,277.91 425.6,277.96 426.3,277.82 427,278.19 427.7,278.05 428.4,278.1 429.1,277.79 429.8,278.34 430.5,277.81 431.2,278.16 431.9,278.39 431.9,278" fill="none" stroke="#000" stroke-width="0.9" stroke-linejoin="round" />
<polyline points="373.9,281 374.5,281.9 375.2,281.59 375.9,282.27 376.6,282.63 377.3,282.59 378,282.58 378.7,282.66 379.4,282.85 380.1,283.16 380.8,283.12 381.5,283.41 382.2,282.99 382.9,283.33 383.6,283.6 384.3,283.11 385,283.16 385.7,283.13 386.4,282.93 387.1,283.03 387.8,283.51 388.5,283.14 389.2,283.09 389.9,283.55 390.6,282.9 391.3,283.15 392,283.04 392.7,283.19 393.4,283.01 394.1,283.46 394.8,283.12 395.5,283.44 396.2,283.01 396.9,283.58 397.6,282.99 398.3,283.53 399,283.02 399.7,283.25 400.4,283.38 401.1,282.97 401.8,283.33 402.5,283.41 403.2,283.24 403.9,283.49 404.6,283.33 405.3,282.93 406,283.51 406.7,283.68 407.4,283.02 408.1,283.03 408.8,283.37 409.5,283.41 410.2,283.26 410.9,283.04 411.6,283.29 412.3,283.18 413,283.32 413.7,283.64 414.4,283.25 415.1,283.7 415.8,283.64 416.5,283.07 417.2,283.3 417.9,283 418.6,283.02 419.3,283.35 420,282.94 420.7,283.51 421.4,283.47 422.1,283.68 422.8,283.5 423.5,283.57 424.2,283.16 424.9,283.69 425.6,283.08 426.3,283.63 427,283.64 427.7,283.5 428.4,283.54 429.1,283.06 429.8,283.55 430.5,283.07 431.2,283.08 431.9,282.97 431.9,283.3" fill="none" stroke="#000" stroke-width="0.9" stroke-linejoin="round" />
<polyline points="373.9,288 374.5,288.84 375.2,289.15 375.9,289.18 376.6,289.09 377.3,289.34 378,290.02 378.7,290 379.4,289.79 380.1,290.37 380.8,290.14 381.5,289.77 382.2,290.56 382.9,290.07 383.6,290.18 384.3,290.55 385,290.59 385.7,290.07 386.4,290.58 387.1,290.08 387.8,289.9 388.5,289.94 389.2,290.02 389.9,290.35 390.6,290.11 391.3,290.57 392,290.2 392.7,289.95 393.4,290.29 394.1,289.97 394.8,289.9 395.5,290.64 396.2,289.98 396.9,289.99 397.6,290.11 398.3,290 399,290.25 399.7,290.43 400.4,290.21 401.1,290.34 401.8,289.94 402.5,290.03 403.2,290.11 403.9,290.4 404.6,290.49 405.3,290.67 406,290.28 406.7,290.05 407.4,290.18 408.1,290.2 408.8,290.63 409.5,290.44 410.2,290.29 410.9,290.29 411.6,290.49 412.3,290.47 413,290.63 413.7,290.3 414.4,290.5 415.1,290.67 415.8,290.62 416.5,290.03 417.2,290.68 417.9,290.34 418.6,290.62 419.3,290.62 420,290.58 420.7,290.54 421.4,290.49 422.1,290.7 422.8,290.37 423.5,290.11 424.2,290.36 424.9,290.38 425.6,290.58 426.3,290.39 427,290.24 427.7,290.5 428.4,290.28 429.1,290.09 429.8,290.67 430.5,290.43 431.2,290.38 431.9,290.53 431.9,290.3" fill="none" stroke="#000" stroke-width="0.9" stroke-linejoin="round" />
<polyline points="373.9,299 374.5,299.74 375.2,300.08 375.9,300.09 376.6,300.81 377.3,300.73 378,301.16 378.7,301.53 379.4,301.47 380.1,301.58 380.8,301.13 381.5,301.63 382.2,301.87 382.9,301.6 383.6,301.75 384.3,301.46 385,301.8 385.7,301.46 386.4,301.68 387.1,301.88 387.8,301.7 388.5,301.78 389.2,301.43 389.9,301.74 390.6,301.8 391.3,301.84 392,301.45 392.7,301.72 393.4,301.71 394.1,301.74 394.8,301.44 395.5,301.98 396.2,301.78 396.9,301.54 397.6,302.09 398.3,301.79 399,301.56 399.7,301.63 400.4,301.58 401.1,301.49 401.8,301.42 402.5,301.37 403.2,301.36 403.9,301.85 404.6,301.59 405.3,301.6 406,301.61 406.7,302.07 407.4,302.04 408.1,301.51 408.8,301.85 409.5,302.07 410.2,301.98 410.9,301.69 411.6,301.95 412.3,301.47 413,301.88 413.7,301.51 414.4,301.88 415.1,301.55 415.8,302.02 416.5,301.4 417.2,301.56 417.9,301.46 418.6,301.69 419.3,301.35 420,301.43 420.7,301.5 421.4,301.33 422.1,301.86 422.8,301.98 423.5,302.07 424.2,301.66 424.9,301.59 425.6,301.77 426.3,301.58 427,301.31 427.7,301.61 428.4,301.93 429.1,301.5 429.8,301.52 430.5,301.58 431.2,301.95 431.9,301.58 431.9,301.7" fill="none" stroke="#000" stroke-width="0.9" stroke-linejoin="round" />
<polyline points="373.9,315.9 374.5,317 375.2,317.68 375.9,318.2 376.6,319.23 377.3,319.66 378,319.84 378.7,319.87 379.4,319.85 380.1,320.25 380.8,320.31 381.5,320.16 382.2,320.57 382.9,320.78 383.6,320.66 384.3,320.43 385,320.96 385.7,320.93 386.4,320.75 387.1,320.49 387.8,320.43 388.5,320.98 389.2,320.5 389.9,320.35 390.6,320.51 391.3,320.96 392,320.94 392.7,321.02 393.4,321.01 394.1,320.87 394.8,320.78 395.5,320.94 396.2,320.75 396.9,321.08 397.6,320.54 398.3,320.33 399,320.9 399.7,320.72 400.4,321.02 401.1,320.67 401.8,320.77 402.5,320.42 403.2,320.64 403.9,320.44 404.6,320.31 405.3,320.38 406,320.86 406.7,321.01 407.4,320.35 408.1,320.95 408.8,320.73 409.5,320.67 410.2,320.33 410.9,321.09 411.6,320.82 412.3,320.42 413,320.7 413.7,320.57 414.4,320.58 415.1,320.36 415.8,321.07 416.5,320.66 417.2,320.4 417.9,320.47 418.6,320.58 419.3,321.1 420,320.76 420.7,320.62 421.4,320.99 422.1,320.31 422.8,320.84 423.5,320.34 424.2,320.75 424.9,320.82 425.6,320.87 426.3,320.8 427,320.64 427.7,321.09 428.4,320.95 429.1,320.35 429.8,320.31 430.5,320.4 431.2,320.62 431.9,320.42 431.9,320.7" fill="none" stroke="#000" stroke-width="0.9" stroke-linejoin="round" />
<line x1="358.8" y1="274.2" x2="373.6" y2="274.2" stroke="#000" stroke-width="1.9599999999999997" />
<polyline points="358.8,275.78 359.1,275.75 359.4,272.66 359.7,272.76 360,275.36 360.3,275.02 360.6,274.79 360.9,273.53 361.2,274.57 361.5,274.57 361.8,274.48 362.1,273.01 362.4,273.96 362.7,273.83 363,274.97 363.3,275.92 363.6,275.76 363.9,274.35 364.2,274.01 364.5,273.4 364.8,272.59 365.1,272.56 365.4,274.08 365.7,273.57 366,273.78 366.3,275.56 366.6,274.29 366.9,274.41 367.2,273.28 367.5,272.55 367.8,273.59 368.1,272.94 368.4,274.24 368.7,275.93 369,274.81 369.3,273.1 369.6,275.57 369.9,275.23 370.2,275.01 370.5,275.61 370.8,275.11 371.1,275.21 371.4,273.69 371.7,275.87 372,275.8 372.3,273.02 372.6,275.08 372.9,274.95 373.2,274.07 373.5,274.31 373.6,274.17" fill="none" stroke="#000" stroke-width="0.75" stroke-linejoin="round" />
<line x1="431.9" y1="274.5" x2="460.3" y2="274.5" stroke="#000" stroke-width="1.9599999999999997" />
<polyline points="431.9,273.59 432.2,274.65 432.5,274.05 432.8,274.86 433.1,274.94 433.4,272.99 433.7,272.81 434,275.67 434.3,273.66 434.6,273.58 434.9,276.22 435.2,274.4 435.5,275.67 435.8,274.42 436.1,274.98 436.4,273.29 436.7,274.97 437,275.78 437.3,274.58 437.6,275.34 437.9,275.1 438.2,272.99 438.5,275.4 438.8,274.82 439.1,273.81 439.4,272.87 439.7,275.77 440,274.41 440.3,275.26 440.6,275.82 440.9,275.24 441.2,275.96 441.5,274.14 441.8,275.54 442.1,274.31 442.4,276.01 442.7,275.82 443,273.1 443.3,273.24 443.6,273.52 443.9,276.12 444.2,274.28 444.5,274.94 444.8,273.81 445.1,274.53 445.4,274.1 445.7,273.98 446,274.8 446.3,274.79 446.6,275.9 446.9,275.13 447.2,275.99 447.5,275.74 447.8,276.2 448.1,275.09 448.4,273.33 448.7,275.75 449,276.11 449.3,275.91 449.6,274.74 449.9,275.24 450.2,273.5 450.5,275.65 450.8,274.76 451.1,273.75 451.4,272.98 451.7,275.73 452,276.2 452.3,273.07 452.6,275.54 452.9,274.19 453.2,273.29 453.5,273.78 453.8,275.43 454.1,275.79 454.4,272.92 454.7,274.9 455,272.92 455.3,275.26 455.6,273.91 455.9,275.82 456.2,276.17 456.5,274.52 456.8,276.23 457.1,273.84 457.4,273.03 457.7,274.85 458,272.87 458.3,273.45 458.6,274.18 458.9,274.88 459.2,273.31 459.5,272.91 459.8,275.78 460.1,273.85 460.3,276.09" fill="none" stroke="#000" stroke-width="0.75" stroke-linejoin="round" />
<line x1="460.3" y1="270.4" x2="475.5" y2="270.4" stroke="#000" stroke-width="1.9599999999999997" />
<polyline points="460.3,269.48 460.6,269.02 460.9,270.04 461.2,269.2 461.5,268.89 461.8,270.06 462.1,271.85 462.4,271.44 462.7,271.32 463,269.43 463.3,270.53 463.6,269.62 463.9,269.26 464.2,269.03 464.5,269.41 464.8,271.88 465.1,271.54 465.4,271.46 465.7,271.44 466,269.34 466.3,269.74 466.6,270.84 466.9,271.21 467.2,271.63 467.5,271.72 467.8,268.97 468.1,270.77 468.4,271 468.7,270.42 469,269.28 469.3,270.31 469.6,268.97 469.9,271.91 470.2,271.67 470.5,270.57 470.8,269.71 471.1,271.82 471.4,270.65 471.7,271.73 472,271.61 472.3,270.43 472.6,270.1 472.9,270.74 473.2,270.16 473.5,269.22 473.8,269.72 474.1,271.49 474.4,268.81 474.7,268.82 475,270.84 475.3,269.64 475.5,270.52" fill="none" stroke="#000" stroke-width="0.75" stroke-linejoin="round" />
<line x1="460.3" y1="266.6" x2="460.3" y2="286.5" stroke="#000" stroke-width="1.0" />
<line x1="373.6" y1="250.4" x2="373.6" y2="317.8" stroke="#000" stroke-width="1.2" />
<line x1="431.9" y1="266.2" x2="431.9" y2="321.2" stroke="#000" stroke-width="1.1" />
<line x1="356" y1="276.1" x2="476.5" y2="276.1" stroke="#e94a35" stroke-width="1.0" />
<polyline points="359.2,315.9 359.2,335.3 387.6,335.3" fill="none" stroke="#9a9a9a" stroke-width="1.0" stroke-linejoin="round" />
<polyline points="549,260.4 549.6,260.77 550.3,261.21 551,261.48 551.7,261.82 552.4,262.08 553.1,262.55 553.8,262.49 554.5,263.04 555.2,262.77 555.9,263.22 556.6,263.45 557.3,263.49 558,264.15 558.7,263.98 559.4,264.53 560.1,264.81 560.8,264.39 561.5,265.04 562.2,265.1 562.9,265.11 563.6,264.72 564.3,265.17 565,265.4 565.7,265.24 566.4,265.27 567.1,265.42 567.8,265.46 568.5,265.96 569.2,265.68 569.9,265.81 570.6,266.05 571.3,266.35 572,265.89 572.7,265.74 573.4,266.54 574.1,266.47 574.8,266.48 575.5,266.31 576.2,266.12 576.9,266.09 577.6,266.25 578.3,266.41 579,266.12 579.7,266.66 580.4,266.71 581.1,266.17 581.8,266.86 582.5,266.6 583.2,266.96 583.9,266.63 584.6,266.91 585.3,266.65 586,266.8 586.7,266.72 587.4,266.36 588.1,266.47 588.8,266.55 589.5,266.7 590.2,266.69 590.9,266.84 591.6,266.94 592.3,266.75 593,266.69 593.7,266.85 594.4,267.22 595.1,267.09 595.8,266.99 596.5,267.13 597.2,266.67 597.9,266.57 598.6,266.57 599.3,266.6 600,266.52 600.7,267.01 601.4,267.25 602.1,266.61 602.8,267.08 603.5,267.28 604.2,267.15 604.9,266.66 605.6,267.05 606.3,266.75 607,266.69 607.7,266.56 608.4,266.97 609.1,267.29 609.8,266.64 610.5,266.68 611.2,266.87 611.9,266.6 612.6,266.94 613.3,267.15 614,266.94 614.7,266.6 615.4,266.6 616.1,266.73 616.8,267.11 617.5,267.32 618.2,266.98 618.9,266.66 619.6,266.75 619.9,267" fill="none" stroke="#000" stroke-width="0.9" stroke-linejoin="round" />
<polyline points="549,261 549.6,261.41 550.3,261.51 551,261.84 551.7,262.41 552.4,263.02 553.1,262.82 553.8,263.59 554.5,263.83 555.2,263.71 555.9,263.76 556.6,263.93 557.3,264.51 558,264.82 558.7,265.02 559.4,264.66 560.1,264.99 560.8,264.81 561.5,265.17 562.2,265.29 562.9,265.28 563.6,265.35 564.3,266.2 565,265.75 565.7,266 566.4,266.12 567.1,266.15 567.8,266.33 568.5,266.33 569.2,266.4 569.9,266.14 570.6,266.64 571.3,266.73 572,266.83 572.7,266.56 573.4,266.73 574.1,267.05 574.8,267.03 575.5,266.53 576.2,266.8 576.9,266.71 577.6,267.17 578.3,266.96 579,266.98 579.7,266.88 580.4,267.09 581.1,267.33 581.8,267.29 582.5,266.98 583.2,267.14 583.9,267.35 584.6,266.91 585.3,267.61 586,266.92 586.7,267.42 587.4,267.06 588.1,267.72 588.8,267.52 589.5,267.16 590.2,267.4 590.9,267.68 591.6,267.7 592.3,267.56 593,267.55 593.7,267.64 594.4,267.79 595.1,267.47 595.8,267.56 596.5,267.72 597.2,267.49 597.9,267.27 598.6,267.56 599.3,267.38 600,267.68 600.7,267.71 601.4,267.84 602.1,267.21 602.8,267.15 603.5,267.88 604.2,267.72 604.9,267.94 605.6,267.79 606.3,267.91 607,267.27 607.7,267.3 608.4,267.64 609.1,267.76 609.8,267.25 610.5,267.92 611.2,267.35 611.9,267.33 612.6,267.52 613.3,267.32 614,267.24 614.7,267.24 615.4,267.2 616.1,267.3 616.8,267.72 617.5,267.8 618.2,267.8 618.9,267.51 619.6,267.78 619.9,267.6" fill="none" stroke="#000" stroke-width="0.9" stroke-linejoin="round" />
<polyline points="549,261.7 549.6,261.87 550.3,262.82 551,262.78 551.7,262.86 552.4,263.36 553.1,263.48 553.8,264.18 554.5,264.13 555.2,264.07 555.9,264.43 556.6,264.55 557.3,265.44 558,265.19 558.7,265.66 559.4,265.67 560.1,265.68 560.8,266.08 561.5,266.07 562.2,265.79 562.9,266.67 563.6,266.27 564.3,266.62 565,266.54 565.7,267.07 566.4,266.52 567.1,266.52 567.8,266.59 568.5,266.95 569.2,267.38 569.9,267.13 570.6,267.58 571.3,267.01 572,267.73 572.7,267.14 573.4,267.76 574.1,267.26 574.8,267.62 575.5,267.68 576.2,268.01 576.9,267.6 577.6,267.98 578.3,267.38 579,268.09 579.7,267.82 580.4,267.86 581.1,268.23 581.8,267.73 582.5,268 583.2,268 583.9,267.79 584.6,267.69 585.3,267.93 586,267.83 586.7,268.11 587.4,267.96 588.1,267.72 588.8,268.22 589.5,268.42 590.2,268.19 590.9,267.94 591.6,267.96 592.3,268.49 593,268.09 593.7,268.32 594.4,267.81 595.1,268.41 595.8,268.48 596.5,267.99 597.2,268.03 597.9,268.31 598.6,268.56 599.3,268.43 600,267.83 600.7,267.91 601.4,268.53 602.1,268.14 602.8,268.59 603.5,268.19 604.2,268.5 604.9,268.01 605.6,268.61 606.3,268.23 607,267.85 607.7,268.01 608.4,267.92 609.1,268.19 609.8,268.63 610.5,268.64 611.2,268.61 611.9,268.19 612.6,268.48 613.3,268.46 614,268.54 614.7,268.65 615.4,268.54 616.1,268.49 616.8,268.13 617.5,268.01 618.2,268.21 618.9,268.11 619.6,268.48 619.9,268.3" fill="none" stroke="#000" stroke-width="0.9" stroke-linejoin="round" />
<polyline points="549,262.5 549.6,262.7 550.3,263.09 551,263.84 551.7,263.59 552.4,263.92 553.1,264.13 553.8,264.4 554.5,264.71 555.2,265.45 555.9,265.29 556.6,265.37 557.3,265.87 558,265.95 558.7,265.83 559.4,266.05 560.1,266.35 560.8,266.63 561.5,266.52 562.2,266.89 562.9,267.07 563.6,267.54 564.3,267.39 565,267.25 565.7,267.28 566.4,267.34 567.1,267.59 567.8,268.12 568.5,268.21 569.2,267.62 569.9,268.09 570.6,268.25 571.3,268.44 572,268.36 572.7,268.31 573.4,267.93 574.1,268.12 574.8,268.7 575.5,268.72 576.2,268.74 576.9,268.34 577.6,268.73 578.3,268.77 579,268.49 579.7,268.47 580.4,268.6 581.1,268.69 581.8,268.3 582.5,268.32 583.2,269.13 583.9,268.67 584.6,268.7 585.3,268.86 586,268.83 586.7,268.98 587.4,268.86 588.1,268.47 588.8,268.5 589.5,268.69 590.2,268.78 590.9,269.29 591.6,268.91 592.3,268.63 593,269.2 593.7,268.8 594.4,268.89 595.1,269.07 595.8,269.15 596.5,268.77 597.2,268.92 597.9,268.6 598.6,269.34 599.3,269.3 600,269.26 600.7,268.78 601.4,269.12 602.1,268.97 602.8,268.75 603.5,268.8 604.2,269.33 604.9,269.13 605.6,269.12 606.3,268.75 607,269.12 607.7,269.37 608.4,268.82 609.1,268.84 609.8,269.41 610.5,268.88 611.2,269.03 611.9,269.4 612.6,269.26 613.3,268.92 614,268.94 614.7,268.87 615.4,268.71 616.1,269.1 616.8,268.79 617.5,268.88 618.2,269.34 618.9,268.78 619.6,268.75 619.9,269.1" fill="none" stroke="#000" stroke-width="0.9" stroke-linejoin="round" />
<polyline points="549,263.3 549.6,263.46 550.3,264.3 551,264.34 551.7,264.69 552.4,265.2 553.1,265.66 553.8,266.12 554.5,265.65 555.2,266.12 555.9,266.08 556.6,266.56 557.3,267.01 558,266.94 558.7,267.18 559.4,267.25 560.1,267.94 560.8,267.95 561.5,268.15 562.2,268.06 562.9,268.4 563.6,268.31 564.3,267.98 565,268.11 565.7,268.85 566.4,268.62 567.1,268.85 567.8,268.78 568.5,269.12 569.2,268.64 569.9,268.67 570.6,268.77 571.3,269.24 572,269.18 572.7,269.18 573.4,268.96 574.1,269.18 574.8,269.12 575.5,269 576.2,269.72 576.9,269.63 577.6,269.66 578.3,269.35 579,269.75 579.7,269.75 580.4,269.32 581.1,269.92 581.8,269.82 582.5,269.24 583.2,269.3 583.9,269.3 584.6,269.78 585.3,269.39 586,269.4 586.7,269.32 587.4,269.65 588.1,269.56 588.8,269.78 589.5,269.48 590.2,269.91 590.9,269.86 591.6,269.68 592.3,270.15 593,269.86 593.7,269.82 594.4,269.59 595.1,269.64 595.8,269.98 596.5,269.69 597.2,269.51 597.9,269.76 598.6,269.82 599.3,269.55 600,269.63 600.7,270.18 601.4,270.09 602.1,269.8 602.8,270.06 603.5,269.97 604.2,269.61 604.9,269.9 605.6,269.52 606.3,269.95 607,269.9 607.7,269.55 608.4,269.88 609.1,269.67 609.8,270 610.5,270.27 611.2,270.12 611.9,269.53 612.6,269.96 613.3,269.92 614,270.22 614.7,269.71 615.4,269.56 616.1,269.78 616.8,269.76 617.5,270.16 618.2,270.2 618.9,269.97 619.6,270.1 619.9,269.9" fill="none" stroke="#000" stroke-width="0.9" stroke-linejoin="round" />
<polyline points="549,264 549.6,264.47 550.3,264.71 551,265.19 551.7,265.72 552.4,265.74 553.1,266.44 553.8,266.41 554.5,266.5 555.2,266.95 555.9,267.46 556.6,267.27 557.3,267.43 558,267.78 558.7,268.3 559.4,268.34 560.1,268.43 560.8,268.2 561.5,268.63 562.2,268.8 562.9,268.62 563.6,268.92 564.3,268.73 565,269.43 565.7,269.33 566.4,269.4 567.1,269.61 567.8,269.65 568.5,269.38 569.2,269.66 569.9,269.34 570.6,269.85 571.3,269.65 572,269.83 572.7,270.12 573.4,269.74 574.1,269.7 574.8,270.22 575.5,269.85 576.2,270.38 576.9,270.44 577.6,269.85 578.3,270.2 579,270.53 579.7,270.33 580.4,270.34 581.1,269.96 581.8,270.22 582.5,270.54 583.2,269.91 583.9,270.5 584.6,270.19 585.3,270.19 586,270.65 586.7,270.29 587.4,270.4 588.1,270.81 588.8,270.27 589.5,270.81 590.2,270.3 590.9,270.53 591.6,270.11 592.3,270.86 593,270.45 593.7,270.49 594.4,270.87 595.1,270.44 595.8,270.13 596.5,270.38 597.2,270.14 597.9,270.16 598.6,270.83 599.3,270.76 600,270.71 600.7,270.65 601.4,270.45 602.1,270.6 602.8,270.39 603.5,270.66 604.2,270.78 604.9,270.46 605.6,270.38 606.3,270.43 607,270.34 607.7,270.91 608.4,270.84 609.1,270.42 609.8,270.26 610.5,270.58 611.2,270.78 611.9,270.41 612.6,270.79 613.3,270.48 614,270.34 614.7,270.83 615.4,270.76 616.1,270.5 616.8,270.75 617.5,270.44 618.2,270.8 618.9,270.71 619.6,270.64 619.9,270.6" fill="none" stroke="#000" stroke-width="0.9" stroke-linejoin="round" />
<polyline points="549,265 549.6,265.4 550.3,266.05 551,266.11 551.7,267.04 552.4,267.03 553.1,267.48 553.8,267.2 554.5,267.51 555.2,267.93 555.9,268.04 556.6,268.4 557.3,268.78 558,269.09 558.7,268.74 559.4,269.34 560.1,269.05 560.8,269.7 561.5,269.91 562.2,269.9 562.9,269.73 563.6,269.84 564.3,270.24 565,270.43 565.7,269.92 566.4,270.12 567.1,270.68 567.8,270.67 568.5,270.29 569.2,270.3 569.9,270.27 570.6,270.51 571.3,271.01 572,270.83 572.7,270.56 573.4,270.58 574.1,270.58 574.8,270.84 575.5,270.67 576.2,270.68 576.9,271.06 577.6,270.77 578.3,270.68 579,270.72 579.7,271.34 580.4,271.26 581.1,270.76 581.8,271.53 582.5,271.47 583.2,270.8 583.9,271.52 584.6,270.82 585.3,271.01 586,270.95 586.7,271.3 587.4,271.39 588.1,271.05 588.8,271.36 589.5,271.52 590.2,270.95 590.9,271.04 591.6,271.54 592.3,270.92 593,271.16 593.7,271.15 594.4,271.41 595.1,270.95 595.8,270.94 596.5,271.43 597.2,271.53 597.9,271 598.6,271.45 599.3,271.13 600,271.61 600.7,271.49 601.4,271.47 602.1,271.16 602.8,271.34 603.5,271.76 604.2,271.38 604.9,271.51 605.6,271.59 606.3,271.21 607,271.23 607.7,271.76 608.4,271.55 609.1,271.13 609.8,271.41 610.5,271.24 611.2,271.53 611.9,271.53 612.6,271.67 613.3,271.44 614,271.1 614.7,271.41 615.4,271.08 616.1,271.36 616.8,271.33 617.5,271.28 618.2,271.19 618.9,271.13 619.6,271.21 619.9,271.4" fill="none" stroke="#000" stroke-width="0.9" stroke-linejoin="round" />
<polyline points="549,266.5 549.6,267.16 550.3,267.15 551,267.76 551.7,268.47 552.4,268.79 553.1,268.91 553.8,268.99 554.5,269.29 555.2,269.45 555.9,269.99 556.6,269.84 557.3,269.72 558,270.56 558.7,270.2 559.4,270.9 560.1,271.03 560.8,270.68 561.5,270.78 562.2,271.38 562.9,271.52 563.6,271.3 564.3,271.08 565,271.49 565.7,271.91 566.4,271.54 567.1,271.83 567.8,272.1 568.5,271.87 569.2,271.78 569.9,272.03 570.6,271.83 571.3,272.32 572,271.87 572.7,272.35 573.4,272.2 574.1,271.99 574.8,272.57 575.5,272.63 576.2,272.02 576.9,272.2 577.6,272.67 578.3,272.09 579,272.59 579.7,272.26 580.4,272.41 581.1,272.3 581.8,272.11 582.5,272.49 583.2,272.84 583.9,272.28 584.6,272.69 585.3,272.23 586,272.87 586.7,272.18 587.4,272.36 588.1,272.38 588.8,272.69 589.5,272.61 590.2,272.74 590.9,272.67 591.6,272.9 592.3,272.38 593,272.4 593.7,272.68 594.4,272.86 595.1,272.59 595.8,272.97 596.5,272.45 597.2,272.96 597.9,272.66 598.6,272.84 599.3,273.04 600,272.98 600.7,272.9 601.4,272.82 602.1,272.55 602.8,272.85 603.5,272.76 604.2,272.73 604.9,272.38 605.6,272.99 606.3,272.93 607,273.04 607.7,272.66 608.4,272.56 609.1,272.76 609.8,273.01 610.5,272.59 611.2,272.57 611.9,272.81 612.6,273.09 613.3,272.79 614,272.93 614.7,272.65 615.4,272.35 616.1,273 616.8,272.68 617.5,272.82 618.2,272.52 618.9,272.95 619.6,272.42 619.9,272.7" fill="none" stroke="#000" stroke-width="0.9" stroke-linejoin="round" />
<polyline points="549,268 549.6,268.61 550.3,269.31 551,269.55 551.7,269.35 552.4,270.31 553.1,270.69 553.8,270.95 554.5,270.64 555.2,270.69 555.9,271.34 556.6,271.63 557.3,271.4 558,271.85 558.7,271.67 559.4,271.85 560.1,272.64 560.8,272.53 561.5,272.38 562.2,272.72 562.9,272.48 563.6,272.74 564.3,273.1 565,272.87 565.7,272.77 566.4,273.52 567.1,272.9 567.8,273.37 568.5,273.27 569.2,273.42 569.9,273.62 570.6,273.28 571.3,273.47 572,273.41 572.7,273.53 573.4,273.72 574.1,273.58 574.8,273.9 575.5,273.83 576.2,273.87 576.9,273.65 577.6,273.59 578.3,273.83 579,273.9 579.7,273.8 580.4,274.22 581.1,273.59 581.8,273.87 582.5,274.24 583.2,273.69 583.9,274.07 584.6,274.06 585.3,274.23 586,273.81 586.7,273.76 587.4,274.11 588.1,274.12 588.8,274.02 589.5,273.95 590.2,273.61 590.9,273.93 591.6,273.83 592.3,274.15 593,274.34 593.7,273.96 594.4,274.22 595.1,273.87 595.8,273.9 596.5,274.1 597.2,273.72 597.9,273.95 598.6,273.62 599.3,273.86 600,274.28 600.7,274.37 601.4,273.78 602.1,274.04 602.8,274 603.5,273.61 604.2,273.71 604.9,274.12 605.6,273.69 606.3,274.29 607,274.32 607.7,273.81 608.4,273.61 609.1,273.65 609.8,273.66 610.5,274.31 611.2,274.1 611.9,274.38 612.6,274.11 613.3,274.22 614,273.95 614.7,274.12 615.4,274.35 616.1,273.72 616.8,273.66 617.5,273.62 618.2,273.9 618.9,273.83 619.6,273.84 619.9,274" fill="none" stroke="#000" stroke-width="0.9" stroke-linejoin="round" />
<polyline points="549,270 549.6,270.6 550.3,271.14 551,271.51 551.7,271.76 552.4,272.56 553.1,272.31 553.8,273.07 554.5,273.26 555.2,272.95 555.9,273.45 556.6,274.05 557.3,273.89 558,273.71 558.7,274.41 559.4,274.04 560.1,274.44 560.8,274.72 561.5,274.22 562.2,275.09 562.9,274.44 563.6,274.46 564.3,274.72 565,274.58 565.7,275.14 566.4,275.01 567.1,275.11 567.8,275.2 568.5,274.85 569.2,275.09 569.9,275.59 570.6,275.57 571.3,275.32 572,275.3 572.7,275.58 573.4,275.67 574.1,274.98 574.8,275.3 575.5,275.78 576.2,275.59 576.9,275.52 577.6,275.56 578.3,275.07 579,275.59 579.7,275.46 580.4,275.09 581.1,275.15 581.8,275.22 582.5,275.34 583.2,275.24 583.9,275.58 584.6,275.63 585.3,275.72 586,275.55 586.7,275.55 587.4,275.48 588.1,275.64 588.8,275.66 589.5,275.14 590.2,275.73 590.9,275.88 591.6,275.88 592.3,275.33 593,275.27 593.7,275.84 594.4,275.75 595.1,275.16 595.8,275.51 596.5,275.59 597.2,275.16 597.9,275.87 598.6,275.27 599.3,275.8 600,275.26 600.7,275.12 601.4,275.27 602.1,275.14 602.8,275.67 603.5,275.56 604.2,275.29 604.9,275.74 605.6,275.31 606.3,275.4 607,275.3 607.7,275.54 608.4,275.84 609.1,275.73 609.8,275.77 610.5,275.79 611.2,275.64 611.9,275.3 612.6,275.53 613.3,275.44 614,275.53 614.7,275.39 615.4,275.25 616.1,275.79 616.8,275.63 617.5,275.56 618.2,275.5 618.9,275.2 619.6,275.49 619.9,275.5" fill="none" stroke="#000" stroke-width="0.9" stroke-linejoin="round" />
<polyline points="549,273 549.6,273.36 550.3,274.15 551,274.51 551.7,274.99 552.4,275.41 553.1,275.3 553.8,275.5 554.5,275.73 555.2,276.02 555.9,276.49 556.6,276.22 557.3,276.56 558,276.35 558.7,277.08 559.4,277.19 560.1,277.26 560.8,277.28 561.5,276.74 562.2,277.06 562.9,276.97 563.6,277.07 564.3,277.26 565,277.54 565.7,277.51 566.4,276.98 567.1,277.42 567.8,277.64 568.5,277.38 569.2,277.12 569.9,277.53 570.6,277 571.3,277.11 572,276.97 572.7,277.24 573.4,277.33 574.1,277.54 574.8,277.17 575.5,277.03 576.2,277.42 576.9,277.06 577.6,277.58 578.3,277.44 579,277.31 579.7,277.42 580.4,277.04 581.1,277.46 581.8,277.41 582.5,277.77 583.2,277.77 583.9,277.72 584.6,277.03 585.3,277.18 586,277.79 586.7,277.73 587.4,277.77 588.1,277.54 588.8,277.13 589.5,277.29 590.2,277.3 590.9,277.65 591.6,277.15 592.3,277.47 593,277.46 593.7,277.76 594.4,277.63 595.1,277.61 595.8,277.61 596.5,277.37 597.2,277.3 597.9,277.41 598.6,277.17 599.3,277.75 600,277.02 600.7,277.44 601.4,277.75 602.1,277.76 602.8,277.19 603.5,277.23 604.2,277.19 604.9,277.8 605.6,277.64 606.3,277.31 607,277.78 607.7,277.45 608.4,277.23 609.1,277.52 609.8,277.48 610.5,277.7 611.2,277.23 611.9,277.78 612.6,277.61 613.3,277.19 614,277.21 614.7,277.08 615.4,277.7 616.1,277.34 616.8,277.7 617.5,277.49 618.2,277.03 618.9,277.1 619.6,277.54 619.9,277.4" fill="none" stroke="#000" stroke-width="0.9" stroke-linejoin="round" />
<polyline points="549,279 549.6,279.56 550.3,279.99 551,280.93 551.7,281.42 552.4,281.18 553.1,281.85 553.8,282.01 554.5,281.74 555.2,281.88 555.9,281.72 556.6,282.34 557.3,282.36 558,282.24 558.7,281.97 559.4,281.96 560.1,281.74 560.8,282.49 561.5,282.24 562.2,282.03 562.9,281.84 563.6,282.3 564.3,282.57 565,282.44 565.7,281.88 566.4,282.35 567.1,281.81 567.8,282.57 568.5,282.38 569.2,282.15 569.9,282.29 570.6,282.18 571.3,282.21 572,282.27 572.7,282.52 573.4,282.33 574.1,282.58 574.8,282.19 575.5,282.45 576.2,282.32 576.9,282.4 577.6,282.43 578.3,282.17 579,282.49 579.7,282.1 580.4,281.83 581.1,281.8 581.8,282.57 582.5,282.09 583.2,282.07 583.9,282.59 584.6,281.86 585.3,282.01 586,282.41 586.7,282.18 587.4,282.28 588.1,281.84 588.8,282.42 589.5,281.92 590.2,282.19 590.9,282.2 591.6,282.59 592.3,282.06 593,282 593.7,282.13 594.4,282.17 595.1,282.35 595.8,282.31 596.5,282.57 597.2,282.14 597.9,282.54 598.6,282.13 599.3,281.95 600,282.27 600.7,282.11 601.4,281.99 602.1,282.35 602.8,282.56 603.5,282.07 604.2,282.54 604.9,282.37 605.6,282.02 606.3,281.81 607,282.15 607.7,282.52 608.4,282.25 609.1,282.16 609.8,282.43 610.5,282.3 611.2,282.46 611.9,282.22 612.6,282.32 613.3,282.09 614,282.54 614.7,282.49 615.4,281.96 616.1,282.12 616.8,281.81 617.5,281.81 618.2,282.52 618.9,282.46 619.6,282.48 619.9,282.2" fill="none" stroke="#000" stroke-width="0.9" stroke-linejoin="round" />
<polyline points="549,287 549.6,287.58 550.3,287.99 551,288.14 551.7,288.81 552.4,288.83 553.1,289.21 553.8,289.31 554.5,289.48 555.2,289.52 555.9,289.36 556.6,289.53 557.3,289.4 558,289.85 558.7,289.47 559.4,289.49 560.1,290.1 560.8,290.11 561.5,290.12 562.2,289.71 562.9,289.79 563.6,289.88 564.3,289.94 565,290.02 565.7,289.93 566.4,289.54 567.1,290.05 567.8,289.71 568.5,289.63 569.2,289.64 569.9,289.42 570.6,290.03 571.3,289.91 572,290 572.7,289.92 573.4,289.47 574.1,289.46 574.8,289.98 575.5,290.16 576.2,289.91 576.9,289.97 577.6,290.18 578.3,289.6 579,289.49 579.7,289.45 580.4,289.42 581.1,289.48 581.8,289.57 582.5,290.11 583.2,290.1 583.9,289.83 584.6,289.45 585.3,289.76 586,290.13 586.7,290.2 587.4,289.43 588.1,289.46 588.8,289.65 589.5,289.81 590.2,289.42 590.9,290.01 591.6,289.68 592.3,289.73 593,289.56 593.7,290.05 594.4,289.69 595.1,289.6 595.8,289.68 596.5,290.11 597.2,290.12 597.9,289.83 598.6,290.05 599.3,290.03 600,289.65 600.7,290.05 601.4,289.99 602.1,289.77 602.8,289.67 603.5,289.83 604.2,289.86 604.9,289.9 605.6,289.57 606.3,290.09 607,289.49 607.7,289.49 608.4,290.19 609.1,289.42 609.8,289.87 610.5,289.81 611.2,289.91 611.9,290.04 612.6,289.97 613.3,290.09 614,289.46 614.7,289.65 615.4,289.93 616.1,289.8 616.8,289.47 617.5,289.97 618.2,290.03 618.9,289.41 619.6,289.44 619.9,289.8" fill="none" stroke="#000" stroke-width="0.9" stroke-linejoin="round" />
<polyline points="549,298.5 549.6,299.08 550.3,300.16 551,300.37 551.7,300.16 552.4,301.02 553.1,301.21 553.8,301.41 554.5,301.2 555.2,301.58 555.9,301.65 556.6,301.42 557.3,301.72 558,301.24 558.7,301.87 559.4,301.35 560.1,301.89 560.8,301.92 561.5,301.56 562.2,301.96 562.9,302 563.6,302 564.3,302.01 565,302 565.7,302.08 566.4,301.55 567.1,301.41 567.8,301.86 568.5,301.61 569.2,301.62 569.9,302 570.6,302.09 571.3,301.49 572,301.39 572.7,302.03 573.4,301.95 574.1,301.6 574.8,301.73 575.5,302.04 576.2,301.63 576.9,301.37 577.6,301.71 578.3,301.85 579,302.08 579.7,301.48 580.4,301.62 581.1,301.74 581.8,301.5 582.5,301.34 583.2,302 583.9,301.82 584.6,302.06 585.3,301.46 586,302.05 586.7,301.99 587.4,301.75 588.1,301.62 588.8,301.47 589.5,301.52 590.2,301.44 590.9,302.03 591.6,301.67 592.3,301.93 593,301.45 593.7,301.6 594.4,301.37 595.1,302.05 595.8,301.44 596.5,301.93 597.2,302.1 597.9,302.06 598.6,301.38 599.3,301.48 600,301.57 600.7,301.32 601.4,301.84 602.1,301.51 602.8,301.78 603.5,302 604.2,301.44 604.9,301.54 605.6,301.5 606.3,301.52 607,301.61 607.7,301.86 608.4,301.88 609.1,301.89 609.8,302.04 610.5,301.34 611.2,301.67 611.9,301.46 612.6,301.8 613.3,301.92 614,301.41 614.7,301.84 615.4,301.81 616.1,301.78 616.8,302 617.5,301.31 618.2,301.53 618.9,301.61 619.6,301.42 619.9,301.7" fill="none" stroke="#000" stroke-width="0.9" stroke-linejoin="round" />
<polyline points="549,313.5 549.6,315.11 550.3,316.21 551,316.3 551.7,317.38 552.4,317.86 553.1,318.28 553.8,318.5 554.5,318.24 555.2,318.18 555.9,318.84 556.6,319.08 557.3,318.99 558,318.79 558.7,318.87 559.4,319.07 560.1,318.71 560.8,319.5 561.5,319.24 562.2,319.45 562.9,319.49 563.6,319.38 564.3,319.14 565,319.43 565.7,319.44 566.4,319.25 567.1,319.08 567.8,319.5 568.5,318.86 569.2,319.22 569.9,319.19 570.6,319.38 571.3,319.27 572,319.48 572.7,319.19 573.4,318.92 574.1,319.54 574.8,319.31 575.5,319.56 576.2,319.06 576.9,318.81 577.6,319.17 578.3,319.27 579,319.47 579.7,319.18 580.4,318.86 581.1,319.48 581.8,319.48 582.5,318.85 583.2,319.57 583.9,319.29 584.6,318.88 585.3,319.57 586,318.92 586.7,319.47 587.4,319.28 588.1,319.55 588.8,319.28 589.5,319.52 590.2,319.49 590.9,319.31 591.6,319.53 592.3,319.28 593,319.12 593.7,319.37 594.4,318.81 595.1,319.31 595.8,319.11 596.5,319.01 597.2,318.98 597.9,319.34 598.6,319.28 599.3,319.09 600,318.83 600.7,318.84 601.4,319.52 602.1,319.01 602.8,319.39 603.5,319.26 604.2,319.21 604.9,318.9 605.6,319.26 606.3,318.82 607,319.11 607.7,319.35 608.4,319.18 609.1,318.96 609.8,318.87 610.5,319.47 611.2,319.51 611.9,319.05 612.6,319.29 613.3,318.95 614,319.18 614.7,318.95 615.4,318.9 616.1,318.88 616.8,319.17 617.5,319.02 618.2,319.51 618.9,318.97 619.6,319.24 619.9,319.2" fill="none" stroke="#000" stroke-width="0.9" stroke-linejoin="round" />
<line x1="530.3" y1="271.8" x2="548.7" y2="271.8" stroke="#000" stroke-width="2.52" />
<polyline points="530.3,273.84 530.6,273.8 530.9,269.82 531.2,269.95 531.5,273.3 531.8,272.85 532.1,272.56 532.4,270.94 532.7,272.27 533,272.28 533.3,272.16 533.6,270.28 533.9,271.49 534.2,271.32 534.5,272.8 534.8,274.01 535.1,273.81 535.4,272 535.7,271.55 536,270.77 536.3,269.73 536.6,269.69 536.9,271.64 537.2,270.99 537.5,271.26 537.8,273.55 538.1,271.91 538.4,272.07 538.7,270.62 539,269.67 539.3,271.02 539.6,270.18 539.9,271.85 540.2,274.03 540.5,272.58 540.8,270.38 541.1,273.56 541.4,273.12 541.7,272.85 542,273.62 542.3,272.97 542.6,273.09 542.9,271.15 543.2,273.95 543.5,273.86 543.8,270.29 544.1,272.93 544.4,272.76 544.7,271.63 545,271.94 545.3,271.76 545.6,273.7 545.9,271.8 546.2,273.28 546.5,271.15 546.8,273.51 547.1,273.58 547.4,271.63 547.7,272.1 548,273.68 548.3,272.8 548.6,271.74 548.7,270.56" fill="none" stroke="#000" stroke-width="0.75" stroke-linejoin="round" />
<line x1="619.9" y1="272.1" x2="637.9" y2="272.1" stroke="#000" stroke-width="2.52" />
<polyline points="619.9,270.93 620.2,272.3 620.5,271.52 620.8,272.56 621.1,272.66 621.4,270.16 621.7,269.93 622,273.61 622.3,271.03 622.6,270.91 622.9,274.31 623.2,271.97 623.5,273.6 623.8,271.99 624.1,272.72 624.4,270.54 624.7,272.7 625,273.74 625.3,272.2 625.6,273.18 625.9,272.87 626.2,270.15 626.5,273.25 626.8,272.51 627.1,271.21 627.4,270.01 627.7,273.73 628,271.98 628.3,273.08 628.6,273.79 628.9,273.06 629.2,273.98 629.5,271.63 629.8,273.44 630.1,271.85 630.4,274.04 630.7,273.79 631,270.3 631.3,270.47 631.6,270.84 631.9,274.18 632.2,271.82 632.5,272.67 632.8,271.21 633.1,272.13 633.4,271.59 633.7,271.43 634,272.48 634.3,272.48 634.6,273.9 634.9,272.91 635.2,274.01 635.5,273.69 635.8,274.29 636.1,272.86 636.4,270.6 636.7,273.71 637,274.17 637.3,273.91 637.6,272.41 637.9,273.05 637.9,270.81" fill="none" stroke="#000" stroke-width="0.75" stroke-linejoin="round" />
<line x1="548.7" y1="238.5" x2="548.7" y2="324.9" stroke="#000" stroke-width="1.2" />
<line x1="619.9" y1="243.3" x2="619.9" y2="325.8" stroke="#000" stroke-width="1.1" />
<line x1="530.3" y1="276.1" x2="650.3" y2="276.1" stroke="#e94a35" stroke-width="1.0" />
<polyline points="529.2,316.4 529.2,335 565.8,335" fill="none" stroke="#9a9a9a" stroke-width="1.0" stroke-linejoin="round" />
<text x="6" y="54.5" font-size="17.8" fill="#1a1a1a">glutamate<tspan font-size="9" dy="-8">-</tspan></text>
<text x="362" y="54.5" font-size="17.8" fill="#1a1a1a">aspartate<tspan font-size="9" dy="-8">-</tspan></text>
<text x="535" y="54.5" font-size="17.8" fill="#1a1a1a">gluconate<tspan font-size="9" dy="-8">-</tspan></text>
<text x="20.6" y="236.8" font-size="17.8" fill="#1a1a1a">HCO<tspan font-size="10" dy="3">3</tspan><tspan font-size="9" dy="-12">-</tspan></text>
<text x="210" y="237" font-size="17.8" fill="#1a1a1a">MES<tspan font-size="9" dy="-8">-</tspan></text>
<text x="376" y="237" font-size="17.8" fill="#1a1a1a">MSA<tspan font-size="9" dy="-8">-</tspan></text>
<text x="536" y="237.5" font-size="17.8" fill="#1a1a1a">isethionate<tspan font-size="9" dy="-8">-</tspan></text>
<circle cx="104.8" cy="50.1" r="6" fill="none" stroke="#222" stroke-width="1.3"/>
<polygon points="458,43 474,43 466,56.5" fill="#8b1a12" />
<circle cx="635.7" cy="49.8" r="7.7" fill="#e0281c"/>
<polygon points="75.7,237.5 90.6,237.5 83.15,225" fill="#f39c12" />
<rect x="277.7" y="224.4" width="13.3" height="13.1" fill="#d2c000"/>
<rect x="458.8" y="224.4" width="13.2" height="13.1" fill="#16914a"/>
<polygon points="628.5,233 637.7,223.8 646.9,233 637.7,242.2" fill="#176b33" />
<text x="59.3" y="181.3" font-size="12.9" fill="#111">V<tspan font-size="7" dy="2.5">0</tspan><tspan dy="-2.5">=-50 mV</tspan></text>
<text x="427" y="181.5" font-size="12.9" fill="#111" stroke="#111" stroke-width="0.45">V<tspan font-size="7" dy="2.5">0</tspan><tspan dy="-2.5">=-50 mV</tspan></text>
<text x="596" y="181" font-size="12.9" fill="#111" stroke="#111" stroke-width="0.45">V<tspan font-size="7" dy="2.5">0</tspan><tspan dy="-2.5">=-50 mV</tspan></text>
<text x="63" y="351.5" font-size="12.9" fill="#111">V<tspan font-size="7" dy="2.5">0</tspan><tspan dy="-2.5">=0 mV</tspan></text>
<text x="254" y="350.5" font-size="12.9" fill="#111">V<tspan font-size="7" dy="2.5">0</tspan><tspan dy="-2.5">=-50 mV</tspan></text>
<text x="423" y="350.5" font-size="12.9" fill="#111">V<tspan font-size="7" dy="2.5">0</tspan><tspan dy="-2.5">=-50 mV</tspan></text>
<text x="597.5" y="350.5" font-size="12.9" fill="#111">V<tspan font-size="7" dy="2.5">0</tspan><tspan dy="-2.5">=-50 mV</tspan></text>
<text x="532.6" y="350.5" font-size="12.6" text-anchor="start" fill="#1a1a1a" >50 ms</text>
<text transform="translate(525.8,338.6) rotate(-90)" x="0" y="0" font-size="12.6" fill="#1a1a1a">50 pA</text>
<polygon points="208.1,150.46 208.67,150.46 209.24,150.45 209.81,150.44 210.38,150.43 210.95,150.42 211.52,150.41 212.09,150.4 212.66,150.39 213.23,150.38 213.79,150.37 214.36,150.36 214.93,150.34 215.5,150.33 216.07,150.32 216.64,150.3 217.21,150.29 217.78,150.27 218.35,150.25 218.92,150.23 219.49,150.21 220.06,150.19 220.63,150.17 221.2,150.15 221.77,150.13 222.34,150.1 222.91,150.07 223.48,150.05 224.05,150.02 224.62,149.99 225.18,149.95 225.75,149.92 226.32,149.88 226.89,149.85 227.46,149.81 228.03,149.77 228.6,149.72 229.17,149.68 229.74,149.63 230.31,149.58 230.88,149.52 231.45,149.47 232.02,149.41 232.59,149.34 233.16,149.28 233.73,149.21 234.3,149.14 234.87,149.06 235.44,148.98 236.01,148.89 236.57,148.81 237.14,148.71 237.71,148.61 238.28,148.51 238.85,148.4 239.42,148.29 239.99,148.17 240.56,148.05 241.13,147.91 241.7,147.78 242.27,147.63 242.84,147.48 243.41,147.32 243.98,147.15 244.55,146.98 245.12,146.79 245.69,146.6 246.26,146.4 246.83,146.19 247.4,145.97 247.97,145.73 248.53,145.49 249.1,145.24 249.67,144.97 250.24,144.69 250.81,144.4 251.38,144.1 251.95,143.78 252.52,143.45 253.09,143.1 253.66,142.74 254.23,142.36 254.8,141.97 255.37,141.55 255.94,141.13 256.51,140.68 257.08,140.22 257.65,139.74 258.22,139.24 258.79,138.72 259.36,138.18 259.92,137.62 260.49,137.04 261.06,136.43 261.63,135.81 262.2,135.17 262.77,134.5 263.34,133.81 263.91,133.1 264.48,132.37 265.05,131.62 265.62,130.84 266.19,130.04 266.76,129.22 267.33,128.38 267.9,127.52 268.47,126.64 269.04,125.73 269.61,124.81 270.18,123.87 270.75,122.9 271.31,121.93 271.88,120.93 272.45,119.92 273.02,118.89 273.59,117.85 274.16,116.79 274.73,115.73 275.3,114.65 275.87,113.57 276.44,112.48 277.01,111.38 277.58,110.27 278.15,109.17 278.72,108.06 279.29,106.95 279.86,105.84 280.43,104.73 281,103.63 281.57,102.53 282.13,101.44 282.7,100.36 283.27,99.29 283.84,98.23 284.41,97.18 284.98,96.14 285.55,95.12 286.12,94.12 286.69,93.13 287.26,92.15 287.83,91.2 288.4,90.26 288.97,89.35 289.54,88.45 290.11,87.58 290.68,86.72 291.25,85.89 291.82,85.08 292.39,84.29 292.96,83.52 293.52,82.78 294.09,82.06 294.66,81.35 295.23,80.68 295.8,80.02 296.37,79.38 296.94,78.77 297.51,78.18 298.08,77.6 298.65,77.05 299.22,76.52 299.79,76.01 300.36,75.51 300.93,75.04 301.5,74.58 302.07,74.15 302.64,73.73 303.21,73.32 303.78,72.93 304.35,72.56 304.92,72.21 305.48,71.87 306.05,71.54 306.62,71.23 307.19,70.93 307.76,70.64 308.33,70.37 308.9,70.11 309.47,69.86 310.04,69.62 310.61,69.39 311.18,69.17 311.75,68.97 312.32,68.77 312.89,68.58 313.46,68.4 314.03,68.23 314.6,68.06 315.17,67.9 315.74,67.76 316.31,67.61 316.87,67.48 317.44,67.35 318.01,67.23 318.58,67.11 319.15,67 319.72,66.89 320.29,66.79 320.86,66.7 321.43,66.6 322,66.52 322.85,66.39 322.85,89.97 322,90.06 321.43,90.12 320.86,90.19 320.29,90.26 319.72,90.33 319.15,90.41 318.58,90.49 318.01,90.57 317.44,90.66 316.87,90.75 316.31,90.85 315.74,90.95 315.17,91.06 314.6,91.17 314.03,91.29 313.46,91.41 312.89,91.54 312.32,91.68 311.75,91.82 311.18,91.97 310.61,92.13 310.04,92.29 309.47,92.47 308.9,92.65 308.33,92.83 307.76,93.03 307.19,93.24 306.62,93.45 306.05,93.68 305.48,93.91 304.92,94.16 304.35,94.41 303.78,94.68 303.21,94.96 302.64,95.25 302.07,95.55 301.5,95.87 300.93,96.2 300.36,96.54 299.79,96.89 299.22,97.26 298.65,97.64 298.08,98.04 297.51,98.45 296.94,98.88 296.37,99.32 295.8,99.78 295.23,100.25 294.66,100.74 294.09,101.25 293.52,101.77 292.96,102.3 292.39,102.86 291.82,103.43 291.25,104.01 290.68,104.61 290.11,105.22 289.54,105.85 288.97,106.5 288.4,107.16 287.83,107.83 287.26,108.52 286.69,109.22 286.12,109.93 285.55,110.66 284.98,111.39 284.41,112.14 283.84,112.89 283.27,113.66 282.7,114.43 282.13,115.21 281.57,115.99 281,116.78 280.43,117.57 279.86,118.37 279.29,119.17 278.72,119.97 278.15,120.77 277.58,121.56 277.01,122.36 276.44,123.15 275.87,123.94 275.3,124.72 274.73,125.49 274.16,126.26 273.59,127.02 273.02,127.77 272.45,128.51 271.88,129.24 271.31,129.95 270.75,130.66 270.18,131.35 269.61,132.03 269.04,132.7 268.47,133.35 267.9,133.98 267.33,134.6 266.76,135.21 266.19,135.8 265.62,136.37 265.05,136.93 264.48,137.48 263.91,138 263.34,138.51 262.77,139.01 262.2,139.49 261.63,139.95 261.06,140.4 260.49,140.83 259.92,141.25 259.36,141.66 258.79,142.04 258.22,142.42 257.65,142.78 257.08,143.13 256.51,143.46 255.94,143.78 255.37,144.09 254.8,144.38 254.23,144.67 253.66,144.94 253.09,145.2 252.52,145.45 251.95,145.69 251.38,145.92 250.81,146.14 250.24,146.35 249.67,146.55 249.1,146.74 248.53,146.92 247.97,147.1 247.4,147.26 246.83,147.42 246.26,147.58 245.69,147.72 245.12,147.86 244.55,147.99 243.98,148.12 243.41,148.24 242.84,148.35 242.27,148.46 241.7,148.57 241.13,148.67 240.56,148.76 239.99,148.85 239.42,148.94 238.85,149.02 238.28,149.1 237.71,149.17 237.14,149.24 236.57,149.31 236.01,149.37 235.44,149.43 234.87,149.49 234.3,149.55 233.73,149.6 233.16,149.65 232.59,149.7 232.02,149.74 231.45,149.78 230.88,149.82 230.31,149.86 229.74,149.9 229.17,149.93 228.6,149.97 228.03,150 227.46,150.03 226.89,150.06 226.32,150.08 225.75,150.11 225.18,150.14 224.62,150.16 224.05,150.18 223.48,150.2 222.91,150.22 222.34,150.24 221.77,150.26 221.2,150.28 220.63,150.29 220.06,150.31 219.49,150.32 218.92,150.34 218.35,150.35 217.78,150.36 217.21,150.37 216.64,150.39 216.07,150.4 215.5,150.41 214.93,150.42 214.36,150.43 213.79,150.43 213.23,150.44 212.66,150.45 212.09,150.46 211.52,150.47 210.95,150.47 210.38,150.48 209.81,150.48 209.24,150.49 208.67,150.5 208.1,150.5" fill="#d0d0d0" />
<polygon points="208.1,150.48 208.67,150.48 209.24,150.47 209.81,150.46 210.38,150.46 210.95,150.45 211.52,150.44 212.09,150.43 212.66,150.42 213.23,150.42 213.79,150.41 214.36,150.4 214.93,150.39 215.5,150.37 216.07,150.36 216.64,150.35 217.21,150.34 217.78,150.32 218.35,150.31 218.92,150.29 219.49,150.28 220.06,150.26 220.63,150.24 221.2,150.22 221.77,150.2 222.34,150.18 222.91,150.16 223.48,150.14 224.05,150.12 224.62,150.09 225.18,150.06 225.75,150.04 226.32,150.01 226.89,149.98 227.46,149.94 228.03,149.91 228.6,149.87 229.17,149.83 229.74,149.8 230.31,149.75 230.88,149.71 231.45,149.66 232.02,149.61 232.59,149.56 233.16,149.51 233.73,149.45 234.3,149.39 234.87,149.33 235.44,149.27 236.01,149.2 236.57,149.12 237.14,149.05 237.71,148.97 238.28,148.88 238.85,148.8 239.42,148.7 239.99,148.61 240.56,148.5 241.13,148.4 241.7,148.28 242.27,148.17 242.84,148.04 243.41,147.91 243.98,147.77 244.55,147.63 245.12,147.48 245.69,147.32 246.26,147.15 246.83,146.98 247.4,146.8 247.97,146.61 248.53,146.41 249.1,146.2 249.67,145.98 250.24,145.74 250.81,145.5 251.38,145.25 251.95,144.98 252.52,144.71 253.09,144.42 253.66,144.11 254.23,143.8 254.8,143.46 255.37,143.12 255.94,142.76 256.51,142.38 257.08,141.98 257.65,141.57 258.22,141.14 258.79,140.69 259.36,140.22 259.92,139.74 260.49,139.23 261.06,138.7 261.63,138.15 262.2,137.58 262.77,136.99 263.34,136.38 263.91,135.74 264.48,135.08 265.05,134.39 265.62,133.68 266.19,132.94 266.76,132.18 267.33,131.39 267.9,130.58 268.47,129.74 269.04,128.88 269.61,127.99 270.18,127.07 270.75,126.13 271.31,125.16 271.88,124.16 272.45,123.14 273.02,122.1 273.59,121.03 274.16,119.94 274.73,118.82 275.3,117.68 275.87,116.52 276.44,115.34 277.01,114.14 277.58,112.92 278.15,111.68 278.72,110.42 279.29,109.16 279.86,107.87 280.43,106.58 281,105.28 281.57,103.96 282.13,102.64 282.7,101.32 283.27,99.99 283.84,98.66 284.41,97.32 284.98,95.99 285.55,94.67 286.12,93.34 286.69,92.03 287.26,90.72 287.83,89.42 288.4,88.14 288.97,86.86 289.54,85.6 290.11,84.36 290.68,83.13 291.25,81.92 291.82,80.73 292.39,79.56 292.96,78.41 293.52,77.29 294.09,76.19 294.66,75.11 295.23,74.05 295.8,73.02 296.37,72.02 296.94,71.04 297.51,70.08 298.08,69.16 298.65,68.26 299.22,67.38 299.79,66.53 300.36,65.71 300.93,64.91 301.5,64.14 302.07,63.39 302.64,62.67 303.21,61.98 303.78,61.3 304.35,60.66 304.92,60.03 305.48,59.43 306.05,58.85 306.62,58.29 307.19,57.76 307.76,57.24 308.33,56.75 308.9,56.27 309.47,55.82 310.04,55.38 310.61,54.96 311.18,54.56 311.75,54.17 312.32,53.81 312.89,53.45 313.46,53.12 314.03,52.79 314.6,52.48 315.17,52.19 315.74,51.91 316.31,51.64 316.87,51.38 317.44,51.13 318.01,50.9 318.58,50.67 319.15,50.46 319.72,50.25 320.29,50.06 320.86,49.87 321.43,49.69 322,49.52 322.85,49.29 322.85,72.68 322,72.86 321.43,72.99 320.86,73.13 320.29,73.27 319.72,73.42 319.15,73.58 318.58,73.75 318.01,73.92 317.44,74.1 316.87,74.29 316.31,74.49 315.74,74.69 315.17,74.91 314.6,75.14 314.03,75.38 313.46,75.63 312.89,75.89 312.32,76.16 311.75,76.44 311.18,76.74 310.61,77.05 310.04,77.37 309.47,77.7 308.9,78.05 308.33,78.42 307.76,78.8 307.19,79.2 306.62,79.61 306.05,80.04 305.48,80.48 304.92,80.94 304.35,81.42 303.78,81.92 303.21,82.44 302.64,82.98 302.07,83.53 301.5,84.1 300.93,84.7 300.36,85.31 299.79,85.94 299.22,86.6 298.65,87.27 298.08,87.96 297.51,88.68 296.94,89.41 296.37,90.16 295.8,90.94 295.23,91.73 294.66,92.54 294.09,93.37 293.52,94.22 292.96,95.08 292.39,95.97 291.82,96.87 291.25,97.78 290.68,98.71 290.11,99.65 289.54,100.61 288.97,101.58 288.4,102.56 287.83,103.55 287.26,104.55 286.69,105.55 286.12,106.57 285.55,107.58 284.98,108.6 284.41,109.63 283.84,110.65 283.27,111.67 282.7,112.7 282.13,113.72 281.57,114.73 281,115.74 280.43,116.74 279.86,117.74 279.29,118.73 278.72,119.7 278.15,120.67 277.58,121.62 277.01,122.56 276.44,123.48 275.87,124.39 275.3,125.28 274.73,126.16 274.16,127.02 273.59,127.86 273.02,128.68 272.45,129.48 271.88,130.27 271.31,131.03 270.75,131.78 270.18,132.5 269.61,133.21 269.04,133.89 268.47,134.56 267.9,135.2 267.33,135.83 266.76,136.43 266.19,137.02 265.62,137.59 265.05,138.13 264.48,138.66 263.91,139.17 263.34,139.66 262.77,140.13 262.2,140.59 261.63,141.03 261.06,141.45 260.49,141.86 259.92,142.25 259.36,142.62 258.79,142.98 258.22,143.32 257.65,143.65 257.08,143.97 256.51,144.28 255.94,144.57 255.37,144.85 254.8,145.11 254.23,145.37 253.66,145.61 253.09,145.84 252.52,146.07 251.95,146.28 251.38,146.49 250.81,146.68 250.24,146.87 249.67,147.04 249.1,147.21 248.53,147.37 247.97,147.53 247.4,147.68 246.83,147.82 246.26,147.95 245.69,148.08 245.12,148.2 244.55,148.32 243.98,148.43 243.41,148.53 242.84,148.63 242.27,148.73 241.7,148.82 241.13,148.91 240.56,148.99 239.99,149.07 239.42,149.14 238.85,149.21 238.28,149.28 237.71,149.35 237.14,149.41 236.57,149.47 236.01,149.52 235.44,149.57 234.87,149.62 234.3,149.67 233.73,149.72 233.16,149.76 232.59,149.8 232.02,149.84 231.45,149.88 230.88,149.91 230.31,149.95 229.74,149.98 229.17,150.01 228.6,150.04 228.03,150.07 227.46,150.09 226.89,150.12 226.32,150.14 225.75,150.17 225.18,150.19 224.62,150.21 224.05,150.23 223.48,150.25 222.91,150.26 222.34,150.28 221.77,150.3 221.2,150.31 220.63,150.33 220.06,150.34 219.49,150.35 218.92,150.36 218.35,150.38 217.78,150.39 217.21,150.4 216.64,150.41 216.07,150.42 215.5,150.43 214.93,150.43 214.36,150.44 213.79,150.45 213.23,150.46 212.66,150.47 212.09,150.47 211.52,150.48 210.95,150.48 210.38,150.49 209.81,150.5 209.24,150.5 208.67,150.51 208.1,150.51" fill="#ff6464" fill-opacity="0.6"/>
<polyline points="208.1,150.49 208.67,150.48 209.24,150.47 209.81,150.47 210.38,150.46 210.95,150.45 211.52,150.44 212.09,150.44 212.66,150.43 213.23,150.42 213.79,150.41 214.36,150.4 214.93,150.39 215.5,150.38 216.07,150.36 216.64,150.35 217.21,150.34 217.78,150.32 218.35,150.31 218.92,150.29 219.49,150.28 220.06,150.26 220.63,150.24 221.2,150.22 221.77,150.2 222.34,150.18 222.91,150.16 223.48,150.14 224.05,150.11 224.62,150.09 225.18,150.06 225.75,150.03 226.32,150 226.89,149.97 227.46,149.94 228.03,149.9 228.6,149.87 229.17,149.83 229.74,149.79 230.31,149.75 230.88,149.7 231.45,149.65 232.02,149.6 232.59,149.55 233.16,149.5 233.73,149.44 234.3,149.38 234.87,149.32 235.44,149.25 236.01,149.18 236.57,149.11 237.14,149.03 237.71,148.95 238.28,148.86 238.85,148.77 239.42,148.68 239.99,148.58 240.56,148.47 241.13,148.36 241.7,148.25 242.27,148.13 242.84,148 243.41,147.87 243.98,147.73 244.55,147.58 245.12,147.43 245.69,147.27 246.26,147.1 246.83,146.92 247.4,146.74 247.97,146.54 248.53,146.34 249.1,146.13 249.67,145.91 250.24,145.68 250.81,145.43 251.38,145.18 251.95,144.91 252.52,144.64 253.09,144.35 253.66,144.05 254.23,143.73 254.8,143.4 255.37,143.06 255.94,142.71 256.51,142.34 257.08,141.95 257.65,141.55 258.22,141.13 258.79,140.7 259.36,140.25 259.92,139.78 260.49,139.3 261.06,138.8 261.63,138.28 262.2,137.74 262.77,137.18 263.34,136.61 263.91,136.02 264.48,135.41 265.05,134.78 265.62,134.14 266.19,133.47 266.76,132.79 267.33,132.09 267.9,131.37 268.47,130.63 269.04,129.88 269.61,129.11 270.18,128.32 270.75,127.52 271.31,126.7 271.88,125.87 272.45,125.03 273.02,124.17 273.59,123.31 274.16,122.43 274.73,121.54 275.3,120.64 275.87,119.74 276.44,118.83 277.01,117.91 277.58,116.99 278.15,116.07 278.72,115.15 279.29,114.22 279.86,113.3 280.43,112.38 281,111.46 281.57,110.54 282.13,109.64 282.7,108.73 283.27,107.84 283.84,106.96 284.41,106.08 284.98,105.22 285.55,104.37 286.12,103.53 286.69,102.71 287.26,101.9 287.83,101.1 288.4,100.32 288.97,99.56 289.54,98.81 290.11,98.08 290.68,97.37 291.25,96.68 291.82,96 292.39,95.34 292.96,94.7 293.52,94.08 294.09,93.48 294.66,92.9 295.23,92.33 295.8,91.78 296.37,91.25 296.94,90.74 297.51,90.25 298.08,89.77 298.65,89.31 299.22,88.87 299.79,88.44 300.36,88.03 300.93,87.63 301.5,87.25 302.07,86.89 302.64,86.54 303.21,86.2 303.78,85.88 304.35,85.57 304.92,85.27 305.48,84.99 306.05,84.72 306.62,84.46 307.19,84.21 307.76,83.97 308.33,83.74 308.9,83.52 309.47,83.31 310.04,83.12 310.61,82.93 311.18,82.74 311.75,82.57 312.32,82.41 312.89,82.25 313.46,82.1 314.03,81.95 314.6,81.82 315.17,81.69 315.74,81.56 316.31,81.44 316.87,81.33 317.44,81.22 318.01,81.12 318.58,81.02 319.15,80.93 319.72,80.84 320.29,80.76 320.86,80.68 321.43,80.6 322,80.53 322.85,80.43" fill="none" stroke="#000" stroke-width="1.6" stroke-linejoin="round" />
<polyline points="208.1,150.49 208.67,150.49 209.24,150.48 209.81,150.48 210.38,150.47 210.95,150.46 211.52,150.46 212.09,150.45 212.66,150.44 213.23,150.43 213.79,150.42 214.36,150.41 214.93,150.4 215.5,150.39 216.07,150.38 216.64,150.37 217.21,150.36 217.78,150.35 218.35,150.33 218.92,150.32 219.49,150.31 220.06,150.29 220.63,150.28 221.2,150.26 221.77,150.24 222.34,150.22 222.91,150.2 223.48,150.18 224.05,150.16 224.62,150.14 225.18,150.11 225.75,150.09 226.32,150.06 226.89,150.03 227.46,150 228.03,149.97 228.6,149.94 229.17,149.9 229.74,149.87 230.31,149.83 230.88,149.79 231.45,149.75 232.02,149.7 232.59,149.66 233.16,149.61 233.73,149.56 234.3,149.5 234.87,149.45 235.44,149.39 236.01,149.32 236.57,149.26 237.14,149.19 237.71,149.12 238.28,149.04 238.85,148.96 239.42,148.88 239.99,148.79 240.56,148.69 241.13,148.6 241.7,148.49 242.27,148.39 242.84,148.27 243.41,148.16 243.98,148.03 244.55,147.9 245.12,147.76 245.69,147.62 246.26,147.47 246.83,147.31 247.4,147.14 247.97,146.97 248.53,146.79 249.1,146.6 249.67,146.4 250.24,146.19 250.81,145.97 251.38,145.74 251.95,145.5 252.52,145.24 253.09,144.98 253.66,144.7 254.23,144.41 254.8,144.11 255.37,143.8 255.94,143.47 256.51,143.12 257.08,142.77 257.65,142.39 258.22,142 258.79,141.59 259.36,141.17 259.92,140.73 260.49,140.26 261.06,139.79 261.63,139.29 262.2,138.77 262.77,138.23 263.34,137.67 263.91,137.09 264.48,136.49 265.05,135.86 265.62,135.22 266.19,134.55 266.76,133.86 267.33,133.14 267.9,132.4 268.47,131.64 269.04,130.85 269.61,130.04 270.18,129.21 270.75,128.35 271.31,127.47 271.88,126.57 272.45,125.64 273.02,124.69 273.59,123.72 274.16,122.72 274.73,121.71 275.3,120.67 275.87,119.62 276.44,118.54 277.01,117.45 277.58,116.34 278.15,115.22 278.72,114.08 279.29,112.92 279.86,111.76 280.43,110.58 281,109.4 281.57,108.2 282.13,107 282.7,105.8 283.27,104.59 283.84,103.38 284.41,102.17 284.98,100.96 285.55,99.75 286.12,98.55 286.69,97.35 287.26,96.16 287.83,94.98 288.4,93.81 288.97,92.66 289.54,91.51 290.11,90.38 290.68,89.26 291.25,88.17 291.82,87.08 292.39,86.02 292.96,84.98 293.52,83.95 294.09,82.95 294.66,81.97 295.23,81.01 295.8,80.07 296.37,79.16 296.94,78.27 297.51,77.4 298.08,76.56 298.65,75.74 299.22,74.95 299.79,74.17 300.36,73.43 300.93,72.7 301.5,72 302.07,71.32 302.64,70.67 303.21,70.03 303.78,69.42 304.35,68.83 304.92,68.27 305.48,67.72 306.05,67.19 306.62,66.69 307.19,66.2 307.76,65.73 308.33,65.28 308.9,64.85 309.47,64.43 310.04,64.04 310.61,63.66 311.18,63.29 311.75,62.94 312.32,62.61 312.89,62.28 313.46,61.98 314.03,61.68 314.6,61.4 315.17,61.13 315.74,60.88 316.31,60.63 316.87,60.4 317.44,60.17 318.01,59.96 318.58,59.76 319.15,59.56 319.72,59.38 320.29,59.2 320.86,59.03 321.43,58.87 322,58.71 322.85,58.5" fill="none" stroke="#000" stroke-width="1.6" stroke-linejoin="round" />
<line x1="208.1" y1="44" x2="208.1" y2="156.1" stroke="#444" stroke-width="1.1" />
<line x1="208.1" y1="155.6" x2="322.3" y2="155.6" stroke="#444" stroke-width="1.1" />
<line x1="208.1" y1="115.1" x2="212.6" y2="115.1" stroke="#444" stroke-width="1.1" />
<line x1="208.1" y1="79.6" x2="212.6" y2="79.6" stroke="#444" stroke-width="1.1" />
<line x1="265.05" y1="155.6" x2="265.05" y2="152.1" stroke="#444" stroke-width="1.1" />
<line x1="322" y1="155.6" x2="322" y2="152.1" stroke="#444" stroke-width="1.1" />
<text x="204.2" y="85.8" font-size="17.5" text-anchor="end" fill="#1a1a1a" >2</text>
<text x="205" y="156.8" font-size="17.5" text-anchor="end" fill="#1a1a1a" >0</text>
<text x="208.1" y="171.2" font-size="17.8" text-anchor="middle" fill="#1a1a1a" >-8</text>
<text x="265.05" y="171.2" font-size="17.8" text-anchor="middle" fill="#1a1a1a" >-6</text>
<text x="322" y="171.2" font-size="17.8" text-anchor="middle" fill="#1a1a1a" >-4</text>
<text x="273" y="190" font-size="20" text-anchor="middle" fill="#1a1a1a">log [H<tspan font-size="11" dy="-9">+</tspan><tspan dy="9">]</tspan></text>
<text transform="translate(190.2,101.8) rotate(-90)" font-size="20.4" text-anchor="middle" fill="#1a1a1a">Norm. current</text>
<line x1="293.52" y1="75" x2="293.52" y2="88" stroke="#000" stroke-width="1.1" />
<line x1="291.52" y1="75" x2="295.52" y2="75" stroke="#000" stroke-width="1.1" />
<line x1="286.41" y1="104" x2="286.41" y2="111.6" stroke="#000" stroke-width="1.1" />
<line x1="284.41" y1="111.6" x2="288.41" y2="111.6" stroke="#000" stroke-width="1.1" />
<rect x="219.54" y="146.02" width="5.6" height="5.6" fill="#111"/>
<rect x="233.77" y="145.67" width="5.6" height="5.6" fill="#111"/>
<rect x="248.01" y="142.83" width="5.6" height="5.6" fill="#111"/>
<rect x="262.25" y="134.31" width="5.6" height="5.6" fill="#111"/>
<rect x="269.37" y="125.79" width="5.6" height="5.6" fill="#111"/>
<rect x="276.49" y="113.36" width="5.6" height="5.6" fill="#111"/>
<rect x="283.61" y="104.14" width="5.6" height="5.6" fill="#111"/>
<rect x="290.72" y="93.84" width="5.6" height="5.6" fill="#111"/>
<circle cx="222.34" cy="145.98" r="3.3" fill="#fff" stroke="#111" stroke-width="1.2"/>
<circle cx="236.57" cy="146.34" r="3.3" fill="#fff" stroke="#111" stroke-width="1.2"/>
<circle cx="250.81" cy="142.08" r="3.3" fill="#fff" stroke="#111" stroke-width="1.2"/>
<circle cx="265.05" cy="133.91" r="3.3" fill="#fff" stroke="#111" stroke-width="1.2"/>
<circle cx="272.17" cy="126.46" r="3.3" fill="#fff" stroke="#111" stroke-width="1.2"/>
<circle cx="279.29" cy="115.1" r="3.3" fill="#fff" stroke="#111" stroke-width="1.2"/>
<circle cx="286.41" cy="101.61" r="3.3" fill="#fff" stroke="#111" stroke-width="1.2"/>
<circle cx="293.52" cy="87.41" r="3.3" fill="#fff" stroke="#111" stroke-width="1.2"/>
<circle cx="223.4" cy="55.4" r="3.4" fill="#111"/>
<circle cx="223.4" cy="68.5" r="3.1" fill="#fff" stroke="#111" stroke-width="1.1"/>
<text x="230.5" y="58.6" font-size="10.5" fill="#1a1a1a">Cl<tspan font-size="6" dy="-5">-</tspan></text>
<text x="230.5" y="71.7" font-size="11.2" fill="#1a1a1a">glutamate<tspan font-size="6" dy="-5">-</tspan></text>
<line x1="84.1" y1="398.4" x2="84.1" y2="642.7" stroke="#5a5a5a" stroke-width="1.15" />
<line x1="83.6" y1="642.2" x2="384.4" y2="642.2" stroke="#1a1a1a" stroke-width="1.25" />
<line x1="84.1" y1="408.3" x2="87.6" y2="408.3" stroke="#444" stroke-width="1.1" />
<text x="81.2" y="414.6" font-size="17.6" text-anchor="end" fill="#1a1a1a" >0</text>
<line x1="84.1" y1="460" x2="87.6" y2="460" stroke="#444" stroke-width="1.1" />
<text x="81.2" y="466.3" font-size="17.6" text-anchor="end" fill="#1a1a1a" >-200</text>
<line x1="84.1" y1="511.7" x2="87.6" y2="511.7" stroke="#444" stroke-width="1.1" />
<text x="81.2" y="518" font-size="17.6" text-anchor="end" fill="#1a1a1a" >-400</text>
<line x1="84.1" y1="563.4" x2="87.6" y2="563.4" stroke="#444" stroke-width="1.1" />
<text x="81.2" y="569.7" font-size="17.6" text-anchor="end" fill="#1a1a1a" >-600</text>
<line x1="84.1" y1="615.1" x2="87.6" y2="615.1" stroke="#444" stroke-width="1.1" />
<text x="81.2" y="621.4" font-size="17.6" text-anchor="end" fill="#1a1a1a" >-800</text>
<line x1="165.55" y1="642.2" x2="165.55" y2="639" stroke="#444" stroke-width="1.1" />
<text x="165.55" y="660.1" font-size="17.6" text-anchor="middle" fill="#1a1a1a" >1.0</text>
<line x1="247" y1="642.2" x2="247" y2="639" stroke="#444" stroke-width="1.1" />
<text x="247" y="660.1" font-size="17.6" text-anchor="middle" fill="#1a1a1a" >2.0</text>
<line x1="328.45" y1="642.2" x2="328.45" y2="639" stroke="#444" stroke-width="1.1" />
<text x="328.45" y="660.1" font-size="17.6" text-anchor="middle" fill="#1a1a1a" >3.0</text>
<text x="245.5" y="680.6" font-size="18" text-anchor="middle" fill="#1a1a1a" >Fluorescence amplitude (AU)</text>
<text transform="translate(17,511.5) rotate(-90)" font-size="20.8" text-anchor="middle" fill="#1a1a1a">Current (pA)</text>
<polygon points="84.1,418.6 384.4,534 384.4,630.5 84.1,419.2" fill="#ffa500" fill-opacity="0.27"/>
<polygon points="84.1,412.7 384.4,471 384.4,497.3 84.1,413.3" fill="#008000" fill-opacity="0.25"/>
<polygon points="84.1,412.2 384.4,458 384.4,483 84.1,412.8" fill="#008000" fill-opacity="0.25"/>
<polygon points="84.1,411.7 384.4,447 384.4,470 84.1,412.3" fill="#f0e68c" fill-opacity="0.45"/>
<polygon points="84.1,410.7 384.4,438 384.4,455 84.1,411.3" fill="#8b0000" fill-opacity="0.22"/>
<polygon points="84.1,410.7 384.4,440 384.4,452 84.1,411.3" fill="#000000" fill-opacity="0.15"/>
<polygon points="84.1,409.9 384.4,437.8 384.4,447.6 84.1,410.5" fill="#ff0000" fill-opacity="0.25"/>
<line x1="84.1" y1="411.8" x2="384.4" y2="413.7" stroke="#0a8a0a" stroke-width="1.8" stroke-dasharray="5 15" stroke-dashoffset="0"/>
<line x1="84.1" y1="411.4" x2="384.4" y2="413.3" stroke="#111" stroke-width="1.8" stroke-dasharray="5 15" stroke-dashoffset="5"/>
<line x1="84.1" y1="410.9" x2="384.4" y2="412.8" stroke="#e00" stroke-width="1.8" stroke-dasharray="5 15" stroke-dashoffset="10"/>
<line x1="84.1" y1="411.6" x2="384.4" y2="413.5" stroke="#e8dc8a" stroke-width="1.8" stroke-dasharray="5 15" stroke-dashoffset="15"/>
<polygon points="84.1,411.8 186,425.5 186,433.5 84.1,413.8" fill="#0a7f0a" fill-opacity="0.85"/>
<line x1="84.1" y1="418.9" x2="384.4" y2="583" stroke="#ffa000" stroke-width="1.4" />
<line x1="84.1" y1="413" x2="384.4" y2="484.7" stroke="#0a8a0a" stroke-width="1.5" />
<line x1="84.1" y1="412.5" x2="384.4" y2="470.7" stroke="#0a8a0a" stroke-width="1.5" />
<line x1="84.1" y1="412" x2="384.4" y2="457.4" stroke="#efe08c" stroke-width="1.6" />
<line x1="84.1" y1="411" x2="384.4" y2="443" stroke="#8b0a0a" stroke-width="1.6" />
<line x1="84.1" y1="411" x2="384.4" y2="445.5" stroke="#000" stroke-width="1.8" />
<line x1="84.1" y1="410.2" x2="384.4" y2="440.6" stroke="#f01010" stroke-width="2.0" />
<polygon points="117.45,418.18 124.95,418.18 121.2,411.43" fill="#0a820a" />
<polygon points="136.45,418.88 143.95,418.88 140.2,412.12" fill="#0a820a" />
<polygon points="153.95,418.88 161.45,418.88 157.7,412.12" fill="#0a820a" />
<polygon points="129.2,418.2 135.2,418.2 132.2,412.8" fill="#ffa200" />
<polygon points="154,418.9 160,418.9 157,413.5" fill="#ffa200" />
<polygon points="164.5,419.7 170.5,419.7 167.5,414.3" fill="#ffa200" />
<rect x="130.15" y="407.65" width="5.5" height="5.5" fill="#efe08c"/>
<rect x="244.45" y="407.65" width="5.5" height="5.5" fill="#efe08c"/>
<rect x="196.25" y="408.35" width="5.5" height="5.5" fill="#efe08c"/>
<rect x="333.15" y="408.85" width="5.5" height="5.5" fill="#efe08c"/>
<rect x="144.7" y="411.3" width="7" height="7" fill="#efe08c"/>
<rect x="165.9" y="419.3" width="7" height="7" fill="#efe08c"/>
<rect x="170.5" y="407.9" width="5" height="5" fill="#0a820a"/>
<rect x="177.9" y="408.3" width="5" height="5" fill="#0a820a"/>
<rect x="289.5" y="409.1" width="5" height="5" fill="#0a820a"/>
<rect x="296.5" y="413.5" width="5" height="5" fill="#0a820a"/>
<polygon points="211.75,411.9 215,408.65 218.25,411.9 215,415.15" fill="#0a820a" />
<polygon points="257.75,412.6 261,409.35 264.25,412.6 261,415.85" fill="#0a820a" />
<polygon points="182.55,406.77 189.05,406.77 185.8,412.62" fill="#8b0a0a" />
<polygon points="231.45,406.77 237.95,406.77 234.7,412.62" fill="#8b0a0a" />
<polygon points="235.15,407.47 241.65,407.47 238.4,413.32" fill="#8b0a0a" />
<circle cx="209.2" cy="410.4" r="2.5" fill="#f01010"/>
<circle cx="227.4" cy="415.8" r="2.5" fill="#f01010"/>
<circle cx="273.4" cy="411.9" r="2.5" fill="#f01010"/>
<circle cx="299.3" cy="410.5" r="2.5" fill="#f01010"/>
<circle cx="321" cy="412.8" r="2.5" fill="#f01010"/>
<circle cx="326.6" cy="418.1" r="2.5" fill="#f01010"/>
<circle cx="330.6" cy="409.6" r="2.5" fill="#f01010"/>
<circle cx="193.9" cy="410.4" r="2.5" fill="none" stroke="#111" stroke-width="0.85"/>
<circle cx="201.2" cy="410.4" r="2.5" fill="none" stroke="#111" stroke-width="0.85"/>
<circle cx="214.3" cy="410" r="2.5" fill="none" stroke="#111" stroke-width="0.85"/>
<circle cx="258.8" cy="410" r="2.5" fill="none" stroke="#111" stroke-width="0.85"/>
<circle cx="267.6" cy="412.6" r="2.5" fill="none" stroke="#111" stroke-width="0.85"/>
<circle cx="315.3" cy="411.6" r="2.5" fill="none" stroke="#111" stroke-width="0.85"/>
<circle cx="376.4" cy="412.5" r="2.5" fill="none" stroke="#111" stroke-width="0.85"/>
<circle cx="193.1" cy="419.9" r="4.2" fill="none" stroke="#111" stroke-width="1.0"/>
<circle cx="200.4" cy="417.7" r="4.2" fill="none" stroke="#111" stroke-width="1.0"/>
<circle cx="215" cy="419.2" r="4.2" fill="none" stroke="#111" stroke-width="1.0"/>
<circle cx="269" cy="422.5" r="4.2" fill="none" stroke="#111" stroke-width="1.0"/>
<circle cx="253" cy="439.6" r="4.2" fill="none" stroke="#111" stroke-width="1.0"/>
<circle cx="259.6" cy="438.9" r="4.2" fill="none" stroke="#111" stroke-width="1.0"/>
<circle cx="254.5" cy="436" r="4.2" fill="none" stroke="#111" stroke-width="1.0"/>
<circle cx="267.6" cy="433" r="4.2" fill="none" stroke="#111" stroke-width="1.0"/>
<circle cx="235.5" cy="427.2" r="4.2" fill="none" stroke="#111" stroke-width="1.0"/>
<circle cx="315.3" cy="434.1" r="4.2" fill="none" stroke="#111" stroke-width="1.0"/>
<circle cx="376.4" cy="444.6" r="4.2" fill="none" stroke="#111" stroke-width="1.0"/>
<circle cx="378" cy="446" r="4.2" fill="none" stroke="#111" stroke-width="1.0"/>
<circle cx="376.4" cy="456.6" r="4.2" fill="none" stroke="#111" stroke-width="1.0"/>
<circle cx="268.5" cy="422.7" r="4.2" fill="none" stroke="#111" stroke-width="1.0"/>
<circle cx="182.2" cy="419.2" r="4.6" fill="#f01010"/>
<circle cx="209.2" cy="421.4" r="4.6" fill="#f01010"/>
<circle cx="217.2" cy="428.7" r="4.6" fill="#f01010"/>
<circle cx="239.1" cy="422.1" r="4.6" fill="#f01010"/>
<circle cx="257.4" cy="427.9" r="4.6" fill="#f01010"/>
<circle cx="299.3" cy="432" r="4.6" fill="#f01010"/>
<circle cx="320.1" cy="435.3" r="4.6" fill="#f01010"/>
<circle cx="326.6" cy="434.6" r="4.6" fill="#f01010"/>
<circle cx="319.3" cy="439" r="4.6" fill="#f01010"/>
<circle cx="238.9" cy="422.7" r="4.6" fill="#f01010"/>
<circle cx="258" cy="428.6" r="4.6" fill="#f01010"/>
<polygon points="228.3,418.3 238.3,418.3 233.3,427.3" fill="#8b0a0a" />
<polygon points="228.3,435.8 238.3,435.8 233.3,444.8" fill="#8b0a0a" />
<polygon points="183,422.7 193,422.7 188,431.7" fill="#8b0a0a" />
<polygon points="327.2,427.2 337.2,427.2 332.2,436.2" fill="#8b0a0a" />
<polygon points="285.9,436.9 295.9,436.9 290.9,445.9" fill="#8b0a0a" />
<polygon points="229.7,419.4 239.7,419.4 234.7,428.4" fill="#8b0a0a" />
<rect x="128.9" y="415.9" width="8" height="8" fill="#efe08c"/>
<rect x="145" y="427.9" width="8" height="8" fill="#efe08c"/>
<rect x="195" y="418.1" width="8" height="8" fill="#efe08c"/>
<rect x="180.4" y="424.7" width="8" height="8" fill="#efe08c"/>
<rect x="221.3" y="423.9" width="8" height="8" fill="#efe08c"/>
<rect x="245.3" y="425.4" width="8" height="8" fill="#efe08c"/>
<rect x="239.5" y="429.8" width="8" height="8" fill="#efe08c"/>
<rect x="331.9" y="459.5" width="8" height="8" fill="#efe08c"/>
<rect x="176.4" y="442.2" width="8" height="8" fill="#0a820a"/>
<rect x="180.4" y="432.2" width="8" height="8" fill="#0a820a"/>
<rect x="177.5" y="442.2" width="8" height="8" fill="#0a820a"/>
<rect x="211" y="440" width="8" height="8" fill="#0a820a"/>
<rect x="213.7" y="455.6" width="8" height="8" fill="#0a820a"/>
<rect x="257" y="450.9" width="8" height="8" fill="#0a820a"/>
<rect x="288.8" y="451.8" width="8" height="8" fill="#0a820a"/>
<rect x="295" y="456.6" width="8" height="8" fill="#0a820a"/>
<polygon points="122.3,424.3 127.8,418.8 133.3,424.3 127.8,429.8" fill="#075e07" />
<polygon points="144.2,436.2 149.7,430.7 155.2,436.2 149.7,441.7" fill="#075e07" />
<polygon points="145.7,440.3 151.2,434.8 156.7,440.3 151.2,445.8" fill="#075e07" />
<polygon points="191.7,436.2 197.2,430.7 202.7,436.2 197.2,441.7" fill="#075e07" />
<polygon points="218.3,442.5 223.8,437 229.3,442.5 223.8,448" fill="#075e07" />
<polygon points="271.6,452.7 277.1,447.2 282.6,452.7 277.1,458.2" fill="#075e07" />
<polygon points="271.6,436.7 277.1,431.2 282.6,436.7 277.1,442.2" fill="#075e07" />
<polygon points="303.4,457.1 308.9,451.6 314.4,457.1 308.9,462.6" fill="#075e07" />
<polygon points="126.65,445.77 136.15,445.77 131.4,437.23" fill="#ffa200" />
<polygon points="130.35,458.47 139.85,458.47 135.1,449.93" fill="#ffa200" />
<polygon points="140.25,459.47 149.75,459.47 145,450.93" fill="#ffa200" />
<polygon points="152.25,454.57 161.75,454.57 157,446.03" fill="#ffa200" />
<polygon points="162.75,472.07 172.25,472.07 167.5,463.53" fill="#ffa200" />
<polygon points="189.85,474.57 199.35,474.57 194.6,466.03" fill="#ffa200" />
<polygon points="193.95,450.47 203.45,450.47 198.7,441.93" fill="#ffa200" />
<polygon points="193.05,521.27 202.55,521.27 197.8,512.73" fill="#ffa200" />
<polygon points="231.85,515.48 241.35,515.48 236.6,506.93" fill="#ffa200" />
<line x1="451.4" y1="404.3" x2="677.6" y2="404.3" stroke="#555" stroke-width="1.15" />
<line x1="610.6" y1="371" x2="610.6" y2="534.5" stroke="#666" stroke-width="1.15" />
<line x1="474.17" y1="404.3" x2="474.17" y2="399.3" stroke="#444" stroke-width="1.1" />
<line x1="564.92" y1="404.3" x2="564.92" y2="399.3" stroke="#444" stroke-width="1.1" />
<line x1="606.2" y1="450.6" x2="610.6" y2="450.6" stroke="#444" stroke-width="1.1" />
<line x1="606.2" y1="497.4" x2="610.6" y2="497.4" stroke="#444" stroke-width="1.1" />
<text x="470.3" y="397.4" font-size="17.5" text-anchor="middle" fill="#1a1a1a" >-150</text>
<text x="560.9" y="397.4" font-size="17.5" text-anchor="middle" fill="#1a1a1a" >-50</text>
<text x="453" y="376" font-size="20" text-anchor="start" fill="#1a1a1a" >Voltage (mV)</text>
<text x="617.5" y="454.3" font-size="17" text-anchor="start" fill="#1a1a1a" >-0.1</text>
<text x="617.5" y="504.5" font-size="17" text-anchor="start" fill="#1a1a1a" >-0.2</text>
<text transform="translate(670.7,426.4) rotate(90)" font-size="20" fill="#1a1a1a">Current/</text>
<text transform="translate(654,427.6) rotate(90)" font-size="20" fill="#1a1a1a">Fluo. (AU)</text>
<line x1="465.1" y1="479.9" x2="465.1" y2="520.3" stroke="#777" stroke-width="1.0" />
<line x1="462.9" y1="479.9" x2="467.3" y2="479.9" stroke="#777" stroke-width="1.0" />
<line x1="462.9" y1="520.3" x2="467.3" y2="520.3" stroke="#777" stroke-width="1.0" />
<line x1="483.25" y1="452" x2="483.25" y2="478.1" stroke="#777" stroke-width="1.0" />
<line x1="481.05" y1="452" x2="485.45" y2="452" stroke="#777" stroke-width="1.0" />
<line x1="481.05" y1="478.1" x2="485.45" y2="478.1" stroke="#777" stroke-width="1.0" />
<line x1="501.4" y1="435.2" x2="501.4" y2="452.6" stroke="#777" stroke-width="1.0" />
<line x1="499.2" y1="435.2" x2="503.6" y2="435.2" stroke="#777" stroke-width="1.0" />
<line x1="499.2" y1="452.6" x2="503.6" y2="452.6" stroke="#777" stroke-width="1.0" />
<line x1="519.55" y1="424.3" x2="519.55" y2="435.2" stroke="#777" stroke-width="1.0" />
<line x1="517.35" y1="424.3" x2="521.75" y2="424.3" stroke="#777" stroke-width="1.0" />
<line x1="517.35" y1="435.2" x2="521.75" y2="435.2" stroke="#777" stroke-width="1.0" />
<line x1="537.7" y1="416.8" x2="537.7" y2="423.5" stroke="#777" stroke-width="1.0" />
<line x1="535.5" y1="416.8" x2="539.9" y2="416.8" stroke="#777" stroke-width="1.0" />
<line x1="535.5" y1="423.5" x2="539.9" y2="423.5" stroke="#777" stroke-width="1.0" />
<line x1="555.85" y1="411" x2="555.85" y2="416.5" stroke="#777" stroke-width="1.0" />
<line x1="553.65" y1="411" x2="558.05" y2="411" stroke="#777" stroke-width="1.0" />
<line x1="553.65" y1="416.5" x2="558.05" y2="416.5" stroke="#777" stroke-width="1.0" />
<line x1="574" y1="407.5" x2="574" y2="411.5" stroke="#777" stroke-width="1.0" />
<line x1="571.8" y1="407.5" x2="576.2" y2="407.5" stroke="#777" stroke-width="1.0" />
<line x1="571.8" y1="411.5" x2="576.2" y2="411.5" stroke="#777" stroke-width="1.0" />
<line x1="465.1" y1="442.4" x2="465.1" y2="449.4" stroke="#777" stroke-width="0.9" />
<line x1="463.1" y1="442.4" x2="467.1" y2="442.4" stroke="#777" stroke-width="0.9" />
<line x1="463.1" y1="449.4" x2="467.1" y2="449.4" stroke="#777" stroke-width="0.9" />
<line x1="483.25" y1="426.8" x2="483.25" y2="431.8" stroke="#777" stroke-width="0.9" />
<line x1="481.25" y1="426.8" x2="485.25" y2="426.8" stroke="#777" stroke-width="0.9" />
<line x1="481.25" y1="431.8" x2="485.25" y2="431.8" stroke="#777" stroke-width="0.9" />
<line x1="501.4" y1="418" x2="501.4" y2="421.6" stroke="#777" stroke-width="0.9" />
<line x1="499.4" y1="418" x2="503.4" y2="418" stroke="#777" stroke-width="0.9" />
<line x1="499.4" y1="421.6" x2="503.4" y2="421.6" stroke="#777" stroke-width="0.9" />
<line x1="465.1" y1="438.2" x2="465.1" y2="445.2" stroke="#777" stroke-width="0.9" />
<line x1="463.1" y1="438.2" x2="467.1" y2="438.2" stroke="#777" stroke-width="0.9" />
<line x1="463.1" y1="445.2" x2="467.1" y2="445.2" stroke="#777" stroke-width="0.9" />
<line x1="483.25" y1="424.3" x2="483.25" y2="429.3" stroke="#777" stroke-width="0.9" />
<line x1="481.25" y1="424.3" x2="485.25" y2="424.3" stroke="#777" stroke-width="0.9" />
<line x1="481.25" y1="429.3" x2="485.25" y2="429.3" stroke="#777" stroke-width="0.9" />
<line x1="501.4" y1="416.2" x2="501.4" y2="419.8" stroke="#777" stroke-width="0.9" />
<line x1="499.4" y1="416.2" x2="503.4" y2="416.2" stroke="#777" stroke-width="0.9" />
<line x1="499.4" y1="419.8" x2="503.4" y2="419.8" stroke="#777" stroke-width="0.9" />
<line x1="465.1" y1="430" x2="465.1" y2="437" stroke="#777" stroke-width="0.9" />
<line x1="463.1" y1="430" x2="467.1" y2="430" stroke="#777" stroke-width="0.9" />
<line x1="463.1" y1="437" x2="467.1" y2="437" stroke="#777" stroke-width="0.9" />
<line x1="483.25" y1="419.8" x2="483.25" y2="424.8" stroke="#777" stroke-width="0.9" />
<line x1="481.25" y1="419.8" x2="485.25" y2="419.8" stroke="#777" stroke-width="0.9" />
<line x1="481.25" y1="424.8" x2="485.25" y2="424.8" stroke="#777" stroke-width="0.9" />
<line x1="501.4" y1="413.7" x2="501.4" y2="417.3" stroke="#777" stroke-width="0.9" />
<line x1="499.4" y1="413.7" x2="503.4" y2="413.7" stroke="#777" stroke-width="0.9" />
<line x1="499.4" y1="417.3" x2="503.4" y2="417.3" stroke="#777" stroke-width="0.9" />
<line x1="465.1" y1="416.3" x2="465.1" y2="423.3" stroke="#777" stroke-width="0.9" />
<line x1="463.1" y1="416.3" x2="467.1" y2="416.3" stroke="#777" stroke-width="0.9" />
<line x1="463.1" y1="423.3" x2="467.1" y2="423.3" stroke="#777" stroke-width="0.9" />
<line x1="483.25" y1="412.4" x2="483.25" y2="417.4" stroke="#777" stroke-width="0.9" />
<line x1="481.25" y1="412.4" x2="485.25" y2="412.4" stroke="#777" stroke-width="0.9" />
<line x1="481.25" y1="417.4" x2="485.25" y2="417.4" stroke="#777" stroke-width="0.9" />
<line x1="501.4" y1="409.3" x2="501.4" y2="412.9" stroke="#777" stroke-width="0.9" />
<line x1="499.4" y1="409.3" x2="503.4" y2="409.3" stroke="#777" stroke-width="0.9" />
<line x1="499.4" y1="412.9" x2="503.4" y2="412.9" stroke="#777" stroke-width="0.9" />
<polyline points="465.1,419.8 483.25,414.9 501.4,411.1 519.55,407.9 537.7,406.2 555.85,405 574,404.5 592.15,404.2 610.3,404 628.45,403.8 646.6,403.5 664.75,403.2" fill="none" stroke="#e0231c" stroke-width="1.0" stroke-linejoin="round" />
<circle cx="465.1" cy="419.8" r="3.24" fill="#e0231c"/>
<circle cx="483.25" cy="414.9" r="3.24" fill="#e0231c"/>
<circle cx="501.4" cy="411.1" r="3.24" fill="#e0231c"/>
<circle cx="519.55" cy="407.9" r="3.24" fill="#e0231c"/>
<circle cx="537.7" cy="406.2" r="3.24" fill="#e0231c"/>
<circle cx="555.85" cy="405" r="3.24" fill="#e0231c"/>
<circle cx="574" cy="404.5" r="3.24" fill="#e0231c"/>
<circle cx="592.15" cy="404.2" r="3.24" fill="#e0231c"/>
<circle cx="610.3" cy="404" r="3.24" fill="#e0231c"/>
<circle cx="628.45" cy="403.8" r="3.24" fill="#e0231c"/>
<circle cx="646.6" cy="403.5" r="3.24" fill="#e0231c"/>
<circle cx="664.75" cy="403.2" r="3.24" fill="#e0231c"/>
<polyline points="465.1,426 483.25,418.6 501.4,413 519.55,409.5 537.7,407 555.85,405.5 574,404.7 592.15,404.3 610.3,404 628.45,403.8 646.6,403.5 664.75,403.2" fill="none" stroke="#8b1a1a" stroke-width="1.0" stroke-linejoin="round" />
<polygon points="461.5,422.76 468.7,422.76 465.1,429.24" fill="#8b1a1a" />
<polygon points="479.65,415.36 486.85,415.36 483.25,421.84" fill="#8b1a1a" />
<polygon points="497.8,409.76 505,409.76 501.4,416.24" fill="#8b1a1a" />
<polygon points="515.95,406.26 523.15,406.26 519.55,412.74" fill="#8b1a1a" />
<polygon points="534.1,403.76 541.3,403.76 537.7,410.24" fill="#8b1a1a" />
<polygon points="552.25,402.26 559.45,402.26 555.85,408.74" fill="#8b1a1a" />
<polygon points="570.4,401.46 577.6,401.46 574,407.94" fill="#8b1a1a" />
<polygon points="588.55,401.06 595.75,401.06 592.15,407.54" fill="#8b1a1a" />
<polygon points="606.7,400.76 613.9,400.76 610.3,407.24" fill="#8b1a1a" />
<polygon points="624.85,400.56 632.05,400.56 628.45,407.04" fill="#8b1a1a" />
<polygon points="643,400.26 650.2,400.26 646.6,406.74" fill="#8b1a1a" />
<polygon points="661.15,399.96 668.35,399.96 664.75,406.44" fill="#8b1a1a" />
<polyline points="465.1,423 483.25,417 501.4,412.2 519.55,409 537.7,406.6 555.85,405.2 574,404.6 592.15,404.3 610.3,404.3 628.45,404.5 646.6,404.3 664.75,403.6" fill="none" stroke="#111" stroke-width="1.0" stroke-linejoin="round" />
<circle cx="628.45" cy="404.5" r="3.024" fill="#fff" stroke="#111" stroke-width="0.9"/>
<circle cx="646.6" cy="404.3" r="3.024" fill="#fff" stroke="#111" stroke-width="0.9"/>
<circle cx="664.75" cy="403.6" r="3.024" fill="#fff" stroke="#111" stroke-width="0.9"/>
<polyline points="465.1,499.7 483.25,465 501.4,443.4 519.55,429.3 537.7,419.8 555.85,413.6 574,409.4 592.15,406.2 610.3,404.4 628.45,401.5 646.6,400.2 664.75,399.3" fill="none" stroke="#f5a31a" stroke-width="1.0" stroke-linejoin="round" />
<polygon points="461.5,502.94 468.7,502.94 465.1,496.46" fill="#f5a31a" />
<polygon points="479.65,468.24 486.85,468.24 483.25,461.76" fill="#f5a31a" />
<polygon points="497.8,446.64 505,446.64 501.4,440.16" fill="#f5a31a" />
<polygon points="515.95,432.54 523.15,432.54 519.55,426.06" fill="#f5a31a" />
<polygon points="534.1,423.04 541.3,423.04 537.7,416.56" fill="#f5a31a" />
<polygon points="552.25,416.84 559.45,416.84 555.85,410.36" fill="#f5a31a" />
<polygon points="570.4,412.64 577.6,412.64 574,406.16" fill="#f5a31a" />
<polygon points="588.55,409.44 595.75,409.44 592.15,402.96" fill="#f5a31a" />
<polygon points="606.7,407.64 613.9,407.64 610.3,401.16" fill="#f5a31a" />
<polygon points="624.85,404.74 632.05,404.74 628.45,398.26" fill="#f5a31a" />
<polygon points="643,403.44 650.2,403.44 646.6,396.96" fill="#f5a31a" />
<polygon points="661.15,402.54 668.35,402.54 664.75,396.06" fill="#f5a31a" />
<polyline points="465.1,433.5 483.25,422.3 501.4,415.5 519.55,410.5 537.7,407.5 555.85,405.5 574,404 592.15,403 610.3,402 628.45,400.5 646.6,398.6 664.75,397.6" fill="none" stroke="#d2c500" stroke-width="1.0" stroke-linejoin="round" />
<rect x="462.04" y="430.44" width="6.12" height="6.12" fill="#d2c500"/>
<rect x="480.19" y="419.24" width="6.12" height="6.12" fill="#d2c500"/>
<rect x="498.34" y="412.44" width="6.12" height="6.12" fill="#d2c500"/>
<rect x="516.49" y="407.44" width="6.12" height="6.12" fill="#d2c500"/>
<rect x="534.64" y="404.44" width="6.12" height="6.12" fill="#d2c500"/>
<rect x="552.79" y="402.44" width="6.12" height="6.12" fill="#d2c500"/>
<rect x="570.94" y="400.94" width="6.12" height="6.12" fill="#d2c500"/>
<rect x="589.09" y="399.94" width="6.12" height="6.12" fill="#d2c500"/>
<rect x="607.24" y="398.94" width="6.12" height="6.12" fill="#d2c500"/>
<rect x="625.39" y="397.44" width="6.12" height="6.12" fill="#d2c500"/>
<rect x="643.54" y="395.54" width="6.12" height="6.12" fill="#d2c500"/>
<rect x="661.69" y="394.54" width="6.12" height="6.12" fill="#d2c500"/>
<polyline points="465.1,445.9 483.25,429.3 501.4,419.8 519.55,412.9 537.7,408.7 555.85,405.5 574,403.5 592.15,402 610.3,400.5 628.45,399 646.6,398 664.75,397" fill="none" stroke="#14924a" stroke-width="1.0" stroke-linejoin="round" />
<rect x="462.04" y="442.84" width="6.12" height="6.12" fill="#14924a"/>
<rect x="480.19" y="426.24" width="6.12" height="6.12" fill="#14924a"/>
<rect x="498.34" y="416.74" width="6.12" height="6.12" fill="#14924a"/>
<rect x="516.49" y="409.84" width="6.12" height="6.12" fill="#14924a"/>
<rect x="534.64" y="405.64" width="6.12" height="6.12" fill="#14924a"/>
<rect x="552.79" y="402.44" width="6.12" height="6.12" fill="#14924a"/>
<rect x="570.94" y="400.44" width="6.12" height="6.12" fill="#14924a"/>
<rect x="589.09" y="398.94" width="6.12" height="6.12" fill="#14924a"/>
<rect x="607.24" y="397.44" width="6.12" height="6.12" fill="#14924a"/>
<rect x="625.39" y="395.94" width="6.12" height="6.12" fill="#14924a"/>
<rect x="643.54" y="394.94" width="6.12" height="6.12" fill="#14924a"/>
<rect x="661.69" y="393.94" width="6.12" height="6.12" fill="#14924a"/>
<polyline points="465.1,441.7 483.25,426.8 501.4,418 519.55,412 537.7,407.5 555.85,404.4 574,401.2 592.15,399.5 610.3,397.5 628.45,395.8 646.6,394.7 664.75,392.9" fill="none" stroke="#16713a" stroke-width="1.0" stroke-linejoin="round" />
<polygon points="460.96,441.7 465.1,437.56 469.24,441.7 465.1,445.84" fill="#16713a" />
<polygon points="479.11,426.8 483.25,422.66 487.39,426.8 483.25,430.94" fill="#16713a" />
<polygon points="497.26,418 501.4,413.86 505.54,418 501.4,422.14" fill="#16713a" />
<polygon points="515.41,412 519.55,407.86 523.69,412 519.55,416.14" fill="#16713a" />
<polygon points="533.56,407.5 537.7,403.36 541.84,407.5 537.7,411.64" fill="#16713a" />
<polygon points="551.71,404.4 555.85,400.26 559.99,404.4 555.85,408.54" fill="#16713a" />
<polygon points="569.86,401.2 574,397.06 578.14,401.2 574,405.34" fill="#16713a" />
<polygon points="588.01,399.5 592.15,395.36 596.29,399.5 592.15,403.64" fill="#16713a" />
<polygon points="606.16,397.5 610.3,393.36 614.44,397.5 610.3,401.64" fill="#16713a" />
<polygon points="624.31,395.8 628.45,391.66 632.59,395.8 628.45,399.94" fill="#16713a" />
<polygon points="642.46,394.7 646.6,390.56 650.74,394.7 646.6,398.84" fill="#16713a" />
<polygon points="660.61,392.9 664.75,388.76 668.89,392.9 664.75,397.04" fill="#16713a" />
<line x1="505.2" y1="489.6" x2="580.8" y2="489.6" stroke="#444" stroke-width="1.1" />
<line x1="580.8" y1="443.9" x2="580.8" y2="534.6" stroke="#444" stroke-width="1.1" />
<line x1="520.4" y1="489.6" x2="520.4" y2="485.2" stroke="#444" stroke-width="1.1" />
<line x1="576.5" y1="458.9" x2="580.8" y2="458.9" stroke="#444" stroke-width="1.1" />
<line x1="576.5" y1="519.2" x2="580.8" y2="519.2" stroke="#444" stroke-width="1.1" />
<text x="520.4" y="482.2" font-size="12.5" text-anchor="middle" fill="#1a1a1a" >-80</text>
<text x="574.8" y="464.5" font-size="12.5" text-anchor="end" fill="#1a1a1a" >0.02</text>
<text x="574.8" y="525" font-size="12.5" text-anchor="end" fill="#1a1a1a" >-0.02</text>
<clipPath id="insclip2"><rect x="495" y="440" width="110" height="95.5"/></clipPath><g clip-path="url(#insclip2)">
<line x1="504.8" y1="513.7" x2="504.8" y2="525.7" stroke="#111" stroke-width="0.9" />
<line x1="501.6" y1="513.7" x2="508" y2="513.7" stroke="#111" stroke-width="0.9" />
<line x1="501.6" y1="525.7" x2="508" y2="525.7" stroke="#111" stroke-width="0.9" />
<line x1="520" y1="499.2" x2="520" y2="511.2" stroke="#111" stroke-width="0.9" />
<line x1="516.8" y1="499.2" x2="523.2" y2="499.2" stroke="#111" stroke-width="0.9" />
<line x1="516.8" y1="511.2" x2="523.2" y2="511.2" stroke="#111" stroke-width="0.9" />
<line x1="535.2" y1="491.8" x2="535.2" y2="500.2" stroke="#111" stroke-width="0.9" />
<line x1="532" y1="491.8" x2="538.4" y2="491.8" stroke="#111" stroke-width="0.9" />
<line x1="532" y1="500.2" x2="538.4" y2="500.2" stroke="#111" stroke-width="0.9" />
<line x1="550.4" y1="485.8" x2="550.4" y2="494.2" stroke="#111" stroke-width="0.9" />
<line x1="547.2" y1="485.8" x2="553.6" y2="485.8" stroke="#111" stroke-width="0.9" />
<line x1="547.2" y1="494.2" x2="553.6" y2="494.2" stroke="#111" stroke-width="0.9" />
<line x1="565.6" y1="481" x2="565.6" y2="489.4" stroke="#111" stroke-width="0.9" />
<line x1="562.4" y1="481" x2="568.8" y2="481" stroke="#111" stroke-width="0.9" />
<line x1="562.4" y1="489.4" x2="568.8" y2="489.4" stroke="#111" stroke-width="0.9" />
<line x1="580.8" y1="477" x2="580.8" y2="485.4" stroke="#111" stroke-width="0.9" />
<line x1="577.6" y1="477" x2="584" y2="477" stroke="#111" stroke-width="0.9" />
<line x1="577.6" y1="485.4" x2="584" y2="485.4" stroke="#111" stroke-width="0.9" />
<line x1="596" y1="474" x2="596" y2="482.4" stroke="#111" stroke-width="0.9" />
<line x1="592.8" y1="474" x2="599.2" y2="474" stroke="#111" stroke-width="0.9" />
<line x1="592.8" y1="482.4" x2="599.2" y2="482.4" stroke="#111" stroke-width="0.9" />
<line x1="504.8" y1="506.8" x2="504.8" y2="516.8" stroke="#111" stroke-width="0.9" />
<line x1="501.6" y1="506.8" x2="508" y2="506.8" stroke="#111" stroke-width="0.9" />
<line x1="501.6" y1="516.8" x2="508" y2="516.8" stroke="#111" stroke-width="0.9" />
<line x1="520" y1="492.8" x2="520" y2="502.8" stroke="#111" stroke-width="0.9" />
<line x1="516.8" y1="492.8" x2="523.2" y2="492.8" stroke="#111" stroke-width="0.9" />
<line x1="516.8" y1="502.8" x2="523.2" y2="502.8" stroke="#111" stroke-width="0.9" />
<line x1="535.2" y1="483.5" x2="535.2" y2="490.5" stroke="#111" stroke-width="0.9" />
<line x1="532" y1="483.5" x2="538.4" y2="483.5" stroke="#111" stroke-width="0.9" />
<line x1="532" y1="490.5" x2="538.4" y2="490.5" stroke="#111" stroke-width="0.9" />
<line x1="550.4" y1="475" x2="550.4" y2="482" stroke="#111" stroke-width="0.9" />
<line x1="547.2" y1="475" x2="553.6" y2="475" stroke="#111" stroke-width="0.9" />
<line x1="547.2" y1="482" x2="553.6" y2="482" stroke="#111" stroke-width="0.9" />
<line x1="565.6" y1="468.5" x2="565.6" y2="475.5" stroke="#111" stroke-width="0.9" />
<line x1="562.4" y1="468.5" x2="568.8" y2="468.5" stroke="#111" stroke-width="0.9" />
<line x1="562.4" y1="475.5" x2="568.8" y2="475.5" stroke="#111" stroke-width="0.9" />
<line x1="580.8" y1="463.1" x2="580.8" y2="470.1" stroke="#111" stroke-width="0.9" />
<line x1="577.6" y1="463.1" x2="584" y2="463.1" stroke="#111" stroke-width="0.9" />
<line x1="577.6" y1="470.1" x2="584" y2="470.1" stroke="#111" stroke-width="0.9" />
<line x1="596" y1="458.9" x2="596" y2="465.9" stroke="#111" stroke-width="0.9" />
<line x1="592.8" y1="458.9" x2="599.2" y2="458.9" stroke="#111" stroke-width="0.9" />
<line x1="592.8" y1="465.9" x2="599.2" y2="465.9" stroke="#111" stroke-width="0.9" />
<line x1="504.8" y1="504.2" x2="504.8" y2="514.2" stroke="#111" stroke-width="0.9" />
<line x1="501.6" y1="504.2" x2="508" y2="504.2" stroke="#111" stroke-width="0.9" />
<line x1="501.6" y1="514.2" x2="508" y2="514.2" stroke="#111" stroke-width="0.9" />
<line x1="520" y1="497.2" x2="520" y2="507.2" stroke="#111" stroke-width="0.9" />
<line x1="516.8" y1="497.2" x2="523.2" y2="497.2" stroke="#111" stroke-width="0.9" />
<line x1="516.8" y1="507.2" x2="523.2" y2="507.2" stroke="#111" stroke-width="0.9" />
<line x1="535.2" y1="489.1" x2="535.2" y2="496.1" stroke="#111" stroke-width="0.9" />
<line x1="532" y1="489.1" x2="538.4" y2="489.1" stroke="#111" stroke-width="0.9" />
<line x1="532" y1="496.1" x2="538.4" y2="496.1" stroke="#111" stroke-width="0.9" />
<line x1="550.4" y1="482.4" x2="550.4" y2="489.4" stroke="#111" stroke-width="0.9" />
<line x1="547.2" y1="482.4" x2="553.6" y2="482.4" stroke="#111" stroke-width="0.9" />
<line x1="547.2" y1="489.4" x2="553.6" y2="489.4" stroke="#111" stroke-width="0.9" />
<line x1="565.6" y1="478.2" x2="565.6" y2="485.2" stroke="#111" stroke-width="0.9" />
<line x1="562.4" y1="478.2" x2="568.8" y2="478.2" stroke="#111" stroke-width="0.9" />
<line x1="562.4" y1="485.2" x2="568.8" y2="485.2" stroke="#111" stroke-width="0.9" />
<line x1="580.8" y1="473.6" x2="580.8" y2="480.6" stroke="#111" stroke-width="0.9" />
<line x1="577.6" y1="473.6" x2="584" y2="473.6" stroke="#111" stroke-width="0.9" />
<line x1="577.6" y1="480.6" x2="584" y2="480.6" stroke="#111" stroke-width="0.9" />
<line x1="596" y1="469.8" x2="596" y2="476.8" stroke="#111" stroke-width="0.9" />
<line x1="592.8" y1="469.8" x2="599.2" y2="469.8" stroke="#111" stroke-width="0.9" />
<line x1="592.8" y1="476.8" x2="599.2" y2="476.8" stroke="#111" stroke-width="0.9" />
<line x1="504.8" y1="500.7" x2="504.8" y2="510.7" stroke="#111" stroke-width="0.9" />
<line x1="501.6" y1="500.7" x2="508" y2="500.7" stroke="#111" stroke-width="0.9" />
<line x1="501.6" y1="510.7" x2="508" y2="510.7" stroke="#111" stroke-width="0.9" />
<line x1="520" y1="494.6" x2="520" y2="504.6" stroke="#111" stroke-width="0.9" />
<line x1="516.8" y1="494.6" x2="523.2" y2="494.6" stroke="#111" stroke-width="0.9" />
<line x1="516.8" y1="504.6" x2="523.2" y2="504.6" stroke="#111" stroke-width="0.9" />
<line x1="535.2" y1="496.9" x2="535.2" y2="503.9" stroke="#111" stroke-width="0.9" />
<line x1="532" y1="496.9" x2="538.4" y2="496.9" stroke="#111" stroke-width="0.9" />
<line x1="532" y1="503.9" x2="538.4" y2="503.9" stroke="#111" stroke-width="0.9" />
<line x1="550.4" y1="492.9" x2="550.4" y2="499.9" stroke="#111" stroke-width="0.9" />
<line x1="547.2" y1="492.9" x2="553.6" y2="492.9" stroke="#111" stroke-width="0.9" />
<line x1="547.2" y1="499.9" x2="553.6" y2="499.9" stroke="#111" stroke-width="0.9" />
<line x1="565.6" y1="489.1" x2="565.6" y2="496.1" stroke="#111" stroke-width="0.9" />
<line x1="562.4" y1="489.1" x2="568.8" y2="489.1" stroke="#111" stroke-width="0.9" />
<line x1="562.4" y1="496.1" x2="568.8" y2="496.1" stroke="#111" stroke-width="0.9" />
<line x1="580.8" y1="487.3" x2="580.8" y2="494.3" stroke="#111" stroke-width="0.9" />
<line x1="577.6" y1="487.3" x2="584" y2="487.3" stroke="#111" stroke-width="0.9" />
<line x1="577.6" y1="494.3" x2="584" y2="494.3" stroke="#111" stroke-width="0.9" />
<line x1="596" y1="485.6" x2="596" y2="492.6" stroke="#111" stroke-width="0.9" />
<line x1="592.8" y1="485.6" x2="599.2" y2="485.6" stroke="#111" stroke-width="0.9" />
<line x1="592.8" y1="492.6" x2="599.2" y2="492.6" stroke="#111" stroke-width="0.9" />
<line x1="504.8" y1="498.2" x2="504.8" y2="506.2" stroke="#111" stroke-width="0.9" />
<line x1="501.6" y1="498.2" x2="508" y2="498.2" stroke="#111" stroke-width="0.9" />
<line x1="501.6" y1="506.2" x2="508" y2="506.2" stroke="#111" stroke-width="0.9" />
<line x1="520" y1="490.3" x2="520" y2="498.3" stroke="#111" stroke-width="0.9" />
<line x1="516.8" y1="490.3" x2="523.2" y2="490.3" stroke="#111" stroke-width="0.9" />
<line x1="516.8" y1="498.3" x2="523.2" y2="498.3" stroke="#111" stroke-width="0.9" />
<line x1="535.2" y1="487.2" x2="535.2" y2="492.8" stroke="#111" stroke-width="0.9" />
<line x1="532" y1="487.2" x2="538.4" y2="487.2" stroke="#111" stroke-width="0.9" />
<line x1="532" y1="492.8" x2="538.4" y2="492.8" stroke="#111" stroke-width="0.9" />
<line x1="550.4" y1="481.9" x2="550.4" y2="487.5" stroke="#111" stroke-width="0.9" />
<line x1="547.2" y1="481.9" x2="553.6" y2="481.9" stroke="#111" stroke-width="0.9" />
<line x1="547.2" y1="487.5" x2="553.6" y2="487.5" stroke="#111" stroke-width="0.9" />
<line x1="565.6" y1="479.6" x2="565.6" y2="485.2" stroke="#111" stroke-width="0.9" />
<line x1="562.4" y1="479.6" x2="568.8" y2="479.6" stroke="#111" stroke-width="0.9" />
<line x1="562.4" y1="485.2" x2="568.8" y2="485.2" stroke="#111" stroke-width="0.9" />
<line x1="580.8" y1="476.1" x2="580.8" y2="481.7" stroke="#111" stroke-width="0.9" />
<line x1="577.6" y1="476.1" x2="584" y2="476.1" stroke="#111" stroke-width="0.9" />
<line x1="577.6" y1="481.7" x2="584" y2="481.7" stroke="#111" stroke-width="0.9" />
<line x1="596" y1="473.2" x2="596" y2="478.8" stroke="#111" stroke-width="0.9" />
<line x1="592.8" y1="473.2" x2="599.2" y2="473.2" stroke="#111" stroke-width="0.9" />
<line x1="592.8" y1="478.8" x2="599.2" y2="478.8" stroke="#111" stroke-width="0.9" />
<line x1="520" y1="529.7" x2="520" y2="545" stroke="#111" stroke-width="0.9" />
<line x1="516.8" y1="529.7" x2="523.2" y2="529.7" stroke="#111" stroke-width="0.9" />
<line x1="516.8" y1="545" x2="523.2" y2="545" stroke="#111" stroke-width="0.9" />
<line x1="535.2" y1="513.6" x2="535.2" y2="531.1" stroke="#111" stroke-width="0.9" />
<line x1="532" y1="513.6" x2="538.4" y2="513.6" stroke="#111" stroke-width="0.9" />
<line x1="532" y1="531.1" x2="538.4" y2="531.1" stroke="#111" stroke-width="0.9" />
<line x1="550.4" y1="502.2" x2="550.4" y2="514.5" stroke="#111" stroke-width="0.9" />
<line x1="547.2" y1="502.2" x2="553.6" y2="502.2" stroke="#111" stroke-width="0.9" />
<line x1="547.2" y1="514.5" x2="553.6" y2="514.5" stroke="#111" stroke-width="0.9" />
<line x1="565.6" y1="495.7" x2="565.6" y2="502.2" stroke="#111" stroke-width="0.9" />
<line x1="562.4" y1="495.7" x2="568.8" y2="495.7" stroke="#111" stroke-width="0.9" />
<line x1="562.4" y1="502.2" x2="568.8" y2="502.2" stroke="#111" stroke-width="0.9" />
<line x1="580.8" y1="487" x2="580.8" y2="494" stroke="#111" stroke-width="0.9" />
<line x1="577.6" y1="487" x2="584" y2="487" stroke="#111" stroke-width="0.9" />
<line x1="577.6" y1="494" x2="584" y2="494" stroke="#111" stroke-width="0.9" />
<line x1="596" y1="482" x2="596" y2="488" stroke="#111" stroke-width="0.9" />
<line x1="592.8" y1="482" x2="599.2" y2="482" stroke="#111" stroke-width="0.9" />
<line x1="592.8" y1="488" x2="599.2" y2="488" stroke="#111" stroke-width="0.9" />
</g>
<clipPath id="insclip"><rect x="495" y="440" width="110" height="95.5"/></clipPath>
<g clip-path="url(#insclip)">
<polyline points="504.8,502.2 520,494.3 535.2,490 550.4,484.7 565.6,482.4 580.8,478.9 596,476" fill="none" stroke="#e0231c" stroke-width="1.8" stroke-linejoin="round" />
<circle cx="504.8" cy="502.2" r="3.24" fill="#e0231c"/>
<circle cx="520" cy="494.3" r="3.24" fill="#e0231c"/>
<circle cx="535.2" cy="490" r="3.24" fill="#e0231c"/>
<circle cx="550.4" cy="484.7" r="3.24" fill="#e0231c"/>
<circle cx="565.6" cy="482.4" r="3.24" fill="#e0231c"/>
<circle cx="580.8" cy="478.9" r="3.24" fill="#e0231c"/>
<circle cx="596" cy="476" r="3.24" fill="#e0231c"/>
<polyline points="504.8,504.5 520,496.5 535.2,491 550.4,485.5 565.6,482.8 580.8,479.5 596,477" fill="none" stroke="#8b1a1a" stroke-width="1.8" stroke-linejoin="round" />
<polygon points="501.2,501.26 508.4,501.26 504.8,507.74" fill="#8b1a1a" />
<polygon points="516.4,493.26 523.6,493.26 520,499.74" fill="#8b1a1a" />
<polygon points="531.6,487.76 538.8,487.76 535.2,494.24" fill="#8b1a1a" />
<polygon points="546.8,482.26 554,482.26 550.4,488.74" fill="#8b1a1a" />
<polygon points="562,479.56 569.2,479.56 565.6,486.04" fill="#8b1a1a" />
<polygon points="577.2,476.26 584.4,476.26 580.8,482.74" fill="#8b1a1a" />
<polygon points="592.4,473.76 599.6,473.76 596,480.24" fill="#8b1a1a" />
<polyline points="504.8,505.7 520,499.6 535.2,500.4 550.4,496.4 565.6,492.6 580.8,490.8 596,489.1" fill="none" stroke="#111" stroke-width="1.8" stroke-linejoin="round" />
<circle cx="535.2" cy="500.4" r="3.024" fill="#fff" stroke="#111" stroke-width="0.9"/>
<circle cx="550.4" cy="496.4" r="3.024" fill="#fff" stroke="#111" stroke-width="0.9"/>
<circle cx="565.6" cy="492.6" r="3.024" fill="#fff" stroke="#111" stroke-width="0.9"/>
<circle cx="580.8" cy="490.8" r="3.024" fill="#fff" stroke="#111" stroke-width="0.9"/>
<circle cx="596" cy="489.1" r="3.024" fill="#fff" stroke="#111" stroke-width="0.9"/>
<polyline points="516.2,540 520,545 535.2,522 550.4,508 565.6,498.7 580.8,490.8 596,485.2" fill="none" stroke="#f5a31a" stroke-width="1.8" stroke-linejoin="round" />
<polygon points="512.6,543.24 519.8,543.24 516.2,536.76" fill="#f5a31a" />
<polygon points="516.4,548.24 523.6,548.24 520,541.76" fill="#f5a31a" />
<polygon points="531.6,525.24 538.8,525.24 535.2,518.76" fill="#f5a31a" />
<polygon points="546.8,511.24 554,511.24 550.4,504.76" fill="#f5a31a" />
<polygon points="562,501.94 569.2,501.94 565.6,495.46" fill="#f5a31a" />
<polygon points="577.2,494.04 584.4,494.04 580.8,487.56" fill="#f5a31a" />
<polygon points="592.4,488.44 599.6,488.44 596,481.96" fill="#f5a31a" />
<polyline points="504.8,519.7 520,505.2 535.2,496 550.4,490 565.6,485.2 580.8,481.2 596,478.2" fill="none" stroke="#14924a" stroke-width="1.8" stroke-linejoin="round" />
<rect x="501.74" y="516.64" width="6.12" height="6.12" fill="#14924a"/>
<rect x="516.94" y="502.14" width="6.12" height="6.12" fill="#14924a"/>
<rect x="532.14" y="492.94" width="6.12" height="6.12" fill="#14924a"/>
<rect x="547.34" y="486.94" width="6.12" height="6.12" fill="#14924a"/>
<rect x="562.54" y="482.14" width="6.12" height="6.12" fill="#14924a"/>
<rect x="577.74" y="478.14" width="6.12" height="6.12" fill="#14924a"/>
<rect x="592.94" y="475.14" width="6.12" height="6.12" fill="#14924a"/>
<polyline points="504.8,509.2 520,502.2 535.2,492.6 550.4,485.9 565.6,481.7 580.8,477.1 596,473.3" fill="none" stroke="#d2c500" stroke-width="1.8" stroke-linejoin="round" />
<rect x="501.74" y="506.14" width="6.12" height="6.12" fill="#d2c500"/>
<rect x="516.94" y="499.14" width="6.12" height="6.12" fill="#d2c500"/>
<rect x="532.14" y="489.54" width="6.12" height="6.12" fill="#d2c500"/>
<rect x="547.34" y="482.84" width="6.12" height="6.12" fill="#d2c500"/>
<rect x="562.54" y="478.64" width="6.12" height="6.12" fill="#d2c500"/>
<rect x="577.74" y="474.04" width="6.12" height="6.12" fill="#d2c500"/>
<rect x="592.94" y="470.24" width="6.12" height="6.12" fill="#d2c500"/>
<polyline points="504.8,511.8 520,497.8 535.2,487 550.4,478.5 565.6,472 580.8,466.6 596,462.4" fill="none" stroke="#16713a" stroke-width="1.8" stroke-linejoin="round" />
<polygon points="500.66,511.8 504.8,507.66 508.94,511.8 504.8,515.94" fill="#16713a" />
<polygon points="515.86,497.8 520,493.66 524.14,497.8 520,501.94" fill="#16713a" />
<polygon points="531.06,487 535.2,482.86 539.34,487 535.2,491.14" fill="#16713a" />
<polygon points="546.26,478.5 550.4,474.36 554.54,478.5 550.4,482.64" fill="#16713a" />
<polygon points="561.46,472 565.6,467.86 569.74,472 565.6,476.14" fill="#16713a" />
<polygon points="576.66,466.6 580.8,462.46 584.94,466.6 580.8,470.74" fill="#16713a" />
<polygon points="591.86,462.4 596,458.26 600.14,462.4 596,466.54" fill="#16713a" />
</g>
<line x1="465.8" y1="566.9" x2="465.8" y2="716.4" stroke="#1a1a1a" stroke-width="1.3" />
<line x1="465.2" y1="715.8" x2="650.6" y2="715.8" stroke="#1a1a1a" stroke-width="1.3" />
<line x1="465.8" y1="586.5" x2="469.3" y2="586.5" stroke="#333" stroke-width="1.1" />
<text x="460.2" y="592.9" font-size="17.9" text-anchor="end" fill="#1a1a1a" >0</text>
<line x1="465.8" y1="623.5" x2="469.3" y2="623.5" stroke="#333" stroke-width="1.1" />
<text x="460.2" y="629.9" font-size="17.9" text-anchor="end" fill="#1a1a1a" >-40</text>
<line x1="465.8" y1="660.5" x2="469.3" y2="660.5" stroke="#333" stroke-width="1.1" />
<text x="460.2" y="666.9" font-size="17.9" text-anchor="end" fill="#1a1a1a" >-80</text>
<line x1="465.8" y1="697.5" x2="469.3" y2="697.5" stroke="#333" stroke-width="1.1" />
<text x="460.2" y="703.9" font-size="17.9" text-anchor="end" fill="#1a1a1a" >-120</text>
<line x1="479" y1="715.8" x2="479" y2="712.3" stroke="#333" stroke-width="1.1" />
<line x1="505.2" y1="715.8" x2="505.2" y2="712.3" stroke="#333" stroke-width="1.1" />
<line x1="531.8" y1="715.8" x2="531.8" y2="712.3" stroke="#333" stroke-width="1.1" />
<line x1="558" y1="715.8" x2="558" y2="712.3" stroke="#333" stroke-width="1.1" />
<line x1="584.9" y1="715.8" x2="584.9" y2="712.3" stroke="#333" stroke-width="1.1" />
<line x1="611.2" y1="715.8" x2="611.2" y2="712.3" stroke="#333" stroke-width="1.1" />
<line x1="638.1" y1="715.8" x2="638.1" y2="712.3" stroke="#333" stroke-width="1.1" />
<polyline points="479,559.6 479,553.2 638.1,553.2 638.1,559.6" fill="none" stroke="#555" stroke-width="1.0" stroke-linejoin="round" />
<line x1="505.2" y1="553.2" x2="505.2" y2="559.6" stroke="#555" stroke-width="1.0" />
<line x1="531.8" y1="553.2" x2="531.8" y2="559.6" stroke="#555" stroke-width="1.0" />
<line x1="558" y1="553.2" x2="558" y2="559.6" stroke="#555" stroke-width="1.0" />
<line x1="584.9" y1="553.2" x2="584.9" y2="559.6" stroke="#555" stroke-width="1.0" />
<line x1="611.2" y1="553.2" x2="611.2" y2="559.6" stroke="#555" stroke-width="1.0" />
<text transform="translate(422.8,640.3) rotate(-90)" font-size="20" text-anchor="middle" fill="#1a1a1a">E<tspan font-size="12" dy="4">rev</tspan><tspan dy="-4"> (mV)</tspan></text>
<rect x="470.3" y="584.6" width="17.4" height="17.6" fill="none" stroke="#333" stroke-width="0.9"/>
<line x1="471.3" y1="597.9" x2="486.7" y2="597.9" stroke="#555" stroke-width="0.8" stroke-dasharray="2 1.5"/>
<rect x="496.7" y="649.4" width="17.1" height="10.7" fill="none" stroke="#333" stroke-width="0.9"/>
<line x1="497.7" y1="654.2" x2="512.8" y2="654.2" stroke="#555" stroke-width="0.8" stroke-dasharray="2 1.5"/>
<rect x="523.4" y="635.3" width="17.3" height="12.3" fill="none" stroke="#333" stroke-width="0.9"/>
<line x1="524.4" y1="641.5" x2="539.7" y2="641.5" stroke="#555" stroke-width="0.8" stroke-dasharray="2 1.5"/>
<line x1="532.05" y1="647.6" x2="532.05" y2="654.5" stroke="#333" stroke-width="0.9" />
<line x1="528.05" y1="654.5" x2="536.05" y2="654.5" stroke="#333" stroke-width="0.9" />
<rect x="549.7" y="641.7" width="17.1" height="8.8" fill="none" stroke="#333" stroke-width="0.9"/>
<line x1="550.7" y1="646" x2="565.8" y2="646" stroke="#555" stroke-width="0.8" stroke-dasharray="2 1.5"/>
<rect x="576.4" y="630.4" width="17.2" height="17.2" fill="none" stroke="#333" stroke-width="0.9"/>
<line x1="577.4" y1="642" x2="592.6" y2="642" stroke="#555" stroke-width="0.8" stroke-dasharray="2 1.5"/>
<line x1="585" y1="647.6" x2="585" y2="657.4" stroke="#333" stroke-width="0.9" />
<line x1="581" y1="657.4" x2="589" y2="657.4" stroke="#333" stroke-width="0.9" />
<rect x="602.3" y="589.5" width="17.4" height="22" fill="none" stroke="#333" stroke-width="0.9"/>
<line x1="603.3" y1="598.1" x2="618.7" y2="598.1" stroke="#555" stroke-width="0.8" stroke-dasharray="2 1.5"/>
<rect x="629.5" y="653.2" width="16.9" height="7.8" fill="none" stroke="#333" stroke-width="0.9"/>
<line x1="630.5" y1="657" x2="645.4" y2="657" stroke="#555" stroke-width="0.8" stroke-dasharray="2 1.5"/>
<circle cx="475.3" cy="575" r="2.35" fill="#111"/>
<circle cx="478.6" cy="574.1" r="2.35" fill="#111"/>
<circle cx="481.5" cy="572.8" r="2.35" fill="#111"/>
<circle cx="475.3" cy="580.8" r="2.35" fill="#111"/>
<circle cx="484.6" cy="581" r="2.35" fill="#111"/>
<circle cx="472.4" cy="583.1" r="2.35" fill="#111"/>
<circle cx="473" cy="588.5" r="2.35" fill="#111"/>
<circle cx="478" cy="586" r="2.35" fill="#111"/>
<circle cx="482" cy="588" r="2.35" fill="#111"/>
<circle cx="486" cy="588" r="2.35" fill="#111"/>
<circle cx="476" cy="590" r="2.35" fill="#111"/>
<circle cx="481" cy="592" r="2.35" fill="#111"/>
<circle cx="471.5" cy="590" r="2.35" fill="#111"/>
<circle cx="483" cy="593" r="2.35" fill="#111"/>
<circle cx="478" cy="593.5" r="2.35" fill="#111"/>
<circle cx="472.5" cy="592" r="2.35" fill="#111"/>
<circle cx="474.3" cy="601.8" r="2.35" fill="#111"/>
<circle cx="480.5" cy="600.5" r="2.35" fill="#111"/>
<circle cx="482.9" cy="600.1" r="2.35" fill="#111"/>
<circle cx="476.2" cy="604.1" r="2.35" fill="#111"/>
<circle cx="475.8" cy="607.8" r="2.35" fill="#111"/>
<circle cx="479.1" cy="609.4" r="2.35" fill="#111"/>
<circle cx="481.8" cy="608" r="2.35" fill="#111"/>
<circle cx="478.6" cy="607" r="2.35" fill="#111"/>
<circle cx="478.6" cy="630.9" r="2.35" fill="#111"/>
<circle cx="504.9" cy="630" r="2.35" fill="#111"/>
<circle cx="504.9" cy="633.2" r="2.35" fill="#111"/>
<circle cx="504.9" cy="644.9" r="2.35" fill="#111"/>
<circle cx="504.9" cy="653.7" r="2.35" fill="#111"/>
<circle cx="498" cy="658.5" r="2.35" fill="#111"/>
<circle cx="501.2" cy="658.5" r="2.35" fill="#111"/>
<circle cx="504.9" cy="658.5" r="2.35" fill="#111"/>
<circle cx="508.5" cy="658.5" r="2.35" fill="#111"/>
<circle cx="511.7" cy="658.5" r="2.35" fill="#111"/>
<circle cx="504.9" cy="664.2" r="2.35" fill="#111"/>
<circle cx="504.9" cy="678.6" r="2.35" fill="#111"/>
<circle cx="531.8" cy="627.7" r="2.35" fill="#111"/>
<circle cx="527.3" cy="633.7" r="2.35" fill="#111"/>
<circle cx="536.2" cy="632.5" r="2.35" fill="#111"/>
<circle cx="531.8" cy="636.9" r="2.35" fill="#111"/>
<circle cx="531.8" cy="640.1" r="2.35" fill="#111"/>
<circle cx="525" cy="645.7" r="2.35" fill="#111"/>
<circle cx="529.3" cy="645.7" r="2.35" fill="#111"/>
<circle cx="533.7" cy="645.7" r="2.35" fill="#111"/>
<circle cx="538.2" cy="644.1" r="2.35" fill="#111"/>
<circle cx="531.8" cy="649.7" r="2.35" fill="#111"/>
<circle cx="531.8" cy="652.9" r="2.35" fill="#111"/>
<circle cx="531.8" cy="687.1" r="2.35" fill="#111"/>
<circle cx="558.3" cy="630.4" r="2.35" fill="#111"/>
<circle cx="560.3" cy="637.7" r="2.35" fill="#111"/>
<circle cx="555.8" cy="641.2" r="2.35" fill="#111"/>
<circle cx="551.8" cy="648.6" r="2.35" fill="#111"/>
<circle cx="555.8" cy="649.7" r="2.35" fill="#111"/>
<circle cx="560.3" cy="648.9" r="2.35" fill="#111"/>
<circle cx="564.7" cy="646.5" r="2.35" fill="#111"/>
<circle cx="555.8" cy="652.9" r="2.35" fill="#111"/>
<circle cx="560.3" cy="653.4" r="2.35" fill="#111"/>
<circle cx="584.7" cy="619.5" r="2.35" fill="#111"/>
<circle cx="579.1" cy="630.4" r="2.35" fill="#111"/>
<circle cx="584.7" cy="630.4" r="2.35" fill="#111"/>
<circle cx="590.4" cy="630.4" r="2.35" fill="#111"/>
<circle cx="584.7" cy="640.1" r="2.35" fill="#111"/>
<circle cx="579.1" cy="643.3" r="2.35" fill="#111"/>
<circle cx="584.7" cy="643.3" r="2.35" fill="#111"/>
<circle cx="590.4" cy="645.4" r="2.35" fill="#111"/>
<circle cx="584.7" cy="647.3" r="2.35" fill="#111"/>
<circle cx="584.7" cy="651.3" r="2.35" fill="#111"/>
<circle cx="584.7" cy="698.7" r="2.35" fill="#111"/>
<circle cx="611" cy="575.7" r="2.35" fill="#111"/>
<circle cx="604.6" cy="591.1" r="2.35" fill="#111"/>
<circle cx="609" cy="588.4" r="2.35" fill="#111"/>
<circle cx="613" cy="589.7" r="2.35" fill="#111"/>
<circle cx="617.7" cy="591.1" r="2.35" fill="#111"/>
<circle cx="609" cy="594.1" r="2.35" fill="#111"/>
<circle cx="611" cy="604" r="2.35" fill="#111"/>
<circle cx="611" cy="611.5" r="2.35" fill="#111"/>
<circle cx="611" cy="617.8" r="2.35" fill="#111"/>
<circle cx="611" cy="628.5" r="2.35" fill="#111"/>
<circle cx="636.4" cy="649.2" r="2.35" fill="#111"/>
<circle cx="639.1" cy="650.5" r="2.35" fill="#111"/>
<circle cx="631.1" cy="653.9" r="2.35" fill="#111"/>
<circle cx="644.4" cy="653.2" r="2.35" fill="#111"/>
<circle cx="635.1" cy="657.2" r="2.35" fill="#111"/>
<circle cx="640.4" cy="657.2" r="2.35" fill="#111"/>
<circle cx="631.7" cy="661.9" r="2.35" fill="#111"/>
<circle cx="636.4" cy="662.6" r="2.35" fill="#111"/>
<circle cx="641.1" cy="661.9" r="2.35" fill="#111"/>
<circle cx="645.1" cy="660.5" r="2.35" fill="#111"/>
<circle cx="637.8" cy="659.2" r="2.35" fill="#111"/>
<circle cx="633.5" cy="656.5" r="2.35" fill="#111"/>
<circle cx="642.5" cy="655" r="2.35" fill="#111"/>
<text transform="translate(496.5,612) rotate(-60)" font-size="9" fill="#222"><tspan font-style="italic">p</tspan> =1.4 x 10<tspan font-size="6" dy="-4.5">-16</tspan></text>
<text transform="translate(522.8,612) rotate(-60)" font-size="9" fill="#222"><tspan font-style="italic">p</tspan> =6.4 x 10<tspan font-size="6" dy="-4.5">-13</tspan></text>
<text transform="translate(549,612) rotate(-60)" font-size="9" fill="#222"><tspan font-style="italic">p</tspan> =1.4 x 10<tspan font-size="6" dy="-4.5">-13</tspan></text>
<text transform="translate(575.5,612) rotate(-60)" font-size="9" fill="#222"><tspan font-style="italic">p</tspan> =1.5 x 10<tspan font-size="6" dy="-4.5">-10</tspan></text>
<text transform="translate(628,612) rotate(-60)" font-size="9" fill="#222"><tspan font-style="italic">p</tspan> =1.1 x 10<tspan font-size="6" dy="-4.5">-16</tspan></text>
<text transform="translate(606.5,703.5) rotate(-60)" font-size="9" fill="#222"><tspan font-style="italic">p</tspan> =0.28</text>
<text transform="translate(507,724.3) rotate(-50)" font-size="17" text-anchor="end" fill="#1a1a1a">glutamate</text>
<text transform="translate(533.5,724.3) rotate(-50)" font-size="17" text-anchor="end" fill="#1a1a1a">gluconate</text>
<text transform="translate(560.5,724.3) rotate(-50)" font-size="17" text-anchor="end" fill="#1a1a1a">aspartate</text>
<text transform="translate(582,726.3) rotate(-50)" font-size="17" text-anchor="end" fill="#1a1a1a">MES</text>
<text transform="translate(607.5,725.3) rotate(-50)" font-size="17" text-anchor="end" fill="#1a1a1a">MSA</text>
<text transform="translate(661.5,724.8) rotate(-50)" font-size="17" text-anchor="end" fill="#1a1a1a">Isethionate</text>
<text transform="translate(634,722.8) rotate(-50)" font-size="17" text-anchor="end" fill="#1a1a1a">HCO<tspan font-size="8.5" dy="2.5">3</tspan></text>
</svg></body></html>
